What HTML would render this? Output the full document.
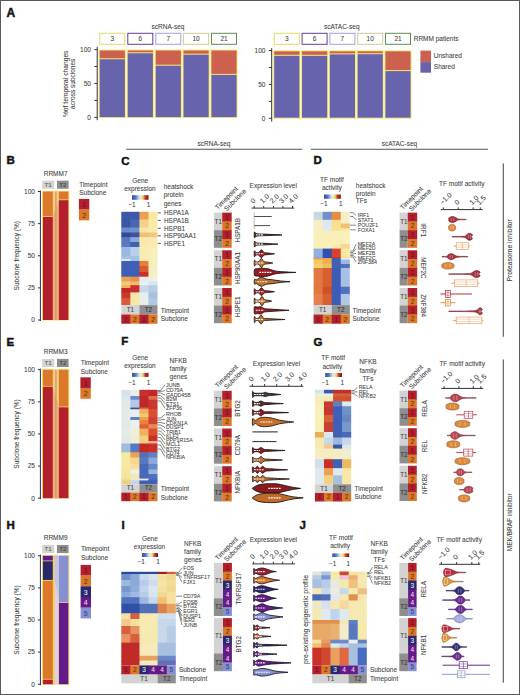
<!DOCTYPE html>
<html><head><meta charset="utf-8"><style>
html,body{margin:0;padding:0;background:#fff;}
svg{display:block;font-family:"Liberation Sans", sans-serif;}
text{stroke-width:0.07px;paint-order:stroke;}
</style></head><body>
<svg width="520" height="695" viewBox="0 0 520 695"><rect x="0.5" y="0.5" width="519" height="694" fill="none" stroke="#5a5a5a" stroke-width="1"/>
<text x="6.6" y="16.8" font-size="12" fill="#111" stroke="#111" font-weight="bold" style="stroke-width:0.45px" >A</text>
<rect x="99.8" y="33.3" width="25" height="11" fill="#fff" stroke="#e2da62" stroke-width="1"/>
<text x="112.3" y="41.4" font-size="6.5" fill="#404040" stroke="#404040" text-anchor="middle" >3</text>
<rect x="127.8" y="33.3" width="25" height="11" fill="#fff" stroke="#6a3c90" stroke-width="1"/>
<text x="140.3" y="41.4" font-size="6.5" fill="#404040" stroke="#404040" text-anchor="middle" >6</text>
<rect x="155.8" y="33.3" width="25" height="11" fill="#fff" stroke="#a09ee0" stroke-width="1"/>
<text x="168.3" y="41.4" font-size="6.5" fill="#404040" stroke="#404040" text-anchor="middle" >7</text>
<rect x="183.6" y="33.3" width="25" height="11" fill="#fff" stroke="#d6c796" stroke-width="1"/>
<text x="196.1" y="41.4" font-size="6.5" fill="#404040" stroke="#404040" text-anchor="middle" >10</text>
<rect x="211.5" y="33.3" width="25" height="11" fill="#fff" stroke="#5c8c52" stroke-width="1"/>
<text x="224" y="41.4" font-size="6.5" fill="#404040" stroke="#404040" text-anchor="middle" >21</text>
<text x="151.5" y="28.8" font-size="6.5" fill="#404040" stroke="#404040" >scRNA-seq</text>
<line x1="97.2" y1="46.8" x2="97.2" y2="120.2" stroke="#333" stroke-width="1" />
<line x1="94.4" y1="49.6" x2="97.2" y2="49.6" stroke="#333" stroke-width="1" />
<text x="90.9" y="51.9" font-size="6.5" fill="#404040" stroke="#404040" text-anchor="end" >100</text>
<line x1="94.4" y1="66.55" x2="97.2" y2="66.55" stroke="#333" stroke-width="1" />
<line x1="94.4" y1="83.5" x2="97.2" y2="83.5" stroke="#333" stroke-width="1" />
<text x="90.9" y="85.8" font-size="6.5" fill="#404040" stroke="#404040" text-anchor="end" >50</text>
<line x1="94.4" y1="100.45" x2="97.2" y2="100.45" stroke="#333" stroke-width="1" />
<line x1="94.4" y1="117.4" x2="97.2" y2="117.4" stroke="#333" stroke-width="1" />
<text x="90.9" y="119.7" font-size="6.5" fill="#404040" stroke="#404040" text-anchor="end" >0</text>
<rect x="98.6" y="49.5" width="27.3" height="68.6" fill="#f7e97a"/>
<rect x="99.7" y="50.5" width="25.2" height="7.8" fill="#cd6150"/>
<rect x="99.7" y="59.3" width="25.2" height="57.8" fill="#6863ad"/>
<rect x="126.6" y="49.5" width="27.3" height="68.6" fill="#f7e97a"/>
<rect x="127.7" y="50.5" width="25.2" height="1.8" fill="#cd6150"/>
<rect x="127.7" y="53.3" width="25.2" height="63.8" fill="#6863ad"/>
<rect x="154.6" y="49.5" width="27.3" height="68.6" fill="#f7e97a"/>
<rect x="155.7" y="50.5" width="25.2" height="14.2" fill="#cd6150"/>
<rect x="155.7" y="65.7" width="25.2" height="51.4" fill="#6863ad"/>
<rect x="182.4" y="49.5" width="27.3" height="68.6" fill="#f7e97a"/>
<rect x="183.5" y="50.5" width="25.2" height="3.2" fill="#cd6150"/>
<rect x="183.5" y="54.7" width="25.2" height="62.4" fill="#6863ad"/>
<rect x="210.3" y="49.5" width="27.3" height="68.6" fill="#f7e97a"/>
<rect x="211.4" y="50.5" width="25.2" height="23.4" fill="#cd6150"/>
<rect x="211.4" y="74.9" width="25.2" height="42.2" fill="#6863ad"/>
<rect x="274.3" y="33.3" width="25" height="11" fill="#fff" stroke="#e2da62" stroke-width="1"/>
<text x="286.8" y="41.4" font-size="6.5" fill="#404040" stroke="#404040" text-anchor="middle" >3</text>
<rect x="302.1" y="33.3" width="25" height="11" fill="#fff" stroke="#6a3c90" stroke-width="1"/>
<text x="314.6" y="41.4" font-size="6.5" fill="#404040" stroke="#404040" text-anchor="middle" >6</text>
<rect x="329.9" y="33.3" width="25" height="11" fill="#fff" stroke="#a09ee0" stroke-width="1"/>
<text x="342.4" y="41.4" font-size="6.5" fill="#404040" stroke="#404040" text-anchor="middle" >7</text>
<rect x="357.7" y="33.3" width="25" height="11" fill="#fff" stroke="#d6c796" stroke-width="1"/>
<text x="370.2" y="41.4" font-size="6.5" fill="#404040" stroke="#404040" text-anchor="middle" >10</text>
<rect x="385.5" y="33.3" width="25" height="11" fill="#fff" stroke="#5c8c52" stroke-width="1"/>
<text x="398" y="41.4" font-size="6.5" fill="#404040" stroke="#404040" text-anchor="middle" >21</text>
<text x="324" y="28.8" font-size="6.5" fill="#404040" stroke="#404040" >scATAC-seq</text>
<line x1="271.7" y1="48.1" x2="271.7" y2="121.6" stroke="#333" stroke-width="1" />
<line x1="268.9" y1="50.5" x2="271.7" y2="50.5" stroke="#333" stroke-width="1" />
<text x="265.4" y="52.8" font-size="6.5" fill="#404040" stroke="#404040" text-anchor="end" >100</text>
<line x1="268.9" y1="67.45" x2="271.7" y2="67.45" stroke="#333" stroke-width="1" />
<line x1="268.9" y1="84.4" x2="271.7" y2="84.4" stroke="#333" stroke-width="1" />
<text x="265.4" y="86.7" font-size="6.5" fill="#404040" stroke="#404040" text-anchor="end" >50</text>
<line x1="268.9" y1="101.35" x2="271.7" y2="101.35" stroke="#333" stroke-width="1" />
<line x1="268.9" y1="118.3" x2="271.7" y2="118.3" stroke="#333" stroke-width="1" />
<text x="265.4" y="120.6" font-size="6.5" fill="#404040" stroke="#404040" text-anchor="end" >0</text>
<rect x="273.1" y="50.3" width="27.3" height="68.4" fill="#f7e97a"/>
<rect x="274.2" y="51.3" width="25.2" height="3.5" fill="#cd6150"/>
<rect x="274.2" y="55.8" width="25.2" height="61.9" fill="#6863ad"/>
<rect x="300.9" y="50.3" width="27.3" height="68.4" fill="#f7e97a"/>
<rect x="302" y="51.3" width="25.2" height="3.5" fill="#cd6150"/>
<rect x="302" y="55.8" width="25.2" height="61.9" fill="#6863ad"/>
<rect x="328.7" y="50.3" width="27.3" height="68.4" fill="#f7e97a"/>
<rect x="329.8" y="51.3" width="25.2" height="2.1" fill="#cd6150"/>
<rect x="329.8" y="54.4" width="25.2" height="63.3" fill="#6863ad"/>
<rect x="356.5" y="50.3" width="27.3" height="68.4" fill="#f7e97a"/>
<rect x="357.6" y="51.3" width="25.2" height="1.9" fill="#cd6150"/>
<rect x="357.6" y="54.2" width="25.2" height="63.5" fill="#6863ad"/>
<rect x="384.3" y="50.3" width="27.3" height="68.4" fill="#f7e97a"/>
<rect x="385.4" y="51.3" width="25.2" height="18.8" fill="#cd6150"/>
<rect x="385.4" y="71.1" width="25.2" height="46.6" fill="#6863ad"/>
<text x="413.7" y="40.8" font-size="6.5" fill="#404040" stroke="#404040" >RRMM patients</text>
<rect x="420.4" y="50.6" width="10.6" height="11.5" fill="#cd6150"/>
<rect x="420.4" y="62.1" width="10.6" height="10.6" fill="#6863ad"/>
<text x="433.8" y="58.3" font-size="6.5" fill="#404040" stroke="#404040" >Unshared</text>
<text x="433.8" y="69.3" font-size="6.5" fill="#404040" stroke="#404040" >Shared</text>
<text x="67.9" y="83.8" font-size="6.7" fill="#404040" stroke="#404040" text-anchor="middle" transform="rotate(-90 67.9 83.8)" >%of temporal changes</text>
<text x="75.3" y="83.8" font-size="6.5" fill="#404040" stroke="#404040" text-anchor="middle" transform="rotate(-90 75.3 83.8)" >across subclones</text>
<text x="214" y="146" font-size="6.5" fill="#404040" stroke="#404040" text-anchor="middle" >scRNA-seq</text>
<line x1="126.2" y1="149.3" x2="302.3" y2="149.3" stroke="#555" stroke-width="1.1" />
<text x="399.4" y="146" font-size="6.5" fill="#404040" stroke="#404040" text-anchor="middle" >scATAC-seq</text>
<line x1="310.8" y1="149.3" x2="488" y2="149.3" stroke="#555" stroke-width="1.1" />
<line x1="503.3" y1="163.5" x2="503.3" y2="336.8" stroke="#555" stroke-width="1.1" />
<line x1="503.3" y1="359.6" x2="503.3" y2="682.7" stroke="#555" stroke-width="1.1" />
<text x="512.3" y="250.3" font-size="6.8" fill="#404040" stroke="#404040" text-anchor="middle" transform="rotate(-90 512.3 250.3)" >Proteasome inhibitor</text>
<text x="512.3" y="522.3" font-size="6.5" fill="#404040" stroke="#404040" text-anchor="middle" transform="rotate(-90 512.3 522.3)" >MEK/BRAF inhibitor</text>
<text x="6.6" y="164.4" font-size="11.5" fill="#111" stroke="#111" font-weight="bold" style="stroke-width:0.45px" >B</text>
<text x="121.2" y="164.8" font-size="11.5" fill="#111" stroke="#111" font-weight="bold" style="stroke-width:0.45px" >C</text>
<text x="313.6" y="164.2" font-size="11.5" fill="#111" stroke="#111" font-weight="bold" style="stroke-width:0.45px" >D</text>
<text x="6.6" y="346" font-size="11.5" fill="#111" stroke="#111" font-weight="bold" style="stroke-width:0.45px" >E</text>
<text x="121.2" y="345.4" font-size="11.5" fill="#111" stroke="#111" font-weight="bold" style="stroke-width:0.45px" >F</text>
<text x="313.6" y="345.6" font-size="11.5" fill="#111" stroke="#111" font-weight="bold" style="stroke-width:0.45px" >G</text>
<text x="6.6" y="528.6" font-size="11.5" fill="#111" stroke="#111" font-weight="bold" style="stroke-width:0.45px" >H</text>
<text x="121.4" y="528.6" font-size="11.5" fill="#111" stroke="#111" font-weight="bold" style="stroke-width:0.45px" >I</text>
<text x="299.4" y="528.7" font-size="11.5" fill="#111" stroke="#111" font-weight="bold" style="stroke-width:0.45px" >J</text>
<text x="43.7" y="175.6" font-size="6.5" fill="#404040" stroke="#404040" >RRMM7</text>
<rect x="42.2" y="180.7" width="12" height="8.1" fill="#d3d3d3"/>
<rect x="57" y="180.7" width="11.6" height="8.1" fill="#8e8e8e"/>
<text x="48.2" y="187.2" font-size="6.2" fill="#555" stroke="#555" text-anchor="middle" >T1</text>
<text x="62.8" y="187.2" font-size="6.2" fill="#444" stroke="#444" text-anchor="middle" >T2</text>
<line x1="40.4" y1="190.5" x2="40.4" y2="321" stroke="#333" stroke-width="1" />
<line x1="37.9" y1="191.5" x2="40.4" y2="191.5" stroke="#333" stroke-width="1" />
<text x="34.9" y="193.8" font-size="6.5" fill="#404040" stroke="#404040" text-anchor="end" >100</text>
<line x1="37.9" y1="223.62" x2="40.4" y2="223.62" stroke="#333" stroke-width="1" />
<text x="34.9" y="225.93" font-size="6.5" fill="#404040" stroke="#404040" text-anchor="end" >75</text>
<line x1="37.9" y1="255.75" x2="40.4" y2="255.75" stroke="#333" stroke-width="1" />
<text x="34.9" y="258.05" font-size="6.5" fill="#404040" stroke="#404040" text-anchor="end" >50</text>
<line x1="37.9" y1="287.88" x2="40.4" y2="287.88" stroke="#333" stroke-width="1" />
<text x="34.9" y="290.18" font-size="6.5" fill="#404040" stroke="#404040" text-anchor="end" >25</text>
<line x1="37.9" y1="320" x2="40.4" y2="320" stroke="#333" stroke-width="1" />
<text x="34.9" y="322.3" font-size="6.5" fill="#404040" stroke="#404040" text-anchor="end" >0</text>
<text x="18.6" y="255.75" font-size="6.5" fill="#404040" stroke="#404040" text-anchor="middle" transform="rotate(-90 18.6 255.75)" >Subclone frequency (%)</text>
<rect x="42" y="190.7" width="27.3" height="129.9" fill="#fbe58a"/>
<polygon points="52.7,191.5 59,191.5 59,199.85 52.7,216.56" fill="#f7c98a"/>
<polygon points="52.7,216.56 59,199.85 59,320 52.7,320" fill="#f2ab7c"/>
<rect x="55.1" y="191.5" width="1.6" height="128.5" fill="#c8986a" opacity="0.75"/>
<rect x="52.8" y="191.1" width="0.8" height="25.46" fill="#f6d450"/>
<rect x="58" y="191.1" width="0.9" height="8.75" fill="#f6d450"/>
<rect x="42.1" y="191.1" width="0.9" height="128.9" fill="#f8e070"/>
<rect x="68.3" y="191.1" width="0.9" height="128.9" fill="#f8e070"/>
<rect x="42.9" y="191.5" width="9.9" height="24.71" fill="#dc782b"/>
<rect x="42.9" y="216.91" width="9.9" height="103.09" fill="#b2202d"/>
<rect x="58.9" y="191.5" width="9.5" height="8" fill="#dc782b"/>
<rect x="58.9" y="200.2" width="9.5" height="119.8" fill="#b2202d"/>
<text x="79.2" y="186.5" font-size="6.5" fill="#404040" stroke="#404040" >Timepoint</text>
<text x="79.2" y="195.4" font-size="6.5" fill="#404040" stroke="#404040" >Subclone</text>
<rect x="78.9" y="198.9" width="10.4" height="10.75" fill="#b2202d"/>
<text x="84.1" y="207.1" font-size="7" fill="#6e1018" stroke="#6e1018" text-anchor="middle" >1</text>
<rect x="78.9" y="209.6" width="10.4" height="10.75" fill="#dc782b"/>
<text x="84.1" y="217.8" font-size="7" fill="#5a3412" stroke="#5a3412" text-anchor="middle" >2</text>
<text x="43.7" y="353.8" font-size="6.5" fill="#404040" stroke="#404040" >RRMM3</text>
<rect x="42.2" y="358.9" width="12" height="8.1" fill="#d3d3d3"/>
<rect x="57" y="358.9" width="11.6" height="8.1" fill="#8e8e8e"/>
<text x="48.2" y="365.4" font-size="6.2" fill="#555" stroke="#555" text-anchor="middle" >T1</text>
<text x="62.8" y="365.4" font-size="6.2" fill="#444" stroke="#444" text-anchor="middle" >T2</text>
<line x1="40.4" y1="368.7" x2="40.4" y2="499.2" stroke="#333" stroke-width="1" />
<line x1="37.9" y1="369.7" x2="40.4" y2="369.7" stroke="#333" stroke-width="1" />
<text x="34.9" y="372" font-size="6.5" fill="#404040" stroke="#404040" text-anchor="end" >100</text>
<line x1="37.9" y1="401.82" x2="40.4" y2="401.82" stroke="#333" stroke-width="1" />
<text x="34.9" y="404.12" font-size="6.5" fill="#404040" stroke="#404040" text-anchor="end" >75</text>
<line x1="37.9" y1="433.95" x2="40.4" y2="433.95" stroke="#333" stroke-width="1" />
<text x="34.9" y="436.25" font-size="6.5" fill="#404040" stroke="#404040" text-anchor="end" >50</text>
<line x1="37.9" y1="466.07" x2="40.4" y2="466.07" stroke="#333" stroke-width="1" />
<text x="34.9" y="468.38" font-size="6.5" fill="#404040" stroke="#404040" text-anchor="end" >25</text>
<line x1="37.9" y1="498.2" x2="40.4" y2="498.2" stroke="#333" stroke-width="1" />
<text x="34.9" y="500.5" font-size="6.5" fill="#404040" stroke="#404040" text-anchor="end" >0</text>
<text x="18.6" y="433.95" font-size="6.5" fill="#404040" stroke="#404040" text-anchor="middle" transform="rotate(-90 18.6 433.95)" >Subclone frequency (%)</text>
<rect x="42" y="368.9" width="27.3" height="129.9" fill="#fbe58a"/>
<polygon points="52.7,369.7 59,369.7 59,406.96 52.7,386.28" fill="#f7c98a"/>
<polygon points="52.7,386.28 59,406.96 59,498.2 52.7,498.2" fill="#f2ab7c"/>
<rect x="55.1" y="369.7" width="1.6" height="128.5" fill="#c8986a" opacity="0.75"/>
<rect x="52.8" y="369.3" width="0.8" height="16.98" fill="#f6d450"/>
<rect x="58" y="369.3" width="0.9" height="37.66" fill="#f6d450"/>
<rect x="42.1" y="369.3" width="0.9" height="128.9" fill="#f8e070"/>
<rect x="68.3" y="369.3" width="0.9" height="128.9" fill="#f8e070"/>
<rect x="42.9" y="369.7" width="9.9" height="16.23" fill="#dc782b"/>
<rect x="42.9" y="386.63" width="9.9" height="111.57" fill="#b2202d"/>
<rect x="58.9" y="369.7" width="9.5" height="36.91" fill="#dc782b"/>
<rect x="58.9" y="407.31" width="9.5" height="90.88" fill="#b2202d"/>
<text x="80.7" y="365" font-size="6.5" fill="#404040" stroke="#404040" >Timepoint</text>
<text x="80.7" y="373.9" font-size="6.5" fill="#404040" stroke="#404040" >Subclone</text>
<rect x="80.4" y="377.3" width="10.4" height="10.75" fill="#b2202d"/>
<text x="85.6" y="385.5" font-size="7" fill="#6e1018" stroke="#6e1018" text-anchor="middle" >1</text>
<rect x="80.4" y="388" width="10.4" height="10.75" fill="#dc782b"/>
<text x="85.6" y="396.2" font-size="7" fill="#5a3412" stroke="#5a3412" text-anchor="middle" >2</text>
<text x="43.7" y="539.85" font-size="6.5" fill="#404040" stroke="#404040" >RRMM9</text>
<rect x="42.2" y="544.95" width="12" height="8.1" fill="#d3d3d3"/>
<rect x="57" y="544.95" width="11.6" height="8.1" fill="#8e8e8e"/>
<text x="48.2" y="551.45" font-size="6.2" fill="#555" stroke="#555" text-anchor="middle" >T1</text>
<text x="62.8" y="551.45" font-size="6.2" fill="#444" stroke="#444" text-anchor="middle" >T2</text>
<line x1="40.4" y1="554.75" x2="40.4" y2="685.25" stroke="#333" stroke-width="1" />
<line x1="37.9" y1="555.75" x2="40.4" y2="555.75" stroke="#333" stroke-width="1" />
<text x="34.9" y="558.05" font-size="6.5" fill="#404040" stroke="#404040" text-anchor="end" >100</text>
<line x1="37.9" y1="587.88" x2="40.4" y2="587.88" stroke="#333" stroke-width="1" />
<text x="34.9" y="590.17" font-size="6.5" fill="#404040" stroke="#404040" text-anchor="end" >75</text>
<line x1="37.9" y1="620" x2="40.4" y2="620" stroke="#333" stroke-width="1" />
<text x="34.9" y="622.3" font-size="6.5" fill="#404040" stroke="#404040" text-anchor="end" >50</text>
<line x1="37.9" y1="652.12" x2="40.4" y2="652.12" stroke="#333" stroke-width="1" />
<text x="34.9" y="654.42" font-size="6.5" fill="#404040" stroke="#404040" text-anchor="end" >25</text>
<line x1="37.9" y1="684.25" x2="40.4" y2="684.25" stroke="#333" stroke-width="1" />
<text x="34.9" y="686.55" font-size="6.5" fill="#404040" stroke="#404040" text-anchor="end" >0</text>
<text x="18.6" y="620" font-size="6.5" fill="#404040" stroke="#404040" text-anchor="middle" transform="rotate(-90 18.6 620)" >Subclone frequency (%)</text>
<rect x="42" y="554.95" width="27.3" height="129.9" fill="#fbe58a"/>
<rect x="52.8" y="555.75" width="6.9" height="128.5" fill="#e2cfdc"/>
<polygon points="54.5,555.75 59.7,555.75 59.7,602.52 54.5,579.75" fill="#c4c4e6"/>
<polygon points="52.8,676.25 56,684.25 52.8,684.25" fill="#f0d0b0"/>
<rect x="52.8" y="555.35" width="1.6" height="128.9" fill="#f6d04a"/>
<rect x="58.8" y="555.35" width="0.9" height="128.9" fill="#eef0a0"/>
<rect x="42.1" y="555.35" width="0.9" height="128.9" fill="#f8e070"/>
<rect x="68.3" y="555.35" width="0.9" height="128.9" fill="#f8e070"/>
<rect x="42.9" y="555.75" width="9.9" height="4.79" fill="#641b86"/>
<rect x="42.9" y="561.24" width="9.9" height="18.7" fill="#2a286c"/>
<rect x="42.9" y="580.64" width="9.9" height="98.25" fill="#dc782b"/>
<rect x="42.9" y="679.59" width="9.9" height="4.66" fill="#b2202d"/>
<rect x="58.9" y="555.75" width="9.5" height="46.42" fill="#8790d0"/>
<rect x="58.9" y="602.87" width="9.5" height="81.38" fill="#641b86"/>
<text x="80.9" y="551.1" font-size="6.5" fill="#404040" stroke="#404040" >Timepoint</text>
<text x="80.9" y="560" font-size="6.5" fill="#404040" stroke="#404040" >Subclone</text>
<rect x="80.6" y="564.9" width="10.4" height="10.75" fill="#b2202d"/>
<text x="85.8" y="573.1" font-size="7" fill="#6e1018" stroke="#6e1018" text-anchor="middle" >1</text>
<rect x="80.6" y="575.6" width="10.4" height="10.75" fill="#dc782b"/>
<text x="85.8" y="583.8" font-size="7" fill="#5a3412" stroke="#5a3412" text-anchor="middle" >2</text>
<rect x="80.6" y="586.3" width="10.4" height="10.75" fill="#2a286c"/>
<text x="85.8" y="594.5" font-size="7" fill="#e8e8f4" stroke="#e8e8f4" text-anchor="middle" >3</text>
<rect x="80.6" y="597" width="10.4" height="10.75" fill="#641b86"/>
<text x="85.8" y="605.2" font-size="7" fill="#f0d8f0" stroke="#f0d8f0" text-anchor="middle" >4</text>
<rect x="80.6" y="607.7" width="10.4" height="10.75" fill="#8790d0"/>
<text x="85.8" y="615.9" font-size="7" fill="#34408a" stroke="#34408a" text-anchor="middle" >5</text>
<text x="132.3" y="182.9" font-size="6.5" fill="#404040" stroke="#404040" >Gene</text>
<text x="124.2" y="190.8" font-size="6.5" fill="#404040" stroke="#404040" >expression</text>
<defs><linearGradient id="cbC" x1="0" x2="1" y1="0" y2="0"><stop offset="0" stop-color="#3a4ea0"/><stop offset="0.22" stop-color="#4f78c4"/><stop offset="0.42" stop-color="#c8dcea"/><stop offset="0.55" stop-color="#f4eec0"/><stop offset="0.68" stop-color="#f2c060"/><stop offset="0.8" stop-color="#c83a24"/><stop offset="1" stop-color="#7a1414"/></linearGradient></defs>
<rect x="132" y="195.2" width="16.5" height="4.6" fill="url(#cbC)"/>
<text x="128.3" y="207" font-size="6.5" fill="#404040" stroke="#404040" >−1</text>
<text x="146.8" y="207" font-size="6.5" fill="#404040" stroke="#404040" >1</text>
<text x="163.7" y="189.3" font-size="6.5" fill="#404040" stroke="#404040" >heatshock</text>
<text x="163.7" y="197.1" font-size="6.5" fill="#404040" stroke="#404040" >protein</text>
<text x="163.7" y="205.5" font-size="6.5" fill="#404040" stroke="#404040" >genes</text>
<rect x="121.3" y="211.8" width="9.65" height="8.3" fill="#3d57a9"/>
<rect x="130.35" y="211.8" width="9.65" height="8.3" fill="#3d57a9"/>
<rect x="139.4" y="211.8" width="9.65" height="8.3" fill="#eea050"/>
<rect x="148.45" y="211.8" width="9.05" height="8.3" fill="#f8eaa5"/>
<rect x="121.3" y="219.5" width="9.65" height="8.6" fill="#3a54a6"/>
<rect x="130.35" y="219.5" width="9.65" height="8.6" fill="#4a66b0"/>
<rect x="139.4" y="219.5" width="9.65" height="8.6" fill="#f5d08a"/>
<rect x="148.45" y="219.5" width="9.05" height="8.6" fill="#f8eaa8"/>
<rect x="121.3" y="227.5" width="9.65" height="5.6" fill="#6a8ccc"/>
<rect x="130.35" y="227.5" width="9.65" height="5.6" fill="#7090cc"/>
<rect x="139.4" y="227.5" width="9.65" height="5.6" fill="#f8e8a8"/>
<rect x="148.45" y="227.5" width="9.05" height="5.6" fill="#f8eaa8"/>
<rect x="121.3" y="232.5" width="9.65" height="5.3" fill="#33489c"/>
<rect x="130.35" y="232.5" width="9.65" height="5.3" fill="#3a50a0"/>
<rect x="139.4" y="232.5" width="9.65" height="5.3" fill="#f0c070"/>
<rect x="148.45" y="232.5" width="9.05" height="5.3" fill="#f0c880"/>
<rect x="121.3" y="237.2" width="9.65" height="5.4" fill="#5878c0"/>
<rect x="130.35" y="237.2" width="9.65" height="5.4" fill="#8aa8d8"/>
<rect x="139.4" y="237.2" width="9.65" height="5.4" fill="#f8eaa8"/>
<rect x="148.45" y="237.2" width="9.05" height="5.4" fill="#f8eab0"/>
<rect x="121.3" y="242" width="9.65" height="5.6" fill="#5878c0"/>
<rect x="130.35" y="242" width="9.65" height="5.6" fill="#4060b0"/>
<rect x="139.4" y="242" width="9.65" height="5.6" fill="#f8eaa8"/>
<rect x="148.45" y="242" width="9.05" height="5.6" fill="#f8eab0"/>
<rect x="121.3" y="247" width="9.65" height="9.6" fill="#9ab8e0"/>
<rect x="130.35" y="247" width="9.65" height="9.6" fill="#b8d0ea"/>
<rect x="139.4" y="247" width="9.65" height="9.6" fill="#f8ecb0"/>
<rect x="148.45" y="247" width="9.05" height="9.6" fill="#f8eeb8"/>
<rect x="121.3" y="256" width="9.65" height="3.6" fill="#a8c0e0"/>
<rect x="130.35" y="256" width="9.65" height="3.6" fill="#a8c0e0"/>
<rect x="139.4" y="256" width="9.65" height="3.6" fill="#f8ecb0"/>
<rect x="148.45" y="256" width="9.05" height="3.6" fill="#f8eeb8"/>
<rect x="121.3" y="259" width="9.65" height="2.6" fill="#dde8f0"/>
<rect x="130.35" y="259" width="9.65" height="2.6" fill="#a8c0e0"/>
<rect x="139.4" y="259" width="9.65" height="2.6" fill="#f8ecb0"/>
<rect x="148.45" y="259" width="9.05" height="2.6" fill="#f8eeb8"/>
<rect x="121.3" y="261" width="9.65" height="5.6" fill="#3d5fb5"/>
<rect x="130.35" y="261" width="9.65" height="5.6" fill="#3d5fb5"/>
<rect x="139.4" y="261" width="9.65" height="5.6" fill="#e8803a"/>
<rect x="148.45" y="261" width="9.05" height="5.6" fill="#f5f0c0"/>
<rect x="121.3" y="266" width="9.65" height="6.6" fill="#3d5fb5"/>
<rect x="130.35" y="266" width="9.65" height="6.6" fill="#3d5fb5"/>
<rect x="139.4" y="266" width="9.65" height="6.6" fill="#d85a30"/>
<rect x="148.45" y="266" width="9.05" height="6.6" fill="#f5f0c0"/>
<rect x="121.3" y="272" width="9.65" height="5.3" fill="#3d5fb5"/>
<rect x="130.35" y="272" width="9.65" height="5.3" fill="#3d5fb5"/>
<rect x="139.4" y="272" width="9.65" height="5.3" fill="#c83028"/>
<rect x="148.45" y="272" width="9.05" height="5.3" fill="#f5f0c0"/>
<rect x="121.3" y="276.7" width="9.65" height="5.3" fill="#f0a050"/>
<rect x="130.35" y="276.7" width="9.65" height="5.3" fill="#e8904a"/>
<rect x="139.4" y="276.7" width="9.65" height="5.3" fill="#e0ecf0"/>
<rect x="148.45" y="276.7" width="9.05" height="5.3" fill="#eef0e0"/>
<rect x="121.3" y="281.4" width="9.65" height="4.4" fill="#f5c878"/>
<rect x="130.35" y="281.4" width="9.65" height="4.4" fill="#f0b870"/>
<rect x="139.4" y="281.4" width="9.65" height="4.4" fill="#e8f0f0"/>
<rect x="148.45" y="281.4" width="9.05" height="4.4" fill="#d8e4ee"/>
<rect x="121.3" y="285.2" width="9.65" height="3.4" fill="#f0b060"/>
<rect x="130.35" y="285.2" width="9.65" height="3.4" fill="#c83030"/>
<rect x="139.4" y="285.2" width="9.65" height="3.4" fill="#c8d8ec"/>
<rect x="148.45" y="285.2" width="9.05" height="3.4" fill="#b8cce6"/>
<rect x="121.3" y="288" width="9.65" height="5" fill="#c02828"/>
<rect x="130.35" y="288" width="9.65" height="5" fill="#c83030"/>
<rect x="139.4" y="288" width="9.65" height="5" fill="#c8d8ec"/>
<rect x="148.45" y="288" width="9.05" height="5" fill="#b8cce6"/>
<rect x="121.3" y="292.4" width="9.65" height="6.5" fill="#c83a30"/>
<rect x="130.35" y="292.4" width="9.65" height="6.5" fill="#f8e8a8"/>
<rect x="139.4" y="292.4" width="9.65" height="6.5" fill="#e8eef0"/>
<rect x="148.45" y="292.4" width="9.05" height="6.5" fill="#a8c0e0"/>
<rect x="121.3" y="298.3" width="9.65" height="6.8" fill="#d85a38"/>
<rect x="130.35" y="298.3" width="9.65" height="6.8" fill="#f8e8a8"/>
<rect x="139.4" y="298.3" width="9.65" height="6.8" fill="#e8eef0"/>
<rect x="148.45" y="298.3" width="9.05" height="6.8" fill="#b0c8e4"/>
<rect x="121.3" y="305.1" width="18.1" height="9.4" fill="#d3d3d3"/>
<rect x="139.4" y="305.1" width="18.1" height="9.4" fill="#8e8e8e"/>
<text x="130.35" y="312.3" font-size="6.3" fill="#444" stroke="#444" text-anchor="middle" >T1</text>
<text x="148.45" y="312.3" font-size="6.3" fill="#333" stroke="#333" text-anchor="middle" >T2</text>
<rect x="121.3" y="314.5" width="9.55" height="9.25" fill="#b2202d"/>
<text x="125.83" y="321.55" font-size="6.5" fill="#6e1018" stroke="#6e1018" text-anchor="middle" >1</text>
<rect x="130.35" y="314.5" width="9.55" height="9.25" fill="#dc782b"/>
<text x="134.88" y="321.55" font-size="6.5" fill="#5a3412" stroke="#5a3412" text-anchor="middle" >2</text>
<rect x="139.4" y="314.5" width="9.55" height="9.25" fill="#b2202d"/>
<text x="143.93" y="321.55" font-size="6.5" fill="#6e1018" stroke="#6e1018" text-anchor="middle" >1</text>
<rect x="148.45" y="314.5" width="9.05" height="9.25" fill="#dc782b"/>
<text x="152.97" y="321.55" font-size="6.5" fill="#5a3412" stroke="#5a3412" text-anchor="middle" >2</text>
<text x="160.75" y="312.8" font-size="6.5" fill="#404040" stroke="#404040" >Timepoint</text>
<text x="160.75" y="321.4" font-size="6.5" fill="#404040" stroke="#404040" >Subclone</text>
<line x1="157.9" y1="212.9" x2="160.8" y2="212.9" stroke="#333" stroke-width="0.8" />
<text x="164" y="215.2" font-size="6.4" fill="#404040" stroke="#404040" >HSPA1A</text>
<line x1="157.9" y1="220.4" x2="160.8" y2="220.4" stroke="#333" stroke-width="0.8" />
<text x="164" y="222.7" font-size="6.4" fill="#404040" stroke="#404040" >HSPA1B</text>
<line x1="157.9" y1="228.3" x2="160.8" y2="228.3" stroke="#333" stroke-width="0.8" />
<text x="164" y="230.6" font-size="6.4" fill="#404040" stroke="#404040" >HSPB1</text>
<line x1="157.9" y1="235.8" x2="160.8" y2="235.8" stroke="#333" stroke-width="0.8" />
<text x="164" y="238.1" font-size="6.4" fill="#404040" stroke="#404040" >HSP90AA1</text>
<line x1="157.9" y1="243.4" x2="160.8" y2="243.4" stroke="#333" stroke-width="0.8" />
<text x="164" y="245.7" font-size="6.4" fill="#404040" stroke="#404040" >HSPE1</text>
<text x="320" y="182.1" font-size="6.5" fill="#404040" stroke="#404040" >TF motif</text>
<text x="322" y="190.2" font-size="6.5" fill="#404040" stroke="#404040" >activity</text>
<defs><linearGradient id="cbD" x1="0" x2="1" y1="0" y2="0"><stop offset="0" stop-color="#3a4ea0"/><stop offset="0.22" stop-color="#4f78c4"/><stop offset="0.42" stop-color="#c8dcea"/><stop offset="0.55" stop-color="#f4eec0"/><stop offset="0.68" stop-color="#f2c060"/><stop offset="0.8" stop-color="#c83a24"/><stop offset="1" stop-color="#7a1414"/></linearGradient></defs>
<rect x="324" y="194.5" width="16.8" height="4.3" fill="url(#cbD)"/>
<text x="320.2" y="206.3" font-size="6.5" fill="#404040" stroke="#404040" >−1</text>
<text x="339" y="206.3" font-size="6.5" fill="#404040" stroke="#404040" >1</text>
<text x="355.8" y="188.1" font-size="6.5" fill="#404040" stroke="#404040" >heatshock</text>
<text x="355.8" y="195.8" font-size="6.5" fill="#404040" stroke="#404040" >protein</text>
<text x="355.8" y="202.9" font-size="6.5" fill="#404040" stroke="#404040" >TFs</text>
<rect x="313.6" y="211.8" width="9.65" height="8.6" fill="#c8d8e0"/>
<rect x="322.65" y="211.8" width="9.65" height="8.6" fill="#7090c8"/>
<rect x="331.7" y="211.8" width="9.65" height="8.6" fill="#e88a40"/>
<rect x="340.75" y="211.8" width="9.05" height="8.6" fill="#f5f0c8"/>
<rect x="313.6" y="219.8" width="9.65" height="4.4" fill="#f5eec0"/>
<rect x="322.65" y="219.8" width="9.65" height="4.4" fill="#dde8f0"/>
<rect x="331.7" y="219.8" width="9.65" height="4.4" fill="#f8e090"/>
<rect x="340.75" y="219.8" width="9.05" height="4.4" fill="#f5f0c8"/>
<rect x="313.6" y="223.6" width="9.65" height="5.3" fill="#f5eec0"/>
<rect x="322.65" y="223.6" width="9.65" height="5.3" fill="#dde8f0"/>
<rect x="331.7" y="223.6" width="9.65" height="5.3" fill="#f8e090"/>
<rect x="340.75" y="223.6" width="9.05" height="5.3" fill="#f0c070"/>
<rect x="313.6" y="228.3" width="9.65" height="3.1" fill="#f5eec0"/>
<rect x="322.65" y="228.3" width="9.65" height="3.1" fill="#e0e8f0"/>
<rect x="331.7" y="228.3" width="9.65" height="3.1" fill="#f8e090"/>
<rect x="340.75" y="228.3" width="9.05" height="3.1" fill="#f5e8b0"/>
<rect x="313.6" y="230.8" width="9.65" height="13.8" fill="#f8f0b8"/>
<rect x="322.65" y="230.8" width="9.65" height="13.8" fill="#f8f0b8"/>
<rect x="331.7" y="230.8" width="9.65" height="13.8" fill="#f8f0b8"/>
<rect x="340.75" y="230.8" width="9.05" height="13.8" fill="#f8f0b8"/>
<rect x="313.6" y="244" width="9.65" height="5.2" fill="#f8f0b8"/>
<rect x="322.65" y="244" width="9.65" height="5.2" fill="#f8f0b8"/>
<rect x="331.7" y="244" width="9.65" height="5.2" fill="#f8eab0"/>
<rect x="340.75" y="244" width="9.05" height="5.2" fill="#f5d890"/>
<rect x="313.6" y="248.6" width="9.65" height="9" fill="#90b0e0"/>
<rect x="322.65" y="248.6" width="9.65" height="9" fill="#3050b0"/>
<rect x="331.7" y="248.6" width="9.65" height="9" fill="#d84030"/>
<rect x="340.75" y="248.6" width="9.05" height="9" fill="#f8e8a0"/>
<rect x="313.6" y="257" width="9.65" height="1.6" fill="#80a8e0"/>
<rect x="322.65" y="257" width="9.65" height="1.6" fill="#3050b0"/>
<rect x="331.7" y="257" width="9.65" height="1.6" fill="#d03020"/>
<rect x="340.75" y="257" width="9.05" height="1.6" fill="#f8e090"/>
<rect x="313.6" y="258" width="9.65" height="2.2" fill="#f0a050"/>
<rect x="322.65" y="258" width="9.65" height="2.2" fill="#f0a050"/>
<rect x="331.7" y="258" width="9.65" height="2.2" fill="#4060b0"/>
<rect x="340.75" y="258" width="9.05" height="2.2" fill="#e8eef0"/>
<rect x="313.6" y="259.6" width="9.65" height="5" fill="#f5c860"/>
<rect x="322.65" y="259.6" width="9.65" height="5" fill="#f0b050"/>
<rect x="331.7" y="259.6" width="9.65" height="5" fill="#4060b0"/>
<rect x="340.75" y="259.6" width="9.05" height="5" fill="#a0b8e0"/>
<rect x="313.6" y="264" width="9.65" height="4.6" fill="#f5d070"/>
<rect x="322.65" y="264" width="9.65" height="4.6" fill="#f0c060"/>
<rect x="331.7" y="264" width="9.65" height="4.6" fill="#4060b0"/>
<rect x="340.75" y="264" width="9.05" height="4.6" fill="#5070c0"/>
<rect x="313.6" y="268" width="9.65" height="19.3" fill="#e07840"/>
<rect x="322.65" y="268" width="9.65" height="19.3" fill="#d86030"/>
<rect x="331.7" y="268" width="9.65" height="19.3" fill="#3d5cb8"/>
<rect x="340.75" y="268" width="9.05" height="19.3" fill="#a8c0e4"/>
<rect x="313.6" y="286.7" width="9.65" height="7.9" fill="#e07840"/>
<rect x="322.65" y="286.7" width="9.65" height="7.9" fill="#d05028"/>
<rect x="331.7" y="286.7" width="9.65" height="7.9" fill="#3d5cb8"/>
<rect x="340.75" y="286.7" width="9.05" height="7.9" fill="#5070c0"/>
<rect x="313.6" y="294" width="9.65" height="11.1" fill="#e38050"/>
<rect x="322.65" y="294" width="9.65" height="11.1" fill="#d86030"/>
<rect x="331.7" y="294" width="9.65" height="11.1" fill="#3d5cb8"/>
<rect x="340.75" y="294" width="9.05" height="11.1" fill="#b0c8e4"/>
<rect x="313.6" y="305.1" width="18.1" height="9.4" fill="#d3d3d3"/>
<rect x="331.7" y="305.1" width="18.1" height="9.4" fill="#8e8e8e"/>
<text x="322.65" y="312.3" font-size="6.3" fill="#444" stroke="#444" text-anchor="middle" >T1</text>
<text x="340.75" y="312.3" font-size="6.3" fill="#333" stroke="#333" text-anchor="middle" >T2</text>
<rect x="313.6" y="314.5" width="9.55" height="9.25" fill="#b2202d"/>
<text x="318.12" y="321.55" font-size="6.5" fill="#6e1018" stroke="#6e1018" text-anchor="middle" >1</text>
<rect x="322.65" y="314.5" width="9.55" height="9.25" fill="#dc782b"/>
<text x="327.18" y="321.55" font-size="6.5" fill="#5a3412" stroke="#5a3412" text-anchor="middle" >2</text>
<rect x="331.7" y="314.5" width="9.55" height="9.25" fill="#b2202d"/>
<text x="336.23" y="321.55" font-size="6.5" fill="#6e1018" stroke="#6e1018" text-anchor="middle" >1</text>
<rect x="340.75" y="314.5" width="9.05" height="9.25" fill="#dc782b"/>
<text x="345.27" y="321.55" font-size="6.5" fill="#5a3412" stroke="#5a3412" text-anchor="middle" >2</text>
<text x="352.5" y="312.8" font-size="6.5" fill="#404040" stroke="#404040" >Timepoint</text>
<text x="352.5" y="321.4" font-size="6.5" fill="#404040" stroke="#404040" >Subclone</text>
<line x1="350.2" y1="212.6" x2="353" y2="212.6" stroke="#333" stroke-width="0.6" />
<line x1="353" y1="212.6" x2="356" y2="215.4" stroke="#333" stroke-width="0.6" />
<text x="357.7" y="217.2" font-size="5.3" fill="#404040" stroke="#404040" >IRF1</text>
<line x1="350.2" y1="216.5" x2="353" y2="216.5" stroke="#333" stroke-width="0.6" />
<line x1="353" y1="216.5" x2="356" y2="219.8" stroke="#333" stroke-width="0.6" />
<text x="357.7" y="221.6" font-size="5.3" fill="#404040" stroke="#404040" >STAT1</text>
<line x1="350.2" y1="225.2" x2="353" y2="225.2" stroke="#333" stroke-width="0.6" />
<line x1="353" y1="225.2" x2="356" y2="225.2" stroke="#333" stroke-width="0.6" />
<text x="357.7" y="227" font-size="5.3" fill="#404040" stroke="#404040" >POU2F1</text>
<line x1="350.2" y1="229.8" x2="353" y2="229.8" stroke="#333" stroke-width="0.6" />
<line x1="353" y1="229.8" x2="356" y2="229.8" stroke="#333" stroke-width="0.6" />
<text x="357.7" y="231.6" font-size="5.3" fill="#404040" stroke="#404040" >FOXA1</text>
<line x1="350.2" y1="251" x2="353" y2="251" stroke="#333" stroke-width="0.6" />
<line x1="353" y1="251" x2="356" y2="244.2" stroke="#333" stroke-width="0.6" />
<text x="357.7" y="246" font-size="5.3" fill="#404040" stroke="#404040" >MEF2A</text>
<line x1="350.2" y1="252.5" x2="353" y2="252.5" stroke="#333" stroke-width="0.6" />
<line x1="353" y1="252.5" x2="356" y2="248.6" stroke="#333" stroke-width="0.6" />
<text x="357.7" y="250.4" font-size="5.3" fill="#404040" stroke="#404040" >MEF2D</text>
<line x1="350.2" y1="254" x2="353" y2="254" stroke="#333" stroke-width="0.6" />
<line x1="353" y1="254" x2="356" y2="253.2" stroke="#333" stroke-width="0.6" />
<text x="357.7" y="255" font-size="5.3" fill="#404040" stroke="#404040" >MEF2B</text>
<line x1="350.2" y1="255.5" x2="353" y2="255.5" stroke="#333" stroke-width="0.6" />
<line x1="353" y1="255.5" x2="356" y2="257.8" stroke="#333" stroke-width="0.6" />
<text x="357.7" y="259.6" font-size="5.3" fill="#404040" stroke="#404040" >MEF2C</text>
<line x1="350.2" y1="257" x2="353" y2="257" stroke="#333" stroke-width="0.6" />
<line x1="353" y1="257" x2="356" y2="262.1" stroke="#333" stroke-width="0.6" />
<text x="357.7" y="263.9" font-size="5.3" fill="#404040" stroke="#404040" >ZNF384</text>
<text x="132.3" y="360.1" font-size="6.5" fill="#404040" stroke="#404040" >Gene</text>
<text x="124.2" y="368.2" font-size="6.5" fill="#404040" stroke="#404040" >expression</text>
<defs><linearGradient id="cbF" x1="0" x2="1" y1="0" y2="0"><stop offset="0" stop-color="#3a4ea0"/><stop offset="0.22" stop-color="#4f78c4"/><stop offset="0.42" stop-color="#c8dcea"/><stop offset="0.55" stop-color="#f4eec0"/><stop offset="0.68" stop-color="#f2c060"/><stop offset="0.8" stop-color="#c83a24"/><stop offset="1" stop-color="#7a1414"/></linearGradient></defs>
<rect x="132" y="372.9" width="16.5" height="4" fill="url(#cbF)"/>
<text x="128.3" y="384.5" font-size="6.5" fill="#404040" stroke="#404040" >−1</text>
<text x="146.8" y="384.5" font-size="6.5" fill="#404040" stroke="#404040" >1</text>
<text x="169.6" y="363.4" font-size="6.5" fill="#404040" stroke="#404040" >NFKB</text>
<text x="169.6" y="371.3" font-size="6.5" fill="#404040" stroke="#404040" >family</text>
<text x="169.6" y="379.1" font-size="6.5" fill="#404040" stroke="#404040" >genes</text>
<rect x="121.3" y="389.8" width="9.65" height="6.8" fill="#d8e2ea"/>
<rect x="130.35" y="389.8" width="9.65" height="6.8" fill="#e8eee8"/>
<rect x="139.4" y="389.8" width="9.65" height="6.8" fill="#c83030"/>
<rect x="148.45" y="389.8" width="9.05" height="6.8" fill="#c02828"/>
<rect x="121.3" y="396" width="9.65" height="4.3" fill="#dde6ea"/>
<rect x="130.35" y="396" width="9.65" height="4.3" fill="#6a8ccc"/>
<rect x="139.4" y="396" width="9.65" height="4.3" fill="#c02828"/>
<rect x="148.45" y="396" width="9.05" height="4.3" fill="#e07050"/>
<rect x="121.3" y="399.7" width="9.65" height="8.5" fill="#e0e8ea"/>
<rect x="130.35" y="399.7" width="9.65" height="8.5" fill="#b0c8ea"/>
<rect x="139.4" y="399.7" width="9.65" height="8.5" fill="#c02828"/>
<rect x="148.45" y="399.7" width="9.05" height="8.5" fill="#c83830"/>
<rect x="121.3" y="407.6" width="9.65" height="2.3" fill="#e0e8ea"/>
<rect x="130.35" y="407.6" width="9.65" height="2.3" fill="#3a5088"/>
<rect x="139.4" y="407.6" width="9.65" height="2.3" fill="#e07040"/>
<rect x="148.45" y="407.6" width="9.05" height="2.3" fill="#c83830"/>
<rect x="121.3" y="409.3" width="9.65" height="5" fill="#e4eaea"/>
<rect x="130.35" y="409.3" width="9.65" height="5" fill="#e8eef0"/>
<rect x="139.4" y="409.3" width="9.65" height="5" fill="#f0b060"/>
<rect x="148.45" y="409.3" width="9.05" height="5" fill="#d85030"/>
<rect x="121.3" y="413.7" width="9.65" height="3.9" fill="#e4eaea"/>
<rect x="130.35" y="413.7" width="9.65" height="3.9" fill="#e8eef0"/>
<rect x="139.4" y="413.7" width="9.65" height="3.9" fill="#f5c870"/>
<rect x="148.45" y="413.7" width="9.05" height="3.9" fill="#d85030"/>
<rect x="121.3" y="417" width="9.65" height="3.6" fill="#e4eaea"/>
<rect x="130.35" y="417" width="9.65" height="3.6" fill="#6080c8"/>
<rect x="139.4" y="417" width="9.65" height="3.6" fill="#f0a050"/>
<rect x="148.45" y="417" width="9.05" height="3.6" fill="#d04030"/>
<rect x="121.3" y="420" width="9.65" height="4.8" fill="#e2eae6"/>
<rect x="130.35" y="420" width="9.65" height="4.8" fill="#e8f0f0"/>
<rect x="139.4" y="420" width="9.65" height="4.8" fill="#e88040"/>
<rect x="148.45" y="420" width="9.05" height="4.8" fill="#d04030"/>
<rect x="121.3" y="424.2" width="9.65" height="5" fill="#e2eae6"/>
<rect x="130.35" y="424.2" width="9.65" height="5" fill="#e8f0f0"/>
<rect x="139.4" y="424.2" width="9.65" height="5" fill="#e06038"/>
<rect x="148.45" y="424.2" width="9.05" height="5" fill="#e88850"/>
<rect x="121.3" y="428.6" width="9.65" height="7.6" fill="#e4ece4"/>
<rect x="130.35" y="428.6" width="9.65" height="7.6" fill="#eef0dc"/>
<rect x="139.4" y="428.6" width="9.65" height="7.6" fill="#f0b060"/>
<rect x="148.45" y="428.6" width="9.05" height="7.6" fill="#d85030"/>
<rect x="121.3" y="435.6" width="9.65" height="6" fill="#e0e8e8"/>
<rect x="130.35" y="435.6" width="9.65" height="6" fill="#f0eed0"/>
<rect x="139.4" y="435.6" width="9.65" height="6" fill="#f5d080"/>
<rect x="148.45" y="435.6" width="9.05" height="6" fill="#c83028"/>
<rect x="121.3" y="441" width="9.65" height="3.1" fill="#e0e8e8"/>
<rect x="130.35" y="441" width="9.65" height="3.1" fill="#eef0dc"/>
<rect x="139.4" y="441" width="9.65" height="3.1" fill="#f5d080"/>
<rect x="148.45" y="441" width="9.05" height="3.1" fill="#f5b090"/>
<rect x="121.3" y="443.5" width="9.65" height="9.4" fill="#a0bce0"/>
<rect x="130.35" y="443.5" width="9.65" height="9.4" fill="#5878c0"/>
<rect x="139.4" y="443.5" width="9.65" height="9.4" fill="#c82820"/>
<rect x="148.45" y="443.5" width="9.05" height="9.4" fill="#c83028"/>
<rect x="121.3" y="452.3" width="9.65" height="5.8" fill="#f5e8a0"/>
<rect x="130.35" y="452.3" width="9.65" height="5.8" fill="#eca050"/>
<rect x="139.4" y="452.3" width="9.65" height="5.8" fill="#5070b8"/>
<rect x="148.45" y="452.3" width="9.05" height="5.8" fill="#6080c0"/>
<rect x="121.3" y="457.5" width="9.65" height="7.1" fill="#f5e8a0"/>
<rect x="130.35" y="457.5" width="9.65" height="7.1" fill="#f5d890"/>
<rect x="139.4" y="457.5" width="9.65" height="7.1" fill="#5878c0"/>
<rect x="148.45" y="457.5" width="9.05" height="7.1" fill="#8aa8d8"/>
<rect x="121.3" y="464" width="9.65" height="6.1" fill="#f5e8a0"/>
<rect x="130.35" y="464" width="9.65" height="6.1" fill="#f5e0a0"/>
<rect x="139.4" y="464" width="9.65" height="6.1" fill="#4868b8"/>
<rect x="148.45" y="464" width="9.05" height="6.1" fill="#6888c8"/>
<rect x="121.3" y="469.5" width="9.65" height="5.1" fill="#f5e49c"/>
<rect x="130.35" y="469.5" width="9.65" height="5.1" fill="#eef0e0"/>
<rect x="139.4" y="469.5" width="9.65" height="5.1" fill="#4868b8"/>
<rect x="148.45" y="469.5" width="9.05" height="5.1" fill="#98b4dc"/>
<rect x="121.3" y="474" width="9.65" height="5.2" fill="#f5e49c"/>
<rect x="130.35" y="474" width="9.65" height="5.2" fill="#f0e8c0"/>
<rect x="139.4" y="474" width="9.65" height="5.2" fill="#4a68b8"/>
<rect x="148.45" y="474" width="9.05" height="5.2" fill="#5070c0"/>
<rect x="121.3" y="478.6" width="9.65" height="2.4" fill="#f2dc90"/>
<rect x="130.35" y="478.6" width="9.65" height="2.4" fill="#f0e8c0"/>
<rect x="139.4" y="478.6" width="9.65" height="2.4" fill="#e8eef4"/>
<rect x="148.45" y="478.6" width="9.05" height="2.4" fill="#4a68b8"/>
<rect x="121.3" y="480.4" width="9.65" height="3.85" fill="#f0d080"/>
<rect x="130.35" y="480.4" width="9.65" height="3.85" fill="#c0d4ec"/>
<rect x="139.4" y="480.4" width="9.65" height="3.85" fill="#4060b0"/>
<rect x="148.45" y="480.4" width="9.05" height="3.85" fill="#4060b0"/>
<rect x="121.3" y="484.25" width="18.1" height="8.35" fill="#d3d3d3"/>
<rect x="139.4" y="484.25" width="18.1" height="8.35" fill="#8e8e8e"/>
<text x="130.35" y="490.4" font-size="6.3" fill="#444" stroke="#444" text-anchor="middle" >T1</text>
<text x="148.45" y="490.4" font-size="6.3" fill="#333" stroke="#333" text-anchor="middle" >T2</text>
<rect x="121.3" y="492.6" width="9.55" height="8.6" fill="#b2202d"/>
<text x="125.83" y="499" font-size="6.5" fill="#6e1018" stroke="#6e1018" text-anchor="middle" >1</text>
<rect x="130.35" y="492.6" width="9.55" height="8.6" fill="#dc782b"/>
<text x="134.88" y="499" font-size="6.5" fill="#5a3412" stroke="#5a3412" text-anchor="middle" >2</text>
<rect x="139.4" y="492.6" width="9.55" height="8.6" fill="#b2202d"/>
<text x="143.93" y="499" font-size="6.5" fill="#6e1018" stroke="#6e1018" text-anchor="middle" >1</text>
<rect x="148.45" y="492.6" width="9.05" height="8.6" fill="#dc782b"/>
<text x="152.97" y="499" font-size="6.5" fill="#5a3412" stroke="#5a3412" text-anchor="middle" >2</text>
<text x="160.75" y="490.6" font-size="6.5" fill="#404040" stroke="#404040" >Timepoint</text>
<text x="160.75" y="499.6" font-size="6.5" fill="#404040" stroke="#404040" >Subclone</text>
<line x1="157.8" y1="390.5" x2="160.5" y2="390.5" stroke="#333" stroke-width="0.6" />
<line x1="160.5" y1="390.5" x2="165" y2="384.8" stroke="#333" stroke-width="0.6" />
<text x="166" y="386.6" font-size="5.3" fill="#404040" stroke="#404040" >JUNB</text>
<line x1="157.8" y1="391.5" x2="160.5" y2="391.5" stroke="#333" stroke-width="0.6" />
<line x1="160.5" y1="391.5" x2="165" y2="390.6" stroke="#333" stroke-width="0.6" />
<text x="166" y="392.4" font-size="5.3" fill="#404040" stroke="#404040" >CD79A</text>
<line x1="157.8" y1="393" x2="160.5" y2="393" stroke="#333" stroke-width="0.6" />
<line x1="160.5" y1="393" x2="165" y2="395" stroke="#333" stroke-width="0.6" />
<text x="166" y="396.8" font-size="5.3" fill="#404040" stroke="#404040" >GADD45B</text>
<line x1="157.8" y1="395.5" x2="160.5" y2="395.5" stroke="#333" stroke-width="0.6" />
<line x1="160.5" y1="395.5" x2="165" y2="399.6" stroke="#333" stroke-width="0.6" />
<text x="166" y="401.4" font-size="5.3" fill="#404040" stroke="#404040" >B2M</text>
<line x1="157.8" y1="398" x2="160.5" y2="398" stroke="#333" stroke-width="0.6" />
<line x1="160.5" y1="398" x2="165" y2="403.7" stroke="#333" stroke-width="0.6" />
<text x="166" y="405.5" font-size="5.3" fill="#404040" stroke="#404040" >ETS1</text>
<line x1="157.8" y1="401" x2="160.5" y2="401" stroke="#333" stroke-width="0.6" />
<line x1="160.5" y1="401" x2="165" y2="408.3" stroke="#333" stroke-width="0.6" />
<text x="166" y="410.1" font-size="5.3" fill="#404040" stroke="#404040" >ZFP36</text>
<line x1="157.8" y1="418" x2="160.5" y2="418" stroke="#333" stroke-width="0.6" />
<line x1="160.5" y1="418" x2="165" y2="414.4" stroke="#333" stroke-width="0.6" />
<text x="166" y="416.2" font-size="5.3" fill="#404040" stroke="#404040" >RHOB</text>
<line x1="157.8" y1="420" x2="160.5" y2="420" stroke="#333" stroke-width="0.6" />
<line x1="160.5" y1="420" x2="165" y2="419.2" stroke="#333" stroke-width="0.6" />
<text x="166" y="421" font-size="5.3" fill="#404040" stroke="#404040" >JUN</text>
<line x1="157.8" y1="422.5" x2="160.5" y2="422.5" stroke="#333" stroke-width="0.6" />
<line x1="160.5" y1="422.5" x2="165" y2="423.6" stroke="#333" stroke-width="0.6" />
<text x="166" y="425.4" font-size="5.3" fill="#404040" stroke="#404040" >CDKN1A</text>
<line x1="157.8" y1="425" x2="160.5" y2="425" stroke="#333" stroke-width="0.6" />
<line x1="160.5" y1="425" x2="165" y2="427.5" stroke="#333" stroke-width="0.6" />
<text x="166" y="429.3" font-size="5.3" fill="#404040" stroke="#404040" >DUSP1</text>
<line x1="157.8" y1="428" x2="160.5" y2="428" stroke="#333" stroke-width="0.6" />
<line x1="160.5" y1="428" x2="165" y2="431.9" stroke="#333" stroke-width="0.6" />
<text x="166" y="433.7" font-size="5.3" fill="#404040" stroke="#404040" >TRIB1</text>
<line x1="157.8" y1="431" x2="160.5" y2="431" stroke="#333" stroke-width="0.6" />
<line x1="160.5" y1="431" x2="165" y2="436" stroke="#333" stroke-width="0.6" />
<text x="166" y="437.8" font-size="5.3" fill="#404040" stroke="#404040" >KLF2</text>
<line x1="157.8" y1="434" x2="160.5" y2="434" stroke="#333" stroke-width="0.6" />
<line x1="160.5" y1="434" x2="165" y2="440" stroke="#333" stroke-width="0.6" />
<text x="166" y="441.8" font-size="5.3" fill="#404040" stroke="#404040" >PPP1R15A</text>
<line x1="157.8" y1="437.5" x2="160.5" y2="437.5" stroke="#333" stroke-width="0.6" />
<line x1="160.5" y1="437.5" x2="165" y2="444" stroke="#333" stroke-width="0.6" />
<text x="166" y="445.8" font-size="5.3" fill="#404040" stroke="#404040" >MCL1</text>
<line x1="157.8" y1="441" x2="160.5" y2="441" stroke="#333" stroke-width="0.6" />
<line x1="160.5" y1="441" x2="165" y2="448.7" stroke="#333" stroke-width="0.6" />
<text x="166" y="450.5" font-size="5.3" fill="#404040" stroke="#404040" >BTG2</text>
<line x1="157.8" y1="445" x2="160.5" y2="445" stroke="#333" stroke-width="0.6" />
<line x1="160.5" y1="445" x2="165" y2="452.7" stroke="#333" stroke-width="0.6" />
<text x="166" y="454.5" font-size="5.3" fill="#404040" stroke="#404040" >CD74</text>
<line x1="157.8" y1="449" x2="160.5" y2="449" stroke="#333" stroke-width="0.6" />
<line x1="160.5" y1="449" x2="165" y2="456.7" stroke="#333" stroke-width="0.6" />
<text x="166" y="458.5" font-size="5.3" fill="#404040" stroke="#404040" >NFKBIA</text>
<text x="321.2" y="359.8" font-size="6.5" fill="#404040" stroke="#404040" >TF motif</text>
<text x="322.5" y="368.5" font-size="6.5" fill="#404040" stroke="#404040" >activity</text>
<defs><linearGradient id="cbG" x1="0" x2="1" y1="0" y2="0"><stop offset="0" stop-color="#3a4ea0"/><stop offset="0.22" stop-color="#4f78c4"/><stop offset="0.42" stop-color="#c8dcea"/><stop offset="0.55" stop-color="#f4eec0"/><stop offset="0.68" stop-color="#f2c060"/><stop offset="0.8" stop-color="#c83a24"/><stop offset="1" stop-color="#7a1414"/></linearGradient></defs>
<rect x="325.2" y="373" width="16.8" height="4" fill="url(#cbG)"/>
<text x="321.5" y="385" font-size="6.5" fill="#404040" stroke="#404040" >−1</text>
<text x="340.5" y="385" font-size="6.5" fill="#404040" stroke="#404040" >1</text>
<text x="368" y="363.8" font-size="6.5" fill="#404040" stroke="#404040" text-anchor="middle" >NFKB</text>
<text x="368" y="372.6" font-size="6.5" fill="#404040" stroke="#404040" text-anchor="middle" >family</text>
<text x="368" y="380.7" font-size="6.5" fill="#404040" stroke="#404040" text-anchor="middle" >TFs</text>
<rect x="314.9" y="389.8" width="9.68" height="4.2" fill="#d8e4e8"/>
<rect x="323.97" y="389.8" width="9.68" height="4.2" fill="#3858a8"/>
<rect x="333.05" y="389.8" width="9.68" height="4.2" fill="#c03028"/>
<rect x="342.12" y="389.8" width="9.07" height="4.2" fill="#c03028"/>
<rect x="314.9" y="393.4" width="9.68" height="3.7" fill="#e8f0e0"/>
<rect x="323.97" y="393.4" width="9.68" height="3.7" fill="#e8eef0"/>
<rect x="333.05" y="393.4" width="9.68" height="3.7" fill="#d86040"/>
<rect x="342.12" y="393.4" width="9.07" height="3.7" fill="#d86040"/>
<rect x="314.9" y="396.5" width="9.68" height="5.5" fill="#f5ecb8"/>
<rect x="323.97" y="396.5" width="9.68" height="5.5" fill="#f5e8b0"/>
<rect x="333.05" y="396.5" width="9.68" height="5.5" fill="#d05030"/>
<rect x="342.12" y="396.5" width="9.07" height="5.5" fill="#d05030"/>
<rect x="314.9" y="401.4" width="9.68" height="5.4" fill="#f8eeb0"/>
<rect x="323.97" y="401.4" width="9.68" height="5.4" fill="#c83830"/>
<rect x="333.05" y="401.4" width="9.68" height="5.4" fill="#6080c0"/>
<rect x="342.12" y="401.4" width="9.07" height="5.4" fill="#e0e8f0"/>
<rect x="314.9" y="406.2" width="9.68" height="9.4" fill="#f8eeb8"/>
<rect x="323.97" y="406.2" width="9.68" height="9.4" fill="#c83830"/>
<rect x="333.05" y="406.2" width="9.68" height="9.4" fill="#4060b8"/>
<rect x="342.12" y="406.2" width="9.07" height="9.4" fill="#7090c8"/>
<rect x="314.9" y="415" width="9.68" height="7.6" fill="#f8eeb8"/>
<rect x="323.97" y="415" width="9.68" height="7.6" fill="#d86038"/>
<rect x="333.05" y="415" width="9.68" height="7.6" fill="#4060b8"/>
<rect x="342.12" y="415" width="9.07" height="7.6" fill="#6888c4"/>
<rect x="314.9" y="422" width="9.68" height="10.6" fill="#f8eeb8"/>
<rect x="323.97" y="422" width="9.68" height="10.6" fill="#c84030"/>
<rect x="333.05" y="422" width="9.68" height="10.6" fill="#4060b8"/>
<rect x="342.12" y="422" width="9.07" height="10.6" fill="#7898cc"/>
<rect x="314.9" y="432" width="9.68" height="6.1" fill="#e8b050"/>
<rect x="323.97" y="432" width="9.68" height="6.1" fill="#dde8ee"/>
<rect x="333.05" y="432" width="9.68" height="6.1" fill="#4060b0"/>
<rect x="342.12" y="432" width="9.07" height="6.1" fill="#4868b8"/>
<rect x="314.9" y="437.5" width="9.68" height="7.7" fill="#f5e8b0"/>
<rect x="323.97" y="437.5" width="9.68" height="7.7" fill="#c8d8e8"/>
<rect x="333.05" y="437.5" width="9.68" height="7.7" fill="#a0b8dc"/>
<rect x="342.12" y="437.5" width="9.07" height="7.7" fill="#c8d8e8"/>
<rect x="314.9" y="444.6" width="9.68" height="4.6" fill="#f5e8b0"/>
<rect x="323.97" y="444.6" width="9.68" height="4.6" fill="#f0c890"/>
<rect x="333.05" y="444.6" width="9.68" height="4.6" fill="#3858a8"/>
<rect x="342.12" y="444.6" width="9.07" height="4.6" fill="#dde6ee"/>
<rect x="314.9" y="448.6" width="9.68" height="11.2" fill="#f5ecc0"/>
<rect x="323.97" y="448.6" width="9.68" height="11.2" fill="#f5ecc0"/>
<rect x="333.05" y="448.6" width="9.68" height="11.2" fill="#f5ecc0"/>
<rect x="342.12" y="448.6" width="9.07" height="11.2" fill="#f0eed0"/>
<rect x="314.9" y="459.2" width="9.68" height="9.6" fill="#d0e0ec"/>
<rect x="323.97" y="459.2" width="9.68" height="9.6" fill="#c83028"/>
<rect x="333.05" y="459.2" width="9.68" height="9.6" fill="#4060b8"/>
<rect x="342.12" y="459.2" width="9.07" height="9.6" fill="#f0b860"/>
<rect x="314.9" y="468.2" width="9.68" height="7.7" fill="#e0e8ee"/>
<rect x="323.97" y="468.2" width="9.68" height="7.7" fill="#f0a050"/>
<rect x="333.05" y="468.2" width="9.68" height="7.7" fill="#e0e8f0"/>
<rect x="342.12" y="468.2" width="9.07" height="7.7" fill="#f8e8a8"/>
<rect x="314.9" y="475.3" width="9.68" height="9" fill="#e0e8ee"/>
<rect x="323.97" y="475.3" width="9.68" height="9" fill="#f5d080"/>
<rect x="333.05" y="475.3" width="9.68" height="9" fill="#a8c0e0"/>
<rect x="342.12" y="475.3" width="9.07" height="9" fill="#f8e8a8"/>
<rect x="314.9" y="484.3" width="18.15" height="8.6" fill="#d3d3d3"/>
<rect x="333.05" y="484.3" width="18.15" height="8.6" fill="#8e8e8e"/>
<text x="323.97" y="490.7" font-size="6.3" fill="#444" stroke="#444" text-anchor="middle" >T1</text>
<text x="342.12" y="490.7" font-size="6.3" fill="#333" stroke="#333" text-anchor="middle" >T2</text>
<rect x="314.9" y="492.9" width="9.57" height="8.6" fill="#b2202d"/>
<text x="319.44" y="499.3" font-size="6.5" fill="#6e1018" stroke="#6e1018" text-anchor="middle" >1</text>
<rect x="323.97" y="492.9" width="9.57" height="8.6" fill="#dc782b"/>
<text x="328.51" y="499.3" font-size="6.5" fill="#5a3412" stroke="#5a3412" text-anchor="middle" >2</text>
<rect x="333.05" y="492.9" width="9.58" height="8.6" fill="#b2202d"/>
<text x="337.59" y="499.3" font-size="6.5" fill="#6e1018" stroke="#6e1018" text-anchor="middle" >1</text>
<rect x="342.12" y="492.9" width="9.07" height="8.6" fill="#dc782b"/>
<text x="346.66" y="499.3" font-size="6.5" fill="#5a3412" stroke="#5a3412" text-anchor="middle" >2</text>
<text x="354.5" y="490.6" font-size="6.5" fill="#404040" stroke="#404040" >Timepoint</text>
<text x="354.5" y="499.3" font-size="6.5" fill="#404040" stroke="#404040" >Subclone</text>
<line x1="351.5" y1="390.5" x2="354" y2="390.5" stroke="#333" stroke-width="0.6" />
<line x1="354" y1="390.5" x2="357.5" y2="387.1" stroke="#333" stroke-width="0.6" />
<text x="358.8" y="388.9" font-size="5.3" fill="#404040" stroke="#404040" >RELA</text>
<line x1="351.5" y1="392" x2="354" y2="392" stroke="#333" stroke-width="0.6" />
<line x1="354" y1="392" x2="357.5" y2="391.8" stroke="#333" stroke-width="0.6" />
<text x="358.8" y="393.6" font-size="5.3" fill="#404040" stroke="#404040" >REL</text>
<line x1="351.5" y1="393.5" x2="354" y2="393.5" stroke="#333" stroke-width="0.6" />
<line x1="354" y1="393.5" x2="357.5" y2="396.5" stroke="#333" stroke-width="0.6" />
<text x="358.8" y="398.3" font-size="5.3" fill="#404040" stroke="#404040" >NFKB2</text>
<text x="141.9" y="540.5" font-size="6.5" fill="#404040" stroke="#404040" >Gene</text>
<text x="133.8" y="548.5" font-size="6.5" fill="#404040" stroke="#404040" >expression</text>
<defs><linearGradient id="cbI" x1="0" x2="1" y1="0" y2="0"><stop offset="0" stop-color="#3a4ea0"/><stop offset="0.22" stop-color="#4f78c4"/><stop offset="0.42" stop-color="#c8dcea"/><stop offset="0.55" stop-color="#f4eec0"/><stop offset="0.68" stop-color="#f2c060"/><stop offset="0.8" stop-color="#c83a24"/><stop offset="1" stop-color="#7a1414"/></linearGradient></defs>
<rect x="141.9" y="553" width="16.1" height="4" fill="url(#cbI)"/>
<text x="137.5" y="564" font-size="6.5" fill="#404040" stroke="#404040" >−1</text>
<text x="156.3" y="564" font-size="6.5" fill="#404040" stroke="#404040" >1</text>
<text x="184.1" y="545.5" font-size="6.5" fill="#404040" stroke="#404040" >NFKB</text>
<text x="184.1" y="553.6" font-size="6.5" fill="#404040" stroke="#404040" >family</text>
<text x="184.1" y="561.8" font-size="6.5" fill="#404040" stroke="#404040" >genes</text>
<rect x="121.3" y="571.8" width="9.68" height="2.8" fill="#2c4a9a"/>
<rect x="130.38" y="571.8" width="9.68" height="2.8" fill="#2c4a9a"/>
<rect x="139.47" y="571.8" width="9.68" height="2.8" fill="#2c4a9a"/>
<rect x="148.55" y="571.8" width="9.68" height="2.8" fill="#2c4a9a"/>
<rect x="157.63" y="571.8" width="9.68" height="2.8" fill="#a02020"/>
<rect x="166.72" y="571.8" width="9.08" height="2.8" fill="#d06040"/>
<rect x="121.3" y="574" width="9.68" height="6.6" fill="#7090c8"/>
<rect x="130.38" y="574" width="9.68" height="6.6" fill="#8aa8d8"/>
<rect x="139.47" y="574" width="9.68" height="6.6" fill="#c8d8ec"/>
<rect x="148.55" y="574" width="9.68" height="6.6" fill="#d8e4f0"/>
<rect x="157.63" y="574" width="9.68" height="6.6" fill="#f5e0a0"/>
<rect x="166.72" y="574" width="9.08" height="6.6" fill="#f0d890"/>
<rect x="121.3" y="580" width="9.68" height="6.6" fill="#a0b8e0"/>
<rect x="130.38" y="580" width="9.68" height="6.6" fill="#8aa8d8"/>
<rect x="139.47" y="580" width="9.68" height="6.6" fill="#b8cce8"/>
<rect x="148.55" y="580" width="9.68" height="6.6" fill="#d0dcec"/>
<rect x="157.63" y="580" width="9.68" height="6.6" fill="#f5e4a8"/>
<rect x="166.72" y="580" width="9.08" height="6.6" fill="#f2dc98"/>
<rect x="121.3" y="586" width="9.68" height="6.6" fill="#7898cc"/>
<rect x="130.38" y="586" width="9.68" height="6.6" fill="#90acd8"/>
<rect x="139.47" y="586" width="9.68" height="6.6" fill="#c0d4ec"/>
<rect x="148.55" y="586" width="9.68" height="6.6" fill="#dce6f0"/>
<rect x="157.63" y="586" width="9.68" height="6.6" fill="#f5e0a0"/>
<rect x="166.72" y="586" width="9.08" height="6.6" fill="#f0d890"/>
<rect x="121.3" y="592" width="9.68" height="5.8" fill="#8aa8d8"/>
<rect x="130.38" y="592" width="9.68" height="5.8" fill="#a0b8e0"/>
<rect x="139.47" y="592" width="9.68" height="5.8" fill="#b8cce8"/>
<rect x="148.55" y="592" width="9.68" height="5.8" fill="#d8e4f0"/>
<rect x="157.63" y="592" width="9.68" height="5.8" fill="#f0d890"/>
<rect x="166.72" y="592" width="9.08" height="5.8" fill="#f5e0a0"/>
<rect x="121.3" y="597.2" width="9.68" height="7.2" fill="#5070c0"/>
<rect x="130.38" y="597.2" width="9.68" height="7.2" fill="#5070c0"/>
<rect x="139.47" y="597.2" width="9.68" height="7.2" fill="#a0b8e0"/>
<rect x="148.55" y="597.2" width="9.68" height="7.2" fill="#c8d8ec"/>
<rect x="157.63" y="597.2" width="9.68" height="7.2" fill="#f0c070"/>
<rect x="166.72" y="597.2" width="9.08" height="7.2" fill="#f5e0a0"/>
<rect x="121.3" y="603.8" width="9.68" height="10.1" fill="#3050a8"/>
<rect x="130.38" y="603.8" width="9.68" height="10.1" fill="#3050a8"/>
<rect x="139.47" y="603.8" width="9.68" height="10.1" fill="#5070b8"/>
<rect x="148.55" y="603.8" width="9.68" height="10.1" fill="#5070b8"/>
<rect x="157.63" y="603.8" width="9.68" height="10.1" fill="#e08048"/>
<rect x="166.72" y="603.8" width="9.08" height="10.1" fill="#e8a060"/>
<rect x="121.3" y="613.3" width="9.68" height="6.3" fill="#f5e0a0"/>
<rect x="130.38" y="613.3" width="9.68" height="6.3" fill="#d86040"/>
<rect x="139.47" y="613.3" width="9.68" height="6.3" fill="#f8eab0"/>
<rect x="148.55" y="613.3" width="9.68" height="6.3" fill="#f8eab0"/>
<rect x="157.63" y="613.3" width="9.68" height="6.3" fill="#d0e0ec"/>
<rect x="166.72" y="613.3" width="9.08" height="6.3" fill="#d0e0ec"/>
<rect x="121.3" y="619" width="9.68" height="7.6" fill="#f0c890"/>
<rect x="130.38" y="619" width="9.68" height="7.6" fill="#f5e0a0"/>
<rect x="139.47" y="619" width="9.68" height="7.6" fill="#f8eab0"/>
<rect x="148.55" y="619" width="9.68" height="7.6" fill="#f8eab0"/>
<rect x="157.63" y="619" width="9.68" height="7.6" fill="#c8d8ec"/>
<rect x="166.72" y="619" width="9.08" height="7.6" fill="#c8d8ec"/>
<rect x="121.3" y="626" width="9.68" height="8.6" fill="#d86040"/>
<rect x="130.38" y="626" width="9.68" height="8.6" fill="#e89060"/>
<rect x="139.47" y="626" width="9.68" height="8.6" fill="#f5eab0"/>
<rect x="148.55" y="626" width="9.68" height="8.6" fill="#f5eab0"/>
<rect x="157.63" y="626" width="9.68" height="8.6" fill="#c8d8ea"/>
<rect x="166.72" y="626" width="9.08" height="8.6" fill="#b8cce6"/>
<rect x="121.3" y="634" width="9.68" height="9.3" fill="#e89060"/>
<rect x="130.38" y="634" width="9.68" height="9.3" fill="#d86040"/>
<rect x="139.47" y="634" width="9.68" height="9.3" fill="#f5eab0"/>
<rect x="148.55" y="634" width="9.68" height="9.3" fill="#f5eab0"/>
<rect x="157.63" y="634" width="9.68" height="9.3" fill="#c8d8ea"/>
<rect x="166.72" y="634" width="9.08" height="9.3" fill="#b8cce6"/>
<rect x="121.3" y="642.7" width="9.68" height="13.7" fill="#c02a28"/>
<rect x="130.38" y="642.7" width="9.68" height="13.7" fill="#c02a28"/>
<rect x="139.47" y="642.7" width="9.68" height="13.7" fill="#f5eab8"/>
<rect x="148.55" y="642.7" width="9.68" height="13.7" fill="#f5eab8"/>
<rect x="157.63" y="642.7" width="9.68" height="13.7" fill="#a8c0e0"/>
<rect x="166.72" y="642.7" width="9.08" height="13.7" fill="#a8c0e0"/>
<rect x="121.3" y="655.8" width="9.68" height="5.3" fill="#c02a28"/>
<rect x="130.38" y="655.8" width="9.68" height="5.3" fill="#c02a28"/>
<rect x="139.47" y="655.8" width="9.68" height="5.3" fill="#e8a060"/>
<rect x="148.55" y="655.8" width="9.68" height="5.3" fill="#e8a060"/>
<rect x="157.63" y="655.8" width="9.68" height="5.3" fill="#6a88c8"/>
<rect x="166.72" y="655.8" width="9.08" height="5.3" fill="#6a88c8"/>
<rect x="121.3" y="660.5" width="9.68" height="4.8" fill="#c02a28"/>
<rect x="130.38" y="660.5" width="9.68" height="4.8" fill="#c02a28"/>
<rect x="139.47" y="660.5" width="9.68" height="4.8" fill="#f5eab8"/>
<rect x="148.55" y="660.5" width="9.68" height="4.8" fill="#f5eab8"/>
<rect x="157.63" y="660.5" width="9.68" height="4.8" fill="#6070b8"/>
<rect x="166.72" y="660.5" width="9.08" height="4.8" fill="#6070b8"/>
<rect x="121.3" y="665.4" width="9.58" height="9.3" fill="#b2202d"/>
<text x="125.84" y="672.2" font-size="6.5" fill="#6e1018" stroke="#6e1018" text-anchor="middle" >1</text>
<rect x="130.38" y="665.4" width="9.58" height="9.3" fill="#dc782b"/>
<text x="134.92" y="672.2" font-size="6.5" fill="#5a3412" stroke="#5a3412" text-anchor="middle" >2</text>
<rect x="139.47" y="665.4" width="9.58" height="9.3" fill="#2a286c"/>
<text x="144.01" y="672.2" font-size="6.5" fill="#e8e8f4" stroke="#e8e8f4" text-anchor="middle" >3</text>
<rect x="148.55" y="665.4" width="9.58" height="9.3" fill="#641b86"/>
<text x="153.09" y="672.2" font-size="6.5" fill="#f0d8f0" stroke="#f0d8f0" text-anchor="middle" >4</text>
<rect x="157.63" y="665.4" width="9.58" height="9.3" fill="#641b86"/>
<text x="162.17" y="672.2" font-size="6.5" fill="#f0d8f0" stroke="#f0d8f0" text-anchor="middle" >4</text>
<rect x="166.72" y="665.4" width="9.08" height="9.3" fill="#8790d0"/>
<text x="171.26" y="672.2" font-size="6.5" fill="#34408a" stroke="#34408a" text-anchor="middle" >5</text>
<rect x="121.3" y="674.4" width="36.33" height="8.9" fill="#d3d3d3"/>
<rect x="157.63" y="674.4" width="18.17" height="8.9" fill="#8e8e8e"/>
<text x="143.97" y="681.1" font-size="6.3" fill="#444" stroke="#444" text-anchor="middle" >T1</text>
<text x="166.72" y="681.1" font-size="6.3" fill="#333" stroke="#333" text-anchor="middle" >T2</text>
<text x="178.9" y="672.1" font-size="6.5" fill="#404040" stroke="#404040" >Subclone</text>
<text x="178.9" y="680.7" font-size="6.5" fill="#404040" stroke="#404040" >Timepoint</text>
<line x1="176.2" y1="572.5" x2="178.5" y2="572.5" stroke="#333" stroke-width="0.6" />
<line x1="178.5" y1="572.5" x2="182" y2="568.1" stroke="#333" stroke-width="0.6" />
<text x="183.2" y="569.9" font-size="5.3" fill="#404040" stroke="#404040" >FOS</text>
<line x1="176.2" y1="573.5" x2="178.5" y2="573.5" stroke="#333" stroke-width="0.6" />
<line x1="178.5" y1="573.5" x2="182" y2="572.7" stroke="#333" stroke-width="0.6" />
<text x="183.2" y="574.5" font-size="5.3" fill="#404040" stroke="#404040" >JUN</text>
<line x1="176.2" y1="574.5" x2="178.5" y2="574.5" stroke="#333" stroke-width="0.6" />
<line x1="178.5" y1="574.5" x2="182" y2="577.5" stroke="#333" stroke-width="0.6" />
<text x="183.2" y="579.3" font-size="5.3" fill="#404040" stroke="#404040" >TNFRSF17</text>
<line x1="176.2" y1="575.5" x2="178.5" y2="575.5" stroke="#333" stroke-width="0.6" />
<line x1="178.5" y1="575.5" x2="182" y2="582.1" stroke="#333" stroke-width="0.6" />
<text x="183.2" y="583.9" font-size="5.3" fill="#404040" stroke="#404040" >FJX1</text>
<line x1="176.2" y1="596.2" x2="178.5" y2="596.2" stroke="#333" stroke-width="0.6" />
<line x1="178.5" y1="596.2" x2="182" y2="596.2" stroke="#333" stroke-width="0.6" />
<text x="183.2" y="598" font-size="5.3" fill="#404040" stroke="#404040" >CD79A</text>
<line x1="176.2" y1="604" x2="178.5" y2="604" stroke="#333" stroke-width="0.6" />
<line x1="178.5" y1="604" x2="182" y2="601.9" stroke="#333" stroke-width="0.6" />
<text x="183.2" y="603.7" font-size="5.3" fill="#404040" stroke="#404040" >FOSB</text>
<line x1="176.2" y1="605.5" x2="178.5" y2="605.5" stroke="#333" stroke-width="0.6" />
<line x1="178.5" y1="605.5" x2="182" y2="606.3" stroke="#333" stroke-width="0.6" />
<text x="183.2" y="608.1" font-size="5.3" fill="#404040" stroke="#404040" >BTG2</text>
<line x1="176.2" y1="607" x2="178.5" y2="607" stroke="#333" stroke-width="0.6" />
<line x1="178.5" y1="607" x2="182" y2="611.3" stroke="#333" stroke-width="0.6" />
<text x="183.2" y="613.1" font-size="5.3" fill="#404040" stroke="#404040" >EGR1</text>
<line x1="176.2" y1="608.5" x2="178.5" y2="608.5" stroke="#333" stroke-width="0.6" />
<line x1="178.5" y1="608.5" x2="182" y2="616" stroke="#333" stroke-width="0.6" />
<text x="183.2" y="617.8" font-size="5.3" fill="#404040" stroke="#404040" >DUSP1</text>
<line x1="176.2" y1="610" x2="178.5" y2="610" stroke="#333" stroke-width="0.6" />
<line x1="178.5" y1="610" x2="182" y2="620.6" stroke="#333" stroke-width="0.6" />
<text x="183.2" y="622.4" font-size="5.3" fill="#404040" stroke="#404040" >IER2</text>
<line x1="176.2" y1="611.5" x2="178.5" y2="611.5" stroke="#333" stroke-width="0.6" />
<line x1="178.5" y1="611.5" x2="182" y2="625" stroke="#333" stroke-width="0.6" />
<text x="183.2" y="626.8" font-size="5.3" fill="#404040" stroke="#404040" >JUNB</text>
<text x="329.1" y="539.9" font-size="6.5" fill="#404040" stroke="#404040" >TF motif</text>
<text x="330.2" y="548.3" font-size="6.5" fill="#404040" stroke="#404040" >activity</text>
<defs><linearGradient id="cbJ" x1="0" x2="1" y1="0" y2="0"><stop offset="0" stop-color="#3a4ea0"/><stop offset="0.22" stop-color="#4f78c4"/><stop offset="0.42" stop-color="#c8dcea"/><stop offset="0.55" stop-color="#f4eec0"/><stop offset="0.68" stop-color="#f2c060"/><stop offset="0.8" stop-color="#c83a24"/><stop offset="1" stop-color="#7a1414"/></linearGradient></defs>
<rect x="332.3" y="553.4" width="16.9" height="3.6" fill="url(#cbJ)"/>
<text x="329" y="566.3" font-size="6.5" fill="#404040" stroke="#404040" >−1</text>
<text x="346.6" y="566.3" font-size="6.5" fill="#404040" stroke="#404040" >1</text>
<text x="379.2" y="545.5" font-size="6.5" fill="#404040" stroke="#404040" text-anchor="middle" >NFKB</text>
<text x="379.2" y="554.3" font-size="6.5" fill="#404040" stroke="#404040" text-anchor="middle" >family</text>
<text x="379.2" y="562.3" font-size="6.5" fill="#404040" stroke="#404040" text-anchor="middle" >TFs</text>
<rect x="312.3" y="571.5" width="9.68" height="4.3" fill="#e0e4e4"/>
<rect x="321.38" y="571.5" width="9.68" height="4.3" fill="#b0c4e4"/>
<rect x="330.47" y="571.5" width="9.68" height="4.3" fill="#f5e8a8"/>
<rect x="339.55" y="571.5" width="9.68" height="4.3" fill="#d04828"/>
<rect x="348.63" y="571.5" width="9.68" height="4.3" fill="#f5e4a0"/>
<rect x="357.72" y="571.5" width="9.08" height="4.3" fill="#f5e8b0"/>
<rect x="312.3" y="575.2" width="9.68" height="4.9" fill="#b8cce6"/>
<rect x="321.38" y="575.2" width="9.68" height="4.9" fill="#7898d0"/>
<rect x="330.47" y="575.2" width="9.68" height="4.9" fill="#f5e8b0"/>
<rect x="339.55" y="575.2" width="9.68" height="4.9" fill="#e8c8d8"/>
<rect x="348.63" y="575.2" width="9.68" height="4.9" fill="#eab070"/>
<rect x="357.72" y="575.2" width="9.08" height="4.9" fill="#f5e8b0"/>
<rect x="312.3" y="579.5" width="9.68" height="9.3" fill="#a8bfe0"/>
<rect x="321.38" y="579.5" width="9.68" height="9.3" fill="#b8cce8"/>
<rect x="330.47" y="579.5" width="9.68" height="9.3" fill="#e8eae0"/>
<rect x="339.55" y="579.5" width="9.68" height="9.3" fill="#f5e8b0"/>
<rect x="348.63" y="579.5" width="9.68" height="9.3" fill="#f0c080"/>
<rect x="357.72" y="579.5" width="9.08" height="9.3" fill="#f5e8b0"/>
<rect x="312.3" y="588.2" width="9.68" height="6.7" fill="#f5e8b0"/>
<rect x="321.38" y="588.2" width="9.68" height="6.7" fill="#c8d8ec"/>
<rect x="330.47" y="588.2" width="9.68" height="6.7" fill="#ecece0"/>
<rect x="339.55" y="588.2" width="9.68" height="6.7" fill="#c8d8ec"/>
<rect x="348.63" y="588.2" width="9.68" height="6.7" fill="#f5e8b0"/>
<rect x="357.72" y="588.2" width="9.08" height="6.7" fill="#eec080"/>
<rect x="312.3" y="594.3" width="9.68" height="6.8" fill="#4868b8"/>
<rect x="321.38" y="594.3" width="9.68" height="6.8" fill="#5070b8"/>
<rect x="330.47" y="594.3" width="9.68" height="6.8" fill="#e0e8f0"/>
<rect x="339.55" y="594.3" width="9.68" height="6.8" fill="#f5e8b0"/>
<rect x="348.63" y="594.3" width="9.68" height="6.8" fill="#e09050"/>
<rect x="357.72" y="594.3" width="9.08" height="6.8" fill="#f5e8b0"/>
<rect x="312.3" y="600.5" width="9.68" height="9.1" fill="#f0e8c0"/>
<rect x="321.38" y="600.5" width="9.68" height="9.1" fill="#d8e0ec"/>
<rect x="330.47" y="600.5" width="9.68" height="9.1" fill="#f5e8b0"/>
<rect x="339.55" y="600.5" width="9.68" height="9.1" fill="#f5d8a0"/>
<rect x="348.63" y="600.5" width="9.68" height="9.1" fill="#f5e8b0"/>
<rect x="357.72" y="600.5" width="9.08" height="9.1" fill="#f5e8b0"/>
<rect x="312.3" y="609" width="9.68" height="11.6" fill="#f5e8b0"/>
<rect x="321.38" y="609" width="9.68" height="11.6" fill="#e0e8f0"/>
<rect x="330.47" y="609" width="9.68" height="11.6" fill="#c0d4ec"/>
<rect x="339.55" y="609" width="9.68" height="11.6" fill="#e0e8f0"/>
<rect x="348.63" y="609" width="9.68" height="11.6" fill="#f5e8b0"/>
<rect x="357.72" y="609" width="9.08" height="11.6" fill="#f5e8b0"/>
<rect x="312.3" y="620" width="9.68" height="4.3" fill="#e09050"/>
<rect x="321.38" y="620" width="9.68" height="4.3" fill="#e09050"/>
<rect x="330.47" y="620" width="9.68" height="4.3" fill="#e09050"/>
<rect x="339.55" y="620" width="9.68" height="4.3" fill="#f5e8b0"/>
<rect x="348.63" y="620" width="9.68" height="4.3" fill="#6080c0"/>
<rect x="357.72" y="620" width="9.08" height="4.3" fill="#f5e8b0"/>
<rect x="312.3" y="623.7" width="9.68" height="16.6" fill="#e8a868"/>
<rect x="321.38" y="623.7" width="9.68" height="16.6" fill="#e8a868"/>
<rect x="330.47" y="623.7" width="9.68" height="16.6" fill="#eab070"/>
<rect x="339.55" y="623.7" width="9.68" height="16.6" fill="#f0eccc"/>
<rect x="348.63" y="623.7" width="9.68" height="16.6" fill="#5878c0"/>
<rect x="357.72" y="623.7" width="9.08" height="16.6" fill="#f5eaa8"/>
<rect x="312.3" y="639.7" width="9.68" height="4.3" fill="#f5e0a0"/>
<rect x="321.38" y="639.7" width="9.68" height="4.3" fill="#e89860"/>
<rect x="330.47" y="639.7" width="9.68" height="4.3" fill="#6a8ac8"/>
<rect x="339.55" y="639.7" width="9.68" height="4.3" fill="#6a8ac8"/>
<rect x="348.63" y="639.7" width="9.68" height="4.3" fill="#e8eef0"/>
<rect x="357.72" y="639.7" width="9.08" height="4.3" fill="#6080c0"/>
<rect x="312.3" y="643.4" width="9.68" height="4.9" fill="#f0c070"/>
<rect x="321.38" y="643.4" width="9.68" height="4.9" fill="#e08850"/>
<rect x="330.47" y="643.4" width="9.68" height="4.9" fill="#dde8f0"/>
<rect x="339.55" y="643.4" width="9.68" height="4.9" fill="#c0d4ec"/>
<rect x="348.63" y="643.4" width="9.68" height="4.9" fill="#a8c0e0"/>
<rect x="357.72" y="643.4" width="9.08" height="4.9" fill="#a8c0e0"/>
<rect x="312.3" y="647.7" width="9.68" height="17.8" fill="#c83028"/>
<rect x="321.38" y="647.7" width="9.68" height="17.8" fill="#d04830"/>
<rect x="330.47" y="647.7" width="9.68" height="17.8" fill="#e8a060"/>
<rect x="339.55" y="647.7" width="9.68" height="17.8" fill="#e06840"/>
<rect x="348.63" y="647.7" width="9.68" height="17.8" fill="#a8c0e0"/>
<rect x="357.72" y="647.7" width="9.08" height="17.8" fill="#4a6ac0"/>
<rect x="312.3" y="665.5" width="9.58" height="9.1" fill="#b2202d"/>
<text x="316.84" y="672.1" font-size="6.5" fill="#6e1018" stroke="#6e1018" text-anchor="middle" >1</text>
<rect x="321.38" y="665.5" width="9.58" height="9.1" fill="#dc782b"/>
<text x="325.93" y="672.1" font-size="6.5" fill="#5a3412" stroke="#5a3412" text-anchor="middle" >2</text>
<rect x="330.47" y="665.5" width="9.58" height="9.1" fill="#2a286c"/>
<text x="335.01" y="672.1" font-size="6.5" fill="#e8e8f4" stroke="#e8e8f4" text-anchor="middle" >3</text>
<rect x="339.55" y="665.5" width="9.58" height="9.1" fill="#641b86"/>
<text x="344.09" y="672.1" font-size="6.5" fill="#f0d8f0" stroke="#f0d8f0" text-anchor="middle" >4</text>
<rect x="348.63" y="665.5" width="9.58" height="9.1" fill="#641b86"/>
<text x="353.18" y="672.1" font-size="6.5" fill="#f0d8f0" stroke="#f0d8f0" text-anchor="middle" >4</text>
<rect x="357.72" y="665.5" width="9.08" height="9.1" fill="#8790d0"/>
<text x="362.26" y="672.1" font-size="6.5" fill="#34408a" stroke="#34408a" text-anchor="middle" >5</text>
<rect x="312.3" y="674.3" width="36.33" height="9" fill="#d3d3d3"/>
<rect x="348.63" y="674.3" width="18.17" height="9" fill="#8e8e8e"/>
<text x="330.47" y="681.1" font-size="6.3" fill="#444" stroke="#444" text-anchor="middle" >T1</text>
<text x="357.72" y="681.1" font-size="6.3" fill="#333" stroke="#333" text-anchor="middle" >T2</text>
<text x="369.9" y="672.1" font-size="6.5" fill="#404040" stroke="#404040" >Subclone</text>
<text x="369.9" y="680.7" font-size="6.5" fill="#404040" stroke="#404040" >Timepoint</text>
<line x1="367.2" y1="572.5" x2="369.5" y2="572.5" stroke="#333" stroke-width="0.6" />
<line x1="369.5" y1="572.5" x2="372.5" y2="567.1" stroke="#333" stroke-width="0.6" />
<text x="373.9" y="568.9" font-size="5.3" fill="#404040" stroke="#404040" >RELA</text>
<line x1="367.2" y1="573.5" x2="369.5" y2="573.5" stroke="#333" stroke-width="0.6" />
<line x1="369.5" y1="573.5" x2="372.5" y2="572.6" stroke="#333" stroke-width="0.6" />
<text x="373.9" y="574.4" font-size="5.3" fill="#404040" stroke="#404040" >REL</text>
<line x1="367.2" y1="575" x2="369.5" y2="575" stroke="#333" stroke-width="0.6" />
<line x1="369.5" y1="575" x2="372.5" y2="578" stroke="#333" stroke-width="0.6" />
<text x="373.9" y="579.8" font-size="5.3" fill="#404040" stroke="#404040" >NFKB1</text>
<line x1="367.2" y1="576.5" x2="369.5" y2="576.5" stroke="#333" stroke-width="0.6" />
<line x1="369.5" y1="576.5" x2="372.5" y2="583.4" stroke="#333" stroke-width="0.6" />
<text x="373.9" y="585.2" font-size="5.3" fill="#404040" stroke="#404040" >NFKB2</text>
<text x="308.3" y="619.5" font-size="6.85" fill="#404040" stroke="#404040" text-anchor="middle" transform="rotate(-90 308.3 619.5)" >pre-existing epigenetic profile</text>
<rect x="213.9" y="212.6" width="8.3" height="17.9" fill="#d3d3d3"/>
<rect x="213.9" y="230.2" width="8.3" height="17.6" fill="#8e8e8e"/>
<rect x="222.2" y="212.6" width="9.5" height="9.3" fill="#b2202d"/>
<rect x="222.2" y="221.4" width="9.5" height="9.3" fill="#dc782b"/>
<rect x="222.2" y="230.2" width="9.5" height="9.3" fill="#b2202d"/>
<rect x="222.2" y="239" width="9.5" height="8.8" fill="#dc782b"/>
<text x="226.95" y="219.6" font-size="6.5" fill="#6e1018" stroke="#6e1018" text-anchor="middle" >1</text>
<text x="226.95" y="228.4" font-size="6.5" fill="#5a3412" stroke="#5a3412" text-anchor="middle" >2</text>
<text x="226.95" y="237.2" font-size="6.5" fill="#6e1018" stroke="#6e1018" text-anchor="middle" >1</text>
<text x="226.95" y="246" font-size="6.5" fill="#5a3412" stroke="#5a3412" text-anchor="middle" >2</text>
<text x="218.25" y="223.7" font-size="6.3" fill="#444" stroke="#444" text-anchor="middle" >T1</text>
<text x="218.25" y="241.3" font-size="6.3" fill="#333" stroke="#333" text-anchor="middle" >T2</text>
<rect x="213.9" y="250.3" width="8.3" height="17.9" fill="#d3d3d3"/>
<rect x="213.9" y="267.9" width="8.3" height="17.6" fill="#8e8e8e"/>
<rect x="222.2" y="250.3" width="9.5" height="9.3" fill="#b2202d"/>
<rect x="222.2" y="259.1" width="9.5" height="9.3" fill="#dc782b"/>
<rect x="222.2" y="267.9" width="9.5" height="9.3" fill="#b2202d"/>
<rect x="222.2" y="276.7" width="9.5" height="8.8" fill="#dc782b"/>
<text x="226.95" y="257.3" font-size="6.5" fill="#6e1018" stroke="#6e1018" text-anchor="middle" >1</text>
<text x="226.95" y="266.1" font-size="6.5" fill="#5a3412" stroke="#5a3412" text-anchor="middle" >2</text>
<text x="226.95" y="274.9" font-size="6.5" fill="#6e1018" stroke="#6e1018" text-anchor="middle" >1</text>
<text x="226.95" y="283.7" font-size="6.5" fill="#5a3412" stroke="#5a3412" text-anchor="middle" >2</text>
<text x="218.25" y="261.4" font-size="6.3" fill="#444" stroke="#444" text-anchor="middle" >T1</text>
<text x="218.25" y="279" font-size="6.3" fill="#333" stroke="#333" text-anchor="middle" >T2</text>
<rect x="213.9" y="288" width="8.3" height="17.9" fill="#d3d3d3"/>
<rect x="213.9" y="305.6" width="8.3" height="17.6" fill="#8e8e8e"/>
<rect x="222.2" y="288" width="9.5" height="9.3" fill="#b2202d"/>
<rect x="222.2" y="296.8" width="9.5" height="9.3" fill="#dc782b"/>
<rect x="222.2" y="305.6" width="9.5" height="9.3" fill="#b2202d"/>
<rect x="222.2" y="314.4" width="9.5" height="8.8" fill="#dc782b"/>
<text x="226.95" y="295" font-size="6.5" fill="#6e1018" stroke="#6e1018" text-anchor="middle" >1</text>
<text x="226.95" y="303.8" font-size="6.5" fill="#5a3412" stroke="#5a3412" text-anchor="middle" >2</text>
<text x="226.95" y="312.6" font-size="6.5" fill="#6e1018" stroke="#6e1018" text-anchor="middle" >1</text>
<text x="226.95" y="321.4" font-size="6.5" fill="#5a3412" stroke="#5a3412" text-anchor="middle" >2</text>
<text x="218.25" y="299.1" font-size="6.3" fill="#444" stroke="#444" text-anchor="middle" >T1</text>
<text x="218.25" y="316.7" font-size="6.3" fill="#333" stroke="#333" text-anchor="middle" >T2</text>
<rect x="399.6" y="212.6" width="8.1" height="17.9" fill="#d3d3d3"/>
<rect x="399.6" y="230.2" width="8.1" height="17.6" fill="#8e8e8e"/>
<rect x="407.7" y="212.6" width="9.5" height="9.3" fill="#b2202d"/>
<rect x="407.7" y="221.4" width="9.5" height="9.3" fill="#dc782b"/>
<rect x="407.7" y="230.2" width="9.5" height="9.3" fill="#b2202d"/>
<rect x="407.7" y="239" width="9.5" height="8.8" fill="#dc782b"/>
<text x="412.45" y="219.6" font-size="6.5" fill="#6e1018" stroke="#6e1018" text-anchor="middle" >1</text>
<text x="412.45" y="228.4" font-size="6.5" fill="#5a3412" stroke="#5a3412" text-anchor="middle" >2</text>
<text x="412.45" y="237.2" font-size="6.5" fill="#6e1018" stroke="#6e1018" text-anchor="middle" >1</text>
<text x="412.45" y="246" font-size="6.5" fill="#5a3412" stroke="#5a3412" text-anchor="middle" >2</text>
<text x="403.85" y="223.7" font-size="6.3" fill="#444" stroke="#444" text-anchor="middle" >T1</text>
<text x="403.85" y="241.3" font-size="6.3" fill="#333" stroke="#333" text-anchor="middle" >T2</text>
<rect x="399.6" y="250.3" width="8.1" height="17.9" fill="#d3d3d3"/>
<rect x="399.6" y="267.9" width="8.1" height="17.6" fill="#8e8e8e"/>
<rect x="407.7" y="250.3" width="9.5" height="9.3" fill="#b2202d"/>
<rect x="407.7" y="259.1" width="9.5" height="9.3" fill="#dc782b"/>
<rect x="407.7" y="267.9" width="9.5" height="9.3" fill="#b2202d"/>
<rect x="407.7" y="276.7" width="9.5" height="8.8" fill="#dc782b"/>
<text x="412.45" y="257.3" font-size="6.5" fill="#6e1018" stroke="#6e1018" text-anchor="middle" >1</text>
<text x="412.45" y="266.1" font-size="6.5" fill="#5a3412" stroke="#5a3412" text-anchor="middle" >2</text>
<text x="412.45" y="274.9" font-size="6.5" fill="#6e1018" stroke="#6e1018" text-anchor="middle" >1</text>
<text x="412.45" y="283.7" font-size="6.5" fill="#5a3412" stroke="#5a3412" text-anchor="middle" >2</text>
<text x="403.85" y="261.4" font-size="6.3" fill="#444" stroke="#444" text-anchor="middle" >T1</text>
<text x="403.85" y="279" font-size="6.3" fill="#333" stroke="#333" text-anchor="middle" >T2</text>
<rect x="399.6" y="288" width="8.1" height="17.9" fill="#d3d3d3"/>
<rect x="399.6" y="305.6" width="8.1" height="17.6" fill="#8e8e8e"/>
<rect x="407.7" y="288" width="9.5" height="9.3" fill="#b2202d"/>
<rect x="407.7" y="296.8" width="9.5" height="9.3" fill="#dc782b"/>
<rect x="407.7" y="305.6" width="9.5" height="9.3" fill="#b2202d"/>
<rect x="407.7" y="314.4" width="9.5" height="8.8" fill="#dc782b"/>
<text x="412.45" y="295" font-size="6.5" fill="#6e1018" stroke="#6e1018" text-anchor="middle" >1</text>
<text x="412.45" y="303.8" font-size="6.5" fill="#5a3412" stroke="#5a3412" text-anchor="middle" >2</text>
<text x="412.45" y="312.6" font-size="6.5" fill="#6e1018" stroke="#6e1018" text-anchor="middle" >1</text>
<text x="412.45" y="321.4" font-size="6.5" fill="#5a3412" stroke="#5a3412" text-anchor="middle" >2</text>
<text x="403.85" y="299.1" font-size="6.3" fill="#444" stroke="#444" text-anchor="middle" >T1</text>
<text x="403.85" y="316.7" font-size="6.3" fill="#333" stroke="#333" text-anchor="middle" >T2</text>
<rect x="213.9" y="390.8" width="8.3" height="17.9" fill="#d3d3d3"/>
<rect x="213.9" y="408.4" width="8.3" height="17.6" fill="#8e8e8e"/>
<rect x="222.2" y="390.8" width="9.5" height="9.3" fill="#b2202d"/>
<rect x="222.2" y="399.6" width="9.5" height="9.3" fill="#dc782b"/>
<rect x="222.2" y="408.4" width="9.5" height="9.3" fill="#b2202d"/>
<rect x="222.2" y="417.2" width="9.5" height="8.8" fill="#dc782b"/>
<text x="226.95" y="397.8" font-size="6.5" fill="#6e1018" stroke="#6e1018" text-anchor="middle" >1</text>
<text x="226.95" y="406.6" font-size="6.5" fill="#5a3412" stroke="#5a3412" text-anchor="middle" >2</text>
<text x="226.95" y="415.4" font-size="6.5" fill="#6e1018" stroke="#6e1018" text-anchor="middle" >1</text>
<text x="226.95" y="424.2" font-size="6.5" fill="#5a3412" stroke="#5a3412" text-anchor="middle" >2</text>
<text x="218.25" y="401.9" font-size="6.3" fill="#444" stroke="#444" text-anchor="middle" >T1</text>
<text x="218.25" y="419.5" font-size="6.3" fill="#333" stroke="#333" text-anchor="middle" >T2</text>
<rect x="213.9" y="428.5" width="8.3" height="17.9" fill="#d3d3d3"/>
<rect x="213.9" y="446.1" width="8.3" height="17.6" fill="#8e8e8e"/>
<rect x="222.2" y="428.5" width="9.5" height="9.3" fill="#b2202d"/>
<rect x="222.2" y="437.3" width="9.5" height="9.3" fill="#dc782b"/>
<rect x="222.2" y="446.1" width="9.5" height="9.3" fill="#b2202d"/>
<rect x="222.2" y="454.9" width="9.5" height="8.8" fill="#dc782b"/>
<text x="226.95" y="435.5" font-size="6.5" fill="#6e1018" stroke="#6e1018" text-anchor="middle" >1</text>
<text x="226.95" y="444.3" font-size="6.5" fill="#5a3412" stroke="#5a3412" text-anchor="middle" >2</text>
<text x="226.95" y="453.1" font-size="6.5" fill="#6e1018" stroke="#6e1018" text-anchor="middle" >1</text>
<text x="226.95" y="461.9" font-size="6.5" fill="#5a3412" stroke="#5a3412" text-anchor="middle" >2</text>
<text x="218.25" y="439.6" font-size="6.3" fill="#444" stroke="#444" text-anchor="middle" >T1</text>
<text x="218.25" y="457.2" font-size="6.3" fill="#333" stroke="#333" text-anchor="middle" >T2</text>
<rect x="213.9" y="466.2" width="8.3" height="17.9" fill="#d3d3d3"/>
<rect x="213.9" y="483.8" width="8.3" height="17.6" fill="#8e8e8e"/>
<rect x="222.2" y="466.2" width="9.5" height="9.3" fill="#b2202d"/>
<rect x="222.2" y="475" width="9.5" height="9.3" fill="#dc782b"/>
<rect x="222.2" y="483.8" width="9.5" height="9.3" fill="#b2202d"/>
<rect x="222.2" y="492.6" width="9.5" height="8.8" fill="#dc782b"/>
<text x="226.95" y="473.2" font-size="6.5" fill="#6e1018" stroke="#6e1018" text-anchor="middle" >1</text>
<text x="226.95" y="482" font-size="6.5" fill="#5a3412" stroke="#5a3412" text-anchor="middle" >2</text>
<text x="226.95" y="490.8" font-size="6.5" fill="#6e1018" stroke="#6e1018" text-anchor="middle" >1</text>
<text x="226.95" y="499.6" font-size="6.5" fill="#5a3412" stroke="#5a3412" text-anchor="middle" >2</text>
<text x="218.25" y="477.3" font-size="6.3" fill="#444" stroke="#444" text-anchor="middle" >T1</text>
<text x="218.25" y="494.9" font-size="6.3" fill="#333" stroke="#333" text-anchor="middle" >T2</text>
<rect x="399.5" y="390.6" width="8.5" height="17.9" fill="#d3d3d3"/>
<rect x="399.5" y="408.2" width="8.5" height="17.6" fill="#8e8e8e"/>
<rect x="408" y="390.6" width="8.8" height="9.3" fill="#b2202d"/>
<rect x="408" y="399.4" width="8.8" height="9.3" fill="#dc782b"/>
<rect x="408" y="408.2" width="8.8" height="9.3" fill="#b2202d"/>
<rect x="408" y="417" width="8.8" height="8.8" fill="#dc782b"/>
<text x="412.4" y="397.6" font-size="6.5" fill="#6e1018" stroke="#6e1018" text-anchor="middle" >1</text>
<text x="412.4" y="406.4" font-size="6.5" fill="#5a3412" stroke="#5a3412" text-anchor="middle" >2</text>
<text x="412.4" y="415.2" font-size="6.5" fill="#6e1018" stroke="#6e1018" text-anchor="middle" >1</text>
<text x="412.4" y="424" font-size="6.5" fill="#5a3412" stroke="#5a3412" text-anchor="middle" >2</text>
<text x="403.95" y="401.7" font-size="6.3" fill="#444" stroke="#444" text-anchor="middle" >T1</text>
<text x="403.95" y="419.3" font-size="6.3" fill="#333" stroke="#333" text-anchor="middle" >T2</text>
<rect x="399.5" y="428.2" width="8.5" height="17.9" fill="#d3d3d3"/>
<rect x="399.5" y="445.8" width="8.5" height="17.6" fill="#8e8e8e"/>
<rect x="408" y="428.2" width="8.8" height="9.3" fill="#b2202d"/>
<rect x="408" y="437" width="8.8" height="9.3" fill="#dc782b"/>
<rect x="408" y="445.8" width="8.8" height="9.3" fill="#b2202d"/>
<rect x="408" y="454.6" width="8.8" height="8.8" fill="#dc782b"/>
<text x="412.4" y="435.2" font-size="6.5" fill="#6e1018" stroke="#6e1018" text-anchor="middle" >1</text>
<text x="412.4" y="444" font-size="6.5" fill="#5a3412" stroke="#5a3412" text-anchor="middle" >2</text>
<text x="412.4" y="452.8" font-size="6.5" fill="#6e1018" stroke="#6e1018" text-anchor="middle" >1</text>
<text x="412.4" y="461.6" font-size="6.5" fill="#5a3412" stroke="#5a3412" text-anchor="middle" >2</text>
<text x="403.95" y="439.3" font-size="6.3" fill="#444" stroke="#444" text-anchor="middle" >T1</text>
<text x="403.95" y="456.9" font-size="6.3" fill="#333" stroke="#333" text-anchor="middle" >T2</text>
<rect x="399.5" y="465.8" width="8.5" height="17.9" fill="#d3d3d3"/>
<rect x="399.5" y="483.4" width="8.5" height="17.6" fill="#8e8e8e"/>
<rect x="408" y="465.8" width="8.8" height="9.3" fill="#b2202d"/>
<rect x="408" y="474.6" width="8.8" height="9.3" fill="#dc782b"/>
<rect x="408" y="483.4" width="8.8" height="9.3" fill="#b2202d"/>
<rect x="408" y="492.2" width="8.8" height="8.8" fill="#dc782b"/>
<text x="412.4" y="472.8" font-size="6.5" fill="#6e1018" stroke="#6e1018" text-anchor="middle" >1</text>
<text x="412.4" y="481.6" font-size="6.5" fill="#5a3412" stroke="#5a3412" text-anchor="middle" >2</text>
<text x="412.4" y="490.4" font-size="6.5" fill="#6e1018" stroke="#6e1018" text-anchor="middle" >1</text>
<text x="412.4" y="499.2" font-size="6.5" fill="#5a3412" stroke="#5a3412" text-anchor="middle" >2</text>
<text x="403.95" y="476.9" font-size="6.3" fill="#444" stroke="#444" text-anchor="middle" >T1</text>
<text x="403.95" y="494.5" font-size="6.3" fill="#333" stroke="#333" text-anchor="middle" >T2</text>
<rect x="213.9" y="562.9" width="9.1" height="35.7" fill="#d3d3d3"/>
<rect x="213.9" y="598.3" width="9.1" height="17.7" fill="#8e8e8e"/>
<rect x="223" y="562.9" width="8.9" height="9.35" fill="#b2202d"/>
<rect x="223" y="571.75" width="8.9" height="9.35" fill="#dc782b"/>
<rect x="223" y="580.6" width="8.9" height="9.35" fill="#2a286c"/>
<rect x="223" y="589.45" width="8.9" height="9.35" fill="#641b86"/>
<rect x="223" y="598.3" width="8.9" height="9.35" fill="#641b86"/>
<rect x="223" y="607.15" width="8.9" height="8.85" fill="#8790d0"/>
<text x="227.45" y="569.95" font-size="6.5" fill="#6e1018" stroke="#6e1018" text-anchor="middle" >1</text>
<text x="227.45" y="578.8" font-size="6.5" fill="#5a3412" stroke="#5a3412" text-anchor="middle" >2</text>
<text x="227.45" y="587.65" font-size="6.5" fill="#e8e8f4" stroke="#e8e8f4" text-anchor="middle" >3</text>
<text x="227.45" y="596.5" font-size="6.5" fill="#f0d8f0" stroke="#f0d8f0" text-anchor="middle" >4</text>
<text x="227.45" y="605.35" font-size="6.5" fill="#f0d8f0" stroke="#f0d8f0" text-anchor="middle" >4</text>
<text x="227.45" y="614.2" font-size="6.5" fill="#34408a" stroke="#34408a" text-anchor="middle" >5</text>
<text x="218.65" y="582.9" font-size="6.3" fill="#444" stroke="#444" text-anchor="middle" >T1</text>
<text x="218.65" y="609.45" font-size="6.3" fill="#333" stroke="#333" text-anchor="middle" >T2</text>
<rect x="213.9" y="618.1" width="9.1" height="35.7" fill="#d3d3d3"/>
<rect x="213.9" y="653.5" width="9.1" height="17.7" fill="#8e8e8e"/>
<rect x="223" y="618.1" width="8.9" height="9.35" fill="#b2202d"/>
<rect x="223" y="626.95" width="8.9" height="9.35" fill="#dc782b"/>
<rect x="223" y="635.8" width="8.9" height="9.35" fill="#2a286c"/>
<rect x="223" y="644.65" width="8.9" height="9.35" fill="#641b86"/>
<rect x="223" y="653.5" width="8.9" height="9.35" fill="#641b86"/>
<rect x="223" y="662.35" width="8.9" height="8.85" fill="#8790d0"/>
<text x="227.45" y="625.15" font-size="6.5" fill="#6e1018" stroke="#6e1018" text-anchor="middle" >1</text>
<text x="227.45" y="634" font-size="6.5" fill="#5a3412" stroke="#5a3412" text-anchor="middle" >2</text>
<text x="227.45" y="642.85" font-size="6.5" fill="#e8e8f4" stroke="#e8e8f4" text-anchor="middle" >3</text>
<text x="227.45" y="651.7" font-size="6.5" fill="#f0d8f0" stroke="#f0d8f0" text-anchor="middle" >4</text>
<text x="227.45" y="660.55" font-size="6.5" fill="#f0d8f0" stroke="#f0d8f0" text-anchor="middle" >4</text>
<text x="227.45" y="669.4" font-size="6.5" fill="#34408a" stroke="#34408a" text-anchor="middle" >5</text>
<text x="218.65" y="638.1" font-size="6.3" fill="#444" stroke="#444" text-anchor="middle" >T1</text>
<text x="218.65" y="664.65" font-size="6.3" fill="#333" stroke="#333" text-anchor="middle" >T2</text>
<rect x="399.3" y="562.9" width="8.8" height="35.7" fill="#d3d3d3"/>
<rect x="399.3" y="598.3" width="8.8" height="17.7" fill="#8e8e8e"/>
<rect x="408.1" y="562.9" width="8.5" height="9.35" fill="#b2202d"/>
<rect x="408.1" y="571.75" width="8.5" height="9.35" fill="#dc782b"/>
<rect x="408.1" y="580.6" width="8.5" height="9.35" fill="#2a286c"/>
<rect x="408.1" y="589.45" width="8.5" height="9.35" fill="#641b86"/>
<rect x="408.1" y="598.3" width="8.5" height="9.35" fill="#641b86"/>
<rect x="408.1" y="607.15" width="8.5" height="8.85" fill="#8790d0"/>
<text x="412.35" y="569.95" font-size="6.5" fill="#6e1018" stroke="#6e1018" text-anchor="middle" >1</text>
<text x="412.35" y="578.8" font-size="6.5" fill="#5a3412" stroke="#5a3412" text-anchor="middle" >2</text>
<text x="412.35" y="587.65" font-size="6.5" fill="#e8e8f4" stroke="#e8e8f4" text-anchor="middle" >3</text>
<text x="412.35" y="596.5" font-size="6.5" fill="#f0d8f0" stroke="#f0d8f0" text-anchor="middle" >4</text>
<text x="412.35" y="605.35" font-size="6.5" fill="#f0d8f0" stroke="#f0d8f0" text-anchor="middle" >4</text>
<text x="412.35" y="614.2" font-size="6.5" fill="#34408a" stroke="#34408a" text-anchor="middle" >5</text>
<text x="403.9" y="582.9" font-size="6.3" fill="#444" stroke="#444" text-anchor="middle" >T1</text>
<text x="403.9" y="609.45" font-size="6.3" fill="#333" stroke="#333" text-anchor="middle" >T2</text>
<rect x="399.3" y="618.1" width="8.8" height="35.7" fill="#d3d3d3"/>
<rect x="399.3" y="653.5" width="8.8" height="17.7" fill="#8e8e8e"/>
<rect x="408.1" y="618.1" width="8.5" height="9.35" fill="#b2202d"/>
<rect x="408.1" y="626.95" width="8.5" height="9.35" fill="#dc782b"/>
<rect x="408.1" y="635.8" width="8.5" height="9.35" fill="#2a286c"/>
<rect x="408.1" y="644.65" width="8.5" height="9.35" fill="#641b86"/>
<rect x="408.1" y="653.5" width="8.5" height="9.35" fill="#641b86"/>
<rect x="408.1" y="662.35" width="8.5" height="8.85" fill="#8790d0"/>
<text x="412.35" y="625.15" font-size="6.5" fill="#6e1018" stroke="#6e1018" text-anchor="middle" >1</text>
<text x="412.35" y="634" font-size="6.5" fill="#5a3412" stroke="#5a3412" text-anchor="middle" >2</text>
<text x="412.35" y="642.85" font-size="6.5" fill="#e8e8f4" stroke="#e8e8f4" text-anchor="middle" >3</text>
<text x="412.35" y="651.7" font-size="6.5" fill="#f0d8f0" stroke="#f0d8f0" text-anchor="middle" >4</text>
<text x="412.35" y="660.55" font-size="6.5" fill="#f0d8f0" stroke="#f0d8f0" text-anchor="middle" >4</text>
<text x="412.35" y="669.4" font-size="6.5" fill="#34408a" stroke="#34408a" text-anchor="middle" >5</text>
<text x="403.9" y="638.1" font-size="6.3" fill="#444" stroke="#444" text-anchor="middle" >T1</text>
<text x="403.9" y="664.65" font-size="6.3" fill="#333" stroke="#333" text-anchor="middle" >T2</text>
<text x="217.8" y="209.9" font-size="6.7" fill="#404040" stroke="#404040" transform="rotate(-45 217.8 209.9)" >Timepoint</text>
<text x="226.8" y="211.4" font-size="6.7" fill="#404040" stroke="#404040" transform="rotate(-45 226.8 211.4)" >Subclone</text>
<text x="402.8" y="209.9" font-size="6.7" fill="#404040" stroke="#404040" transform="rotate(-45 402.8 209.9)" >Timepoint</text>
<text x="411.8" y="211.4" font-size="6.7" fill="#404040" stroke="#404040" transform="rotate(-45 411.8 211.4)" >Subclone</text>
<text x="217.8" y="388.1" font-size="6.7" fill="#404040" stroke="#404040" transform="rotate(-45 217.8 388.1)" >Timepoint</text>
<text x="226.8" y="389.6" font-size="6.7" fill="#404040" stroke="#404040" transform="rotate(-45 226.8 389.6)" >Subclone</text>
<text x="402.8" y="388.1" font-size="6.7" fill="#404040" stroke="#404040" transform="rotate(-45 402.8 388.1)" >Timepoint</text>
<text x="411.8" y="389.6" font-size="6.7" fill="#404040" stroke="#404040" transform="rotate(-45 411.8 389.6)" >Subclone</text>
<text x="217.8" y="560.4" font-size="6.7" fill="#404040" stroke="#404040" transform="rotate(-45 217.8 560.4)" >Timepoint</text>
<text x="226.8" y="561.9" font-size="6.7" fill="#404040" stroke="#404040" transform="rotate(-45 226.8 561.9)" >Subclone</text>
<text x="402.8" y="560.4" font-size="6.7" fill="#404040" stroke="#404040" transform="rotate(-45 402.8 560.4)" >Timepoint</text>
<text x="411.8" y="561.9" font-size="6.7" fill="#404040" stroke="#404040" transform="rotate(-45 411.8 561.9)" >Subclone</text>
<text x="239.8" y="230.2" font-size="6.3" fill="#404040" stroke="#404040" text-anchor="middle" transform="rotate(-90 239.8 230.2)" >HSPA1B</text>
<text x="239.8" y="268" font-size="6.3" fill="#404040" stroke="#404040" text-anchor="middle" transform="rotate(-90 239.8 268)" >HSP90AA1</text>
<text x="239.8" y="306.8" font-size="6.3" fill="#404040" stroke="#404040" text-anchor="middle" transform="rotate(-90 239.8 306.8)" >HSPE1</text>
<text x="239.8" y="408.4" font-size="6.3" fill="#404040" stroke="#404040" text-anchor="middle" transform="rotate(-90 239.8 408.4)" >BTG2</text>
<text x="239.8" y="445.2" font-size="6.3" fill="#404040" stroke="#404040" text-anchor="middle" transform="rotate(-90 239.8 445.2)" >CD79A</text>
<text x="239.8" y="482.2" font-size="6.3" fill="#404040" stroke="#404040" text-anchor="middle" transform="rotate(-90 239.8 482.2)" >NFKBIA</text>
<text x="241" y="588.6" font-size="6.3" fill="#404040" stroke="#404040" text-anchor="middle" transform="rotate(-90 241 588.6)" >TNFRSF17</text>
<text x="241" y="644.3" font-size="6.3" fill="#404040" stroke="#404040" text-anchor="middle" transform="rotate(-90 241 644.3)" >BTG2</text>
<text x="420.6" y="230.2" font-size="6.3" fill="#404040" stroke="#404040" text-anchor="middle" transform="rotate(90 420.6 230.2)" >IRF1</text>
<text x="420.6" y="268" font-size="6.3" fill="#404040" stroke="#404040" text-anchor="middle" transform="rotate(90 420.6 268)" >MEF2C</text>
<text x="420.6" y="305.6" font-size="6.3" fill="#404040" stroke="#404040" text-anchor="middle" transform="rotate(90 420.6 305.6)" >ZNF384</text>
<text x="427.5" y="408.4" font-size="6.3" fill="#404040" stroke="#404040" text-anchor="middle" transform="rotate(-90 427.5 408.4)" >RELA</text>
<text x="427.5" y="446.2" font-size="6.3" fill="#404040" stroke="#404040" text-anchor="middle" transform="rotate(-90 427.5 446.2)" >REL</text>
<text x="427.5" y="483.8" font-size="6.3" fill="#404040" stroke="#404040" text-anchor="middle" transform="rotate(-90 427.5 483.8)" >NFKB2</text>
<text x="425.8" y="589.2" font-size="6.3" fill="#404040" stroke="#404040" text-anchor="middle" transform="rotate(-90 425.8 589.2)" >RELA</text>
<text x="425.8" y="644.9" font-size="6.3" fill="#404040" stroke="#404040" text-anchor="middle" transform="rotate(-90 425.8 644.9)" >NFKB1</text>
<line x1="251.5" y1="208.1" x2="294.2" y2="208.1" stroke="#333" stroke-width="1" />
<line x1="254.2" y1="205.9" x2="254.2" y2="208.1" stroke="#333" stroke-width="1" />
<text x="253.3" y="203.7" font-size="7" fill="#404040" stroke="#404040" transform="rotate(-45 253.3 203.7)" >0</text>
<line x1="263.7" y1="205.9" x2="263.7" y2="208.1" stroke="#333" stroke-width="1" />
<text x="262.8" y="203.7" font-size="7" fill="#404040" stroke="#404040" transform="rotate(-45 262.8 203.7)" >1.0</text>
<line x1="273.5" y1="205.9" x2="273.5" y2="208.1" stroke="#333" stroke-width="1" />
<text x="272.6" y="203.7" font-size="7" fill="#404040" stroke="#404040" transform="rotate(-45 272.6 203.7)" >2.0</text>
<line x1="282.9" y1="205.9" x2="282.9" y2="208.1" stroke="#333" stroke-width="1" />
<text x="282" y="203.7" font-size="7" fill="#404040" stroke="#404040" transform="rotate(-45 282 203.7)" >3.0</text>
<line x1="292.5" y1="205.9" x2="292.5" y2="208.1" stroke="#333" stroke-width="1" />
<text x="291.6" y="203.7" font-size="7" fill="#404040" stroke="#404040" transform="rotate(-45 291.6 203.7)" >4.0</text>
<text x="249.6" y="187.9" font-size="6.5" fill="#404040" stroke="#404040" >Expression level</text>
<line x1="440.9" y1="209.6" x2="482.7" y2="209.6" stroke="#333" stroke-width="1" />
<line x1="443.3" y1="207.4" x2="443.3" y2="209.6" stroke="#333" stroke-width="1" />
<text x="442.4" y="205.2" font-size="7" fill="#404040" stroke="#404040" transform="rotate(-45 442.4 205.2)" >−1.0</text>
<line x1="458.2" y1="207.4" x2="458.2" y2="209.6" stroke="#333" stroke-width="1" />
<text x="457.3" y="205.2" font-size="7" fill="#404040" stroke="#404040" transform="rotate(-45 457.3 205.2)" >0</text>
<line x1="473.1" y1="207.4" x2="473.1" y2="209.6" stroke="#333" stroke-width="1" />
<text x="472.2" y="205.2" font-size="7" fill="#404040" stroke="#404040" transform="rotate(-45 472.2 205.2)" >1.0</text>
<line x1="480.3" y1="207.4" x2="480.3" y2="209.6" stroke="#333" stroke-width="1" />
<text x="479.4" y="205.2" font-size="7" fill="#404040" stroke="#404040" transform="rotate(-45 479.4 205.2)" >1.5</text>
<text x="439" y="186.3" font-size="6.5" fill="#404040" stroke="#404040" >TF motif activity</text>
<line x1="249.4" y1="386.3" x2="303.3" y2="386.3" stroke="#333" stroke-width="1" />
<line x1="252.4" y1="384.1" x2="252.4" y2="386.3" stroke="#333" stroke-width="1" />
<text x="251.5" y="381.9" font-size="7" fill="#404040" stroke="#404040" transform="rotate(-45 251.5 381.9)" >0</text>
<line x1="264.6" y1="384.1" x2="264.6" y2="386.3" stroke="#333" stroke-width="1" />
<text x="263.7" y="381.9" font-size="7" fill="#404040" stroke="#404040" transform="rotate(-45 263.7 381.9)" >1.0</text>
<line x1="276.7" y1="384.1" x2="276.7" y2="386.3" stroke="#333" stroke-width="1" />
<text x="275.8" y="381.9" font-size="7" fill="#404040" stroke="#404040" transform="rotate(-45 275.8 381.9)" >2.0</text>
<line x1="288.9" y1="384.1" x2="288.9" y2="386.3" stroke="#333" stroke-width="1" />
<text x="288" y="381.9" font-size="7" fill="#404040" stroke="#404040" transform="rotate(-45 288 381.9)" >3.0</text>
<line x1="301.6" y1="384.1" x2="301.6" y2="386.3" stroke="#333" stroke-width="1" />
<text x="300.7" y="381.9" font-size="7" fill="#404040" stroke="#404040" transform="rotate(-45 300.7 381.9)" >4.0</text>
<text x="252.8" y="366.4" font-size="6.5" fill="#404040" stroke="#404040" >Expression level</text>
<line x1="441.4" y1="388.4" x2="483.2" y2="388.4" stroke="#333" stroke-width="1" />
<line x1="444.1" y1="386.2" x2="444.1" y2="388.4" stroke="#333" stroke-width="1" />
<text x="443.2" y="384" font-size="7" fill="#404040" stroke="#404040" transform="rotate(-45 443.2 384)" >−1.0</text>
<line x1="458.9" y1="386.2" x2="458.9" y2="388.4" stroke="#333" stroke-width="1" />
<text x="458" y="384" font-size="7" fill="#404040" stroke="#404040" transform="rotate(-45 458 384)" >0</text>
<line x1="473.3" y1="386.2" x2="473.3" y2="388.4" stroke="#333" stroke-width="1" />
<text x="472.4" y="384" font-size="7" fill="#404040" stroke="#404040" transform="rotate(-45 472.4 384)" >1.0</text>
<line x1="480.9" y1="386.2" x2="480.9" y2="388.4" stroke="#333" stroke-width="1" />
<text x="480" y="384" font-size="7" fill="#404040" stroke="#404040" transform="rotate(-45 480 384)" >1.5</text>
<text x="439.4" y="366" font-size="6.5" fill="#404040" stroke="#404040" >TF motif activity</text>
<line x1="252.3" y1="563.9" x2="295" y2="563.9" stroke="#333" stroke-width="1" />
<line x1="253.6" y1="561.7" x2="253.6" y2="563.9" stroke="#333" stroke-width="1" />
<text x="252.7" y="559.5" font-size="7" fill="#404040" stroke="#404040" transform="rotate(-45 252.7 559.5)" >0</text>
<line x1="263.3" y1="561.7" x2="263.3" y2="563.9" stroke="#333" stroke-width="1" />
<text x="262.4" y="559.5" font-size="7" fill="#404040" stroke="#404040" transform="rotate(-45 262.4 559.5)" >1.0</text>
<line x1="273.4" y1="561.7" x2="273.4" y2="563.9" stroke="#333" stroke-width="1" />
<text x="272.5" y="559.5" font-size="7" fill="#404040" stroke="#404040" transform="rotate(-45 272.5 559.5)" >2.0</text>
<line x1="282.7" y1="561.7" x2="282.7" y2="563.9" stroke="#333" stroke-width="1" />
<text x="281.8" y="559.5" font-size="7" fill="#404040" stroke="#404040" transform="rotate(-45 281.8 559.5)" >3.0</text>
<line x1="292.5" y1="561.7" x2="292.5" y2="563.9" stroke="#333" stroke-width="1" />
<text x="291.6" y="559.5" font-size="7" fill="#404040" stroke="#404040" transform="rotate(-45 291.6 559.5)" >4.0</text>
<text x="249.7" y="542.4" font-size="6.5" fill="#404040" stroke="#404040" >Expression level</text>
<line x1="439.1" y1="564.3" x2="480.2" y2="564.3" stroke="#333" stroke-width="1" />
<line x1="441.4" y1="562.1" x2="441.4" y2="564.3" stroke="#333" stroke-width="1" />
<text x="440.5" y="559.9" font-size="7" fill="#404040" stroke="#404040" transform="rotate(-45 440.5 559.9)" >−1.0</text>
<line x1="456.6" y1="562.1" x2="456.6" y2="564.3" stroke="#333" stroke-width="1" />
<text x="455.7" y="559.9" font-size="7" fill="#404040" stroke="#404040" transform="rotate(-45 455.7 559.9)" >0</text>
<line x1="471.8" y1="562.1" x2="471.8" y2="564.3" stroke="#333" stroke-width="1" />
<text x="470.9" y="559.9" font-size="7" fill="#404040" stroke="#404040" transform="rotate(-45 470.9 559.9)" >1.0</text>
<line x1="478.8" y1="562.1" x2="478.8" y2="564.3" stroke="#333" stroke-width="1" />
<text x="477.9" y="559.9" font-size="7" fill="#404040" stroke="#404040" transform="rotate(-45 477.9 559.9)" >1.5</text>
<text x="436.4" y="542.4" font-size="6.5" fill="#404040" stroke="#404040" >TF motif activity</text>
<line x1="254.2" y1="212" x2="254.2" y2="229" stroke="#999" stroke-width="0.6" />
<line x1="254.2" y1="216.5" x2="271.7" y2="216.5" stroke="#3a3a3a" stroke-width="0.9" />
<line x1="254.2" y1="225.6" x2="270" y2="225.6" stroke="#3a3a3a" stroke-width="0.9" />
<path d="M254.2,234.7 C254.25,234.23 254.25,232.13 254.5,231.9 C254.75,231.67 255.08,232.97 255.7,233.3 C256.32,233.63 256.45,233.75 258.2,233.9 C259.95,234.05 262.23,234.03 266.2,234.2 C270.17,234.37 279.37,234.78 282,234.9 L282,234.9 C279.37,235.02 270.17,235.43 266.2,235.6 C262.23,235.77 259.95,235.75 258.2,235.9 C256.45,236.05 256.32,236.17 255.7,236.5 C255.08,236.83 254.75,238.13 254.5,237.9 C254.25,237.67 254.25,235.57 254.2,235.1 Z" fill="#4a1418" stroke="#141010" stroke-width="0.85" stroke-linejoin="round"/>
<line x1="255.8" y1="234.9" x2="263.2" y2="234.9" stroke="#fff" stroke-width="1.1" stroke-dasharray="1.8 0.8"/>
<path d="M254.2,243.9 C254.25,243.43 254.25,241.33 254.5,241.1 C254.75,240.87 255.08,242.17 255.7,242.5 C256.32,242.83 256.45,242.95 258.2,243.1 C259.95,243.25 262.9,243.23 266.2,243.4 C269.5,243.57 276.03,243.98 278,244.1 L278,244.1 C276.03,244.22 269.5,244.63 266.2,244.8 C262.9,244.97 259.95,244.95 258.2,245.1 C256.45,245.25 256.32,245.37 255.7,245.7 C255.08,246.03 254.75,247.33 254.5,247.1 C254.25,246.87 254.25,244.77 254.2,244.3 Z" fill="#6a4a24" stroke="#141010" stroke-width="0.85" stroke-linejoin="round"/>
<line x1="255.8" y1="244.1" x2="263.2" y2="244.1" stroke="#fff" stroke-width="1.1" stroke-dasharray="1.8 0.8"/>
<path d="M254.2,253.6 C254.25,253.13 254.2,250.97 254.5,250.8 C254.8,250.63 255.27,252.33 256,252.6 C256.73,252.87 258,252.87 258.9,252.4 C259.8,251.93 260.57,249.8 261.4,249.8 C262.23,249.8 262.9,251.88 263.9,252.4 C264.9,252.92 265.63,252.67 267.4,252.9 C269.17,253.13 273.32,253.65 274.5,253.8 L274.5,253.8 C273.32,253.95 269.17,254.47 267.4,254.7 C265.63,254.93 264.9,254.68 263.9,255.2 C262.9,255.72 262.23,257.8 261.4,257.8 C260.57,257.8 259.8,255.67 258.9,255.2 C258,254.73 256.73,254.73 256,255 C255.27,255.27 254.8,256.97 254.5,256.8 C254.2,256.63 254.25,254.47 254.2,254 Z" fill="#a01c26" stroke="#141010" stroke-width="0.85" stroke-linejoin="round"/>
<line x1="255.8" y1="253.8" x2="263.9" y2="253.8" stroke="#fff" stroke-width="1.1" stroke-dasharray="1.8 0.8"/>
<path d="M254.2,262.8 C254.25,262.33 254.2,260.17 254.5,260 C254.8,259.83 255.27,261.53 256,261.8 C256.73,262.07 258,262.17 258.9,261.6 C259.8,261.03 260.57,258.4 261.4,258.4 C262.23,258.4 262.9,260.98 263.9,261.6 C264.9,262.22 265.92,261.87 267.4,262.1 C268.88,262.33 271.9,262.85 272.8,263 L272.8,263 C271.9,263.15 268.88,263.67 267.4,263.9 C265.92,264.13 264.9,263.78 263.9,264.4 C262.9,265.02 262.23,267.6 261.4,267.6 C260.57,267.6 259.8,264.97 258.9,264.4 C258,263.83 256.73,263.93 256,264.2 C255.27,264.47 254.8,266.17 254.5,266 C254.2,265.83 254.25,263.67 254.2,263.2 Z" fill="#c87a30" stroke="#141010" stroke-width="0.85" stroke-linejoin="round"/>
<line x1="255.8" y1="263" x2="263.9" y2="263" stroke="#fff" stroke-width="1.1" stroke-dasharray="1.8 0.8"/>
<path d="M254.2,272.2 C254.25,271.73 254.17,269.97 254.5,269.4 C254.83,268.83 254.92,269 256.2,268.8 C257.48,268.6 260.2,268.2 262.2,268.2 C264.2,268.2 266.37,268.43 268.2,268.8 C270.03,269.17 271.2,269.93 273.2,270.4 C275.2,270.87 276.42,271.27 280.2,271.6 C283.98,271.93 293.28,272.27 295.9,272.4 L295.9,272.4 C293.28,272.53 283.98,272.87 280.2,273.2 C276.42,273.53 275.2,273.93 273.2,274.4 C271.2,274.87 270.03,275.63 268.2,276 C266.37,276.37 264.2,276.6 262.2,276.6 C260.2,276.6 257.48,276.2 256.2,276 C254.92,275.8 254.83,275.97 254.5,275.4 C254.17,274.83 254.25,273.07 254.2,272.6 Z" fill="#981a22" stroke="#141010" stroke-width="0.85" stroke-linejoin="round"/>
<line x1="259.2" y1="272.4" x2="272.2" y2="272.4" stroke="#fff" stroke-width="1.1" stroke-dasharray="1.8 0.8"/>
<path d="M254.2,281.5 C254.27,281.12 254.18,279.5 254.6,279.2 C255.02,278.9 255.6,280.05 256.7,279.7 C257.8,279.35 259.62,277.2 261.2,277.1 C262.78,277 264.37,278.67 266.2,279.1 C268.03,279.53 269.87,279.4 272.2,279.7 C274.53,280 277.22,280.57 280.2,280.9 C283.18,281.23 288.45,281.57 290.1,281.7 L290.1,281.7 C288.45,281.83 283.18,282.17 280.2,282.5 C277.22,282.83 274.53,283.4 272.2,283.7 C269.87,284 268.03,283.87 266.2,284.3 C264.37,284.73 262.78,286.4 261.2,286.3 C259.62,286.2 257.8,284.05 256.7,283.7 C255.6,283.35 255.02,284.5 254.6,284.2 C254.18,283.9 254.27,282.28 254.2,281.9 Z" fill="#c07030" stroke="#141010" stroke-width="0.85" stroke-linejoin="round"/>
<line x1="257.2" y1="281.7" x2="267.2" y2="281.7" stroke="#fff" stroke-width="1.1" stroke-dasharray="1.8 0.8"/>
<path d="M254.2,291.5 C254.25,291.03 254.2,288.87 254.5,288.7 C254.8,288.53 255.25,290.23 256,290.5 C256.75,290.77 258.08,290.77 259,290.3 C259.92,289.83 260.67,287.7 261.5,287.7 C262.33,287.7 263,289.78 264,290.3 C265,290.82 265.75,290.57 267.5,290.8 C269.25,291.03 273.33,291.55 274.5,291.7 L274.5,291.7 C273.33,291.85 269.25,292.37 267.5,292.6 C265.75,292.83 265,292.58 264,293.1 C263,293.62 262.33,295.7 261.5,295.7 C260.67,295.7 259.92,293.57 259,293.1 C258.08,292.63 256.75,292.63 256,292.9 C255.25,293.17 254.8,294.87 254.5,294.7 C254.2,294.53 254.25,292.37 254.2,291.9 Z" fill="#a01c26" stroke="#141010" stroke-width="0.85" stroke-linejoin="round"/>
<line x1="255.8" y1="291.7" x2="264" y2="291.7" stroke="#fff" stroke-width="1.1" stroke-dasharray="1.8 0.8"/>
<path d="M254.2,300.9 C254.25,300.43 254.2,298.27 254.5,298.1 C254.8,297.93 255.17,299.63 256,299.9 C256.83,300.17 258.5,300.27 259.5,299.7 C260.5,299.13 261.17,296.5 262,296.5 C262.83,296.5 263.5,299.08 264.5,299.7 C265.5,300.32 266.8,299.97 268,300.2 C269.2,300.43 271.08,300.95 271.7,301.1 L271.7,301.1 C271.08,301.25 269.2,301.77 268,302 C266.8,302.23 265.5,301.88 264.5,302.5 C263.5,303.12 262.83,305.7 262,305.7 C261.17,305.7 260.5,303.07 259.5,302.5 C258.5,301.93 256.83,302.03 256,302.3 C255.17,302.57 254.8,304.27 254.5,304.1 C254.2,303.93 254.25,301.77 254.2,301.3 Z" fill="#c87a30" stroke="#141010" stroke-width="0.85" stroke-linejoin="round"/>
<line x1="255.8" y1="301.1" x2="264.5" y2="301.1" stroke="#fff" stroke-width="1.1" stroke-dasharray="1.8 0.8"/>
<path d="M254.2,310.1 C254.25,309.55 254,307.32 254.5,306.8 C255,306.28 256.08,307 257.2,307 C258.32,307 260.03,306.55 261.2,306.8 C262.37,307.05 262.7,308.12 264.2,308.5 C265.7,308.88 266.07,308.8 270.2,309.1 C274.33,309.4 285.87,310.1 289,310.3 L289,310.3 C285.87,310.5 274.33,311.2 270.2,311.5 C266.07,311.8 265.7,311.72 264.2,312.1 C262.7,312.48 262.37,313.55 261.2,313.8 C260.03,314.05 258.32,313.6 257.2,313.6 C256.08,313.6 255,314.32 254.5,313.8 C254,313.28 254.25,311.05 254.2,310.5 Z" fill="#981a22" stroke="#141010" stroke-width="0.85" stroke-linejoin="round"/>
<line x1="255.8" y1="310.3" x2="264.2" y2="310.3" stroke="#fff" stroke-width="1.1" stroke-dasharray="1.8 0.8"/>
<path d="M254.2,319.3 C254.25,318.83 254.2,316.67 254.5,316.5 C254.8,316.33 255.33,318.03 256,318.3 C256.67,318.57 257.67,318.67 258.5,318.1 C259.33,317.53 260.17,314.9 261,314.9 C261.83,314.9 262.5,317.48 263.5,318.1 C264.5,318.72 263.43,318.37 267,318.6 C270.57,318.83 281.92,319.35 284.9,319.5 L284.9,319.5 C281.92,319.65 270.57,320.17 267,320.4 C263.43,320.63 264.5,320.28 263.5,320.9 C262.5,321.52 261.83,324.1 261,324.1 C260.17,324.1 259.33,321.47 258.5,320.9 C257.67,320.33 256.67,320.43 256,320.7 C255.33,320.97 254.8,322.67 254.5,322.5 C254.2,322.33 254.25,320.17 254.2,319.7 Z" fill="#c07030" stroke="#141010" stroke-width="0.85" stroke-linejoin="round"/>
<line x1="255.8" y1="319.5" x2="263.5" y2="319.5" stroke="#fff" stroke-width="1.1" stroke-dasharray="1.8 0.8"/>
<line x1="252.4" y1="390" x2="252.4" y2="395" stroke="#999" stroke-width="0.6" />
<path d="M252.4,394.3 C252.47,393.83 252.47,391.7 252.8,391.5 C253.13,391.3 252.83,392.82 254.4,393.1 C255.97,393.38 260.4,393.33 262.2,393.2 C264,393.07 264.2,392.28 265.2,392.3 C266.2,392.32 266.87,393.07 268.2,393.3 C269.53,393.53 271.1,393.5 273.2,393.7 C275.3,393.9 279.53,394.37 280.8,394.5 L280.8,394.5 C279.53,394.63 275.3,395.1 273.2,395.3 C271.1,395.5 269.53,395.47 268.2,395.7 C266.87,395.93 266.2,396.68 265.2,396.7 C264.2,396.72 264,395.93 262.2,395.8 C260.4,395.67 255.97,395.62 254.4,395.9 C252.83,396.18 253.13,397.7 252.8,397.5 C252.47,397.3 252.47,395.17 252.4,394.7 Z" fill="#4a3a3a" stroke="#141010" stroke-width="0.85" stroke-linejoin="round"/>
<line x1="254" y1="394.5" x2="264.2" y2="394.5" stroke="#fff" stroke-width="1.1" stroke-dasharray="1.8 0.8"/>
<path d="M252.4,403.4 C252.47,402.93 252.47,400.8 252.8,400.6 C253.13,400.4 253.53,401.92 254.4,402.2 C255.27,402.48 256.9,402.5 258,402.3 C259.1,402.1 260,400.98 261,401 C262,401.02 262.67,402.1 264,402.4 C265.33,402.7 265.78,402.6 269,402.8 C272.22,403 280.92,403.47 283.3,403.6 L283.3,403.6 C280.92,403.73 272.22,404.2 269,404.4 C265.78,404.6 265.33,404.5 264,404.8 C262.67,405.1 262,406.18 261,406.2 C260,406.22 259.1,405.1 258,404.9 C256.9,404.7 255.27,404.72 254.4,405 C253.53,405.28 253.13,406.8 252.8,406.6 C252.47,406.4 252.47,404.27 252.4,403.8 Z" fill="#5a2a2a" stroke="#141010" stroke-width="0.85" stroke-linejoin="round"/>
<line x1="254" y1="403.6" x2="260" y2="403.6" stroke="#fff" stroke-width="1.1" stroke-dasharray="1.8 0.8"/>
<path d="M252.4,412.4 C252.47,411.93 252.47,409.8 252.8,409.6 C253.13,409.4 253.53,410.92 254.4,411.2 C255.27,411.48 256.9,411.63 258,411.3 C259.1,410.97 260,409.18 261,409.2 C262,409.22 262.67,410.97 264,411.4 C265.33,411.83 264.92,411.6 269,411.8 C273.08,412 285.25,412.47 288.5,412.6 L288.5,412.6 C285.25,412.73 273.08,413.2 269,413.4 C264.92,413.6 265.33,413.37 264,413.8 C262.67,414.23 262,415.98 261,416 C260,416.02 259.1,414.23 258,413.9 C256.9,413.57 255.27,413.72 254.4,414 C253.53,414.28 253.13,415.8 252.8,415.6 C252.47,415.4 252.47,413.27 252.4,412.8 Z" fill="#8a1a22" stroke="#141010" stroke-width="0.85" stroke-linejoin="round"/>
<line x1="254" y1="412.6" x2="260" y2="412.6" stroke="#fff" stroke-width="1.1" stroke-dasharray="1.8 0.8"/>
<path d="M252.4,421.8 C252.47,421.25 252.3,418.72 252.8,418.5 C253.3,418.28 254.3,420.58 255.4,420.5 C256.5,420.42 257.73,418.53 259.4,418 C261.07,417.47 263.23,417.27 265.4,417.3 C267.57,417.33 270.07,417.72 272.4,418.2 C274.73,418.68 277.07,419.7 279.4,420.2 C281.73,420.7 284.02,420.9 286.4,421.2 C288.78,421.5 292.48,421.87 293.7,422 L293.7,422 C292.48,422.13 288.78,422.5 286.4,422.8 C284.02,423.1 281.73,423.3 279.4,423.8 C277.07,424.3 274.73,425.32 272.4,425.8 C270.07,426.28 267.57,426.67 265.4,426.7 C263.23,426.73 261.07,426.53 259.4,426 C257.73,425.47 256.5,423.58 255.4,423.5 C254.3,423.42 253.3,425.72 252.8,425.5 C252.3,425.28 252.47,422.75 252.4,422.2 Z" fill="#c8702a" stroke="#141010" stroke-width="0.85" stroke-linejoin="round"/>
<line x1="260.4" y1="422" x2="272.4" y2="422" stroke="#fff" stroke-width="1.1" stroke-dasharray="1.8 0.8"/>
<line x1="252.4" y1="431.9" x2="277.7" y2="431.9" stroke="#1a1a1a" stroke-width="1.0" />
<line x1="252.4" y1="441.6" x2="276.4" y2="441.6" stroke="#1a1a1a" stroke-width="1.0" />
<line x1="253.4" y1="431.9" x2="277" y2="431.9" stroke="#bbb" stroke-width="0.5" stroke-dasharray="0.8 2.2"/>
<line x1="253.4" y1="441.6" x2="276" y2="441.6" stroke="#bbb" stroke-width="0.5" stroke-dasharray="0.8 2.2"/>
<path d="M252.4,450.3 C252.47,449.83 252.47,447.7 252.8,447.5 C253.13,447.3 253.53,448.82 254.4,449.1 C255.27,449.38 256.9,449.47 258,449.2 C259.1,448.93 260,447.48 261,447.5 C262,447.52 262.67,448.93 264,449.3 C265.33,449.67 265.5,449.5 269,449.7 C272.5,449.9 282.33,450.37 285,450.5 L285,450.5 C282.33,450.63 272.5,451.1 269,451.3 C265.5,451.5 265.33,451.33 264,451.7 C262.67,452.07 262,453.48 261,453.5 C260,453.52 259.1,452.07 258,451.8 C256.9,451.53 255.27,451.62 254.4,451.9 C253.53,452.18 253.13,453.7 252.8,453.5 C252.47,453.3 252.47,451.17 252.4,450.7 Z" fill="#8a1a22" stroke="#141010" stroke-width="0.85" stroke-linejoin="round"/>
<line x1="254" y1="450.5" x2="260" y2="450.5" stroke="#fff" stroke-width="1.1" stroke-dasharray="1.8 0.8"/>
<path d="M252.4,459.8 C252.47,459.33 252.47,457.2 252.8,457 C253.13,456.8 253.53,458.32 254.4,458.6 C255.27,458.88 256.9,459.05 258,458.7 C259.1,458.35 260,456.48 261,456.5 C262,456.52 262.67,458.35 264,458.8 C265.33,459.25 265.92,459 269,459.2 C272.08,459.4 280.25,459.87 282.5,460 L282.5,460 C280.25,460.13 272.08,460.6 269,460.8 C265.92,461 265.33,460.75 264,461.2 C262.67,461.65 262,463.48 261,463.5 C260,463.52 259.1,461.65 258,461.3 C256.9,460.95 255.27,461.12 254.4,461.4 C253.53,461.68 253.13,463.2 252.8,463 C252.47,462.8 252.47,460.67 252.4,460.2 Z" fill="#c07030" stroke="#141010" stroke-width="0.85" stroke-linejoin="round"/>
<line x1="254" y1="460" x2="260" y2="460" stroke="#fff" stroke-width="1.1" stroke-dasharray="1.8 0.8"/>
<path d="M252.4,469.6 C252.47,469.13 252.38,466.97 252.8,466.8 C253.22,466.63 254.13,468.68 254.9,468.6 C255.67,468.52 256.57,466.3 257.4,466.3 C258.23,466.3 259.07,468.6 259.9,468.6 C260.73,468.6 261.48,466.37 262.4,466.3 C263.32,466.23 264.07,467.78 265.4,468.2 C266.73,468.62 266.68,468.53 270.4,468.8 C274.12,469.07 284.82,469.63 287.7,469.8 L287.7,469.8 C284.82,469.97 274.12,470.53 270.4,470.8 C266.68,471.07 266.73,470.98 265.4,471.4 C264.07,471.82 263.32,473.37 262.4,473.3 C261.48,473.23 260.73,471 259.9,471 C259.07,471 258.23,473.3 257.4,473.3 C256.57,473.3 255.67,471.08 254.9,471 C254.13,470.92 253.22,472.97 252.8,472.8 C252.38,472.63 252.47,470.47 252.4,470 Z" fill="#9a1c24" stroke="#141010" stroke-width="0.85" stroke-linejoin="round"/>
<line x1="254" y1="469.8" x2="264.4" y2="469.8" stroke="#fff" stroke-width="1.1" stroke-dasharray="1.8 0.8"/>
<path d="M252.4,478.8 C252.47,478.33 252.38,476.17 252.8,476 C253.22,475.83 254.13,477.88 254.9,477.8 C255.67,477.72 256.57,475.5 257.4,475.5 C258.23,475.5 259.07,477.8 259.9,477.8 C260.73,477.8 261.48,475.57 262.4,475.5 C263.32,475.43 264.07,476.98 265.4,477.4 C266.73,477.82 266.4,477.73 270.4,478 C274.4,478.27 286.23,478.83 289.4,479 L289.4,479 C286.23,479.17 274.4,479.73 270.4,480 C266.4,480.27 266.73,480.18 265.4,480.6 C264.07,481.02 263.32,482.57 262.4,482.5 C261.48,482.43 260.73,480.2 259.9,480.2 C259.07,480.2 258.23,482.5 257.4,482.5 C256.57,482.5 255.67,480.28 254.9,480.2 C254.13,480.12 253.22,482.17 252.8,482 C252.38,481.83 252.47,479.67 252.4,479.2 Z" fill="#c07030" stroke="#141010" stroke-width="0.85" stroke-linejoin="round"/>
<line x1="254" y1="479" x2="264.4" y2="479" stroke="#fff" stroke-width="1.1" stroke-dasharray="1.8 0.8"/>
<path d="M252.4,488.2 C252.57,488.07 252.4,487.95 253.4,487.4 C254.4,486.85 256.23,485.5 258.4,484.9 C260.57,484.3 263.4,483.98 266.4,483.8 C269.4,483.62 273.4,483.53 276.4,483.8 C279.4,484.07 281.73,484.83 284.4,485.4 C287.07,485.97 289.7,486.7 292.4,487.2 C295.1,487.7 299.23,488.2 300.6,488.4 L300.6,488.4 C299.23,488.6 295.1,489.1 292.4,489.6 C289.7,490.1 287.07,490.83 284.4,491.4 C281.73,491.97 279.4,492.73 276.4,493 C273.4,493.27 269.4,493.18 266.4,493 C263.4,492.82 260.57,492.5 258.4,491.9 C256.23,491.3 254.4,489.95 253.4,489.4 C252.4,488.85 252.57,488.73 252.4,488.6 Z" fill="#8a1a1e" stroke="#141010" stroke-width="0.85" stroke-linejoin="round"/>
<line x1="268.4" y1="488.4" x2="281.4" y2="488.4" stroke="#fff" stroke-width="1.1" stroke-dasharray="1.8 0.8"/>
<path d="M252.4,497.7 C252.57,497.57 252.4,497.45 253.4,496.9 C254.4,496.35 256.23,495 258.4,494.4 C260.57,493.8 263.4,493.48 266.4,493.3 C269.4,493.12 273.4,493.03 276.4,493.3 C279.4,493.57 281.73,494.33 284.4,494.9 C287.07,495.47 289.27,496.2 292.4,496.7 C295.53,497.2 301.4,497.7 303.2,497.9 L303.2,497.9 C301.4,498.1 295.53,498.6 292.4,499.1 C289.27,499.6 287.07,500.33 284.4,500.9 C281.73,501.47 279.4,502.23 276.4,502.5 C273.4,502.77 269.4,502.68 266.4,502.5 C263.4,502.32 260.57,502 258.4,501.4 C256.23,500.8 254.4,499.45 253.4,498.9 C252.4,498.35 252.57,498.23 252.4,498.1 Z" fill="#c06a2a" stroke="#141010" stroke-width="0.85" stroke-linejoin="round"/>
<line x1="268.4" y1="497.9" x2="281.4" y2="497.9" stroke="#fff" stroke-width="1.1" stroke-dasharray="1.8 0.8"/>
<path d="M253.6,571.4 C253.65,570.9 253.57,568.63 253.9,568.4 C254.23,568.17 254.82,569.97 255.6,570 C256.38,570.03 257.43,568.93 258.6,568.6 C259.77,568.27 261.1,567.87 262.6,568 C264.1,568.13 266.07,568.92 267.6,569.4 C269.13,569.88 270.31,570.53 271.76,570.9 C273.21,571.27 275.54,571.48 276.3,571.6 L276.3,571.6 C275.54,571.72 273.21,571.93 271.76,572.3 C270.31,572.67 269.13,573.32 267.6,573.8 C266.07,574.28 264.1,575.07 262.6,575.2 C261.1,575.33 259.77,574.93 258.6,574.6 C257.43,574.27 256.38,573.17 255.6,573.2 C254.82,573.23 254.23,575.03 253.9,574.8 C253.57,574.57 253.65,572.3 253.6,571.8 Z" fill="#a01c2a" stroke="#141020" stroke-width="0.85" stroke-linejoin="round"/>
<line x1="255.2" y1="571.6" x2="264.6" y2="571.6" stroke="#fff" stroke-width="1.1" stroke-dasharray="1.8 0.8"/>
<path d="M253.6,580 C253.65,579.5 253.57,577.23 253.9,577 C254.23,576.77 254.82,578.57 255.6,578.6 C256.38,578.63 257.43,577.53 258.6,577.2 C259.77,576.87 261.1,576.47 262.6,576.6 C264.1,576.73 265.65,577.52 267.6,578 C269.55,578.48 272.34,579.13 274.32,579.5 C276.3,579.87 278.64,580.08 279.5,580.2 L279.5,580.2 C278.64,580.32 276.3,580.53 274.32,580.9 C272.34,581.27 269.55,581.92 267.6,582.4 C265.65,582.88 264.1,583.67 262.6,583.8 C261.1,583.93 259.77,583.53 258.6,583.2 C257.43,582.87 256.38,581.77 255.6,581.8 C254.82,581.83 254.23,583.63 253.9,583.4 C253.57,583.17 253.65,580.9 253.6,580.4 Z" fill="#dc782b" stroke="#141020" stroke-width="0.85" stroke-linejoin="round"/>
<line x1="255.2" y1="580.2" x2="264.6" y2="580.2" stroke="#fff" stroke-width="1.1" stroke-dasharray="1.8 0.8"/>
<path d="M253.6,589.1 C253.65,588.6 253.57,586.33 253.9,586.1 C254.23,585.87 254.82,587.67 255.6,587.7 C256.38,587.73 257.43,586.63 258.6,586.3 C259.77,585.97 261.1,585.57 262.6,585.7 C264.1,585.83 265.82,586.62 267.6,587.1 C269.38,587.58 271.51,588.23 273.28,588.6 C275.05,588.97 277.38,589.18 278.2,589.3 L278.2,589.3 C277.38,589.42 275.05,589.63 273.28,590 C271.51,590.37 269.38,591.02 267.6,591.5 C265.82,591.98 264.1,592.77 262.6,592.9 C261.1,593.03 259.77,592.63 258.6,592.3 C257.43,591.97 256.38,590.87 255.6,590.9 C254.82,590.93 254.23,592.73 253.9,592.5 C253.57,592.27 253.65,590 253.6,589.5 Z" fill="#2a286c" stroke="#141020" stroke-width="0.85" stroke-linejoin="round"/>
<line x1="255.2" y1="589.3" x2="264.6" y2="589.3" stroke="#fff" stroke-width="1.1" stroke-dasharray="1.8 0.8"/>
<path d="M253.6,598.1 C253.65,597.6 253.57,595.33 253.9,595.1 C254.23,594.87 254.82,596.67 255.6,596.7 C256.38,596.73 257.43,595.63 258.6,595.3 C259.77,594.97 261.1,594.57 262.6,594.7 C264.1,594.83 266.07,595.62 267.6,596.1 C269.13,596.58 270.31,597.23 271.76,597.6 C273.21,597.97 275.54,598.18 276.3,598.3 L276.3,598.3 C275.54,598.42 273.21,598.63 271.76,599 C270.31,599.37 269.13,600.02 267.6,600.5 C266.07,600.98 264.1,601.77 262.6,601.9 C261.1,602.03 259.77,601.63 258.6,601.3 C257.43,600.97 256.38,599.87 255.6,599.9 C254.82,599.93 254.23,601.73 253.9,601.5 C253.57,601.27 253.65,599 253.6,598.5 Z" fill="#641b86" stroke="#141020" stroke-width="0.85" stroke-linejoin="round"/>
<line x1="255.2" y1="598.3" x2="264.6" y2="598.3" stroke="#fff" stroke-width="1.1" stroke-dasharray="1.8 0.8"/>
<path d="M253.6,607.8 C253.65,607.3 253.57,605.03 253.9,604.8 C254.23,604.57 254.82,606.37 255.6,606.4 C256.38,606.43 257.43,605.43 258.6,605 C259.77,604.57 261.1,603.67 262.6,603.8 C264.1,603.93 265.22,605.22 267.6,605.8 C269.98,606.38 274.36,606.93 276.88,607.3 C279.4,607.67 281.73,607.88 282.7,608 L282.7,608 C281.73,608.12 279.4,608.33 276.88,608.7 C274.36,609.07 269.98,609.62 267.6,610.2 C265.22,610.78 264.1,612.07 262.6,612.2 C261.1,612.33 259.77,611.43 258.6,611 C257.43,610.57 256.38,609.57 255.6,609.6 C254.82,609.63 254.23,611.43 253.9,611.2 C253.57,610.97 253.65,608.7 253.6,608.2 Z" fill="#641b86" stroke="#141020" stroke-width="0.85" stroke-linejoin="round"/>
<line x1="255.2" y1="608" x2="264.6" y2="608" stroke="#fff" stroke-width="1.1" stroke-dasharray="1.8 0.8"/>
<path d="M253.6,616.7 C253.65,616.2 253.57,613.93 253.9,613.7 C254.23,613.47 254.82,615.27 255.6,615.3 C256.38,615.33 257.43,614.33 258.6,613.9 C259.77,613.47 261.1,612.57 262.6,612.7 C264.1,612.83 265.18,614.12 267.6,614.7 C270.02,615.28 274.55,615.83 277.12,616.2 C279.69,616.57 282.02,616.78 283,616.9 L283,616.9 C282.02,617.02 279.69,617.23 277.12,617.6 C274.55,617.97 270.02,618.52 267.6,619.1 C265.18,619.68 264.1,620.97 262.6,621.1 C261.1,621.23 259.77,620.33 258.6,619.9 C257.43,619.47 256.38,618.47 255.6,618.5 C254.82,618.53 254.23,620.33 253.9,620.1 C253.57,619.87 253.65,617.6 253.6,617.1 Z" fill="#8790d0" stroke="#141020" stroke-width="0.85" stroke-linejoin="round"/>
<line x1="255.2" y1="616.9" x2="264.6" y2="616.9" stroke="#fff" stroke-width="1.1" stroke-dasharray="1.8 0.8"/>
<path d="M253.6,627.5 C253.65,627.03 253.65,624.87 253.9,624.7 C254.15,624.53 254.57,626.47 255.1,626.5 C255.63,626.53 256.43,624.87 257.1,624.9 C257.77,624.93 258.32,626.35 259.1,626.7 C259.88,627.05 259.98,626.83 261.8,627 C263.62,627.17 268.63,627.58 270,627.7 L270,627.7 C268.63,627.82 263.62,628.23 261.8,628.4 C259.98,628.57 259.88,628.35 259.1,628.7 C258.32,629.05 257.77,630.47 257.1,630.5 C256.43,630.53 255.63,628.87 255.1,628.9 C254.57,628.93 254.15,630.87 253.9,630.7 C253.65,630.53 253.65,628.37 253.6,627.9 Z" fill="#a01c2a" stroke="#141020" stroke-width="0.85" stroke-linejoin="round"/>
<line x1="255.1" y1="627.7" x2="261.6" y2="627.7" stroke="#fff" stroke-width="1.1" stroke-dasharray="1.8 0.8"/>
<path d="M253.6,636.2 C253.65,635.73 253.65,633.57 253.9,633.4 C254.15,633.23 254.57,635.17 255.1,635.2 C255.63,635.23 256.43,633.57 257.1,633.6 C257.77,633.63 258.23,635.05 259.1,635.4 C259.97,635.75 260.32,635.53 262.3,635.7 C264.28,635.87 269.55,636.28 271,636.4 L271,636.4 C269.55,636.52 264.28,636.93 262.3,637.1 C260.32,637.27 259.97,637.05 259.1,637.4 C258.23,637.75 257.77,639.17 257.1,639.2 C256.43,639.23 255.63,637.57 255.1,637.6 C254.57,637.63 254.15,639.57 253.9,639.4 C253.65,639.23 253.65,637.07 253.6,636.6 Z" fill="#dc782b" stroke="#141020" stroke-width="0.85" stroke-linejoin="round"/>
<line x1="255.1" y1="636.4" x2="261.6" y2="636.4" stroke="#fff" stroke-width="1.1" stroke-dasharray="1.8 0.8"/>
<path d="M253.6,645 C253.65,644.53 253.65,642.37 253.9,642.2 C254.15,642.03 254.57,643.97 255.1,644 C255.63,644.03 256.43,642.37 257.1,642.4 C257.77,642.43 256.9,643.85 259.1,644.2 C261.3,644.55 265.65,644.33 270.3,644.5 C274.95,644.67 284.22,645.08 287,645.2 L287,645.2 C284.22,645.32 274.95,645.73 270.3,645.9 C265.65,646.07 261.3,645.85 259.1,646.2 C256.9,646.55 257.77,647.97 257.1,648 C256.43,648.03 255.63,646.37 255.1,646.4 C254.57,646.43 254.15,648.37 253.9,648.2 C253.65,648.03 253.65,645.87 253.6,645.4 Z" fill="#2a286c" stroke="#141020" stroke-width="0.85" stroke-linejoin="round"/>
<line x1="255.1" y1="645.2" x2="261.6" y2="645.2" stroke="#fff" stroke-width="1.1" stroke-dasharray="1.8 0.8"/>
<path d="M253.6,653.9 C253.65,653.43 253.65,651.27 253.9,651.1 C254.15,650.93 254.57,652.87 255.1,652.9 C255.63,652.93 256.43,651.27 257.1,651.3 C257.77,651.33 257.73,652.75 259.1,653.1 C260.47,653.45 262.32,653.23 265.3,653.4 C268.28,653.57 275.05,653.98 277,654.1 L277,654.1 C275.05,654.22 268.28,654.63 265.3,654.8 C262.32,654.97 260.47,654.75 259.1,655.1 C257.73,655.45 257.77,656.87 257.1,656.9 C256.43,656.93 255.63,655.27 255.1,655.3 C254.57,655.33 254.15,657.27 253.9,657.1 C253.65,656.93 253.65,654.77 253.6,654.3 Z" fill="#641b86" stroke="#141020" stroke-width="0.85" stroke-linejoin="round"/>
<line x1="255.1" y1="654.1" x2="261.6" y2="654.1" stroke="#fff" stroke-width="1.1" stroke-dasharray="1.8 0.8"/>
<path d="M253.6,662.7 C253.65,662.23 253.65,660.08 253.9,659.9 C254.15,659.72 254.32,661.63 255.1,661.6 C255.88,661.57 257.18,659.85 258.6,659.7 C260.02,659.55 261.43,660.37 263.6,660.7 C265.77,661.03 267.03,661.33 271.6,661.7 C276.17,662.07 287.77,662.7 291,662.9 L291,662.9 C287.77,663.1 276.17,663.73 271.6,664.1 C267.03,664.47 265.77,664.77 263.6,665.1 C261.43,665.43 260.02,666.25 258.6,666.1 C257.18,665.95 255.88,664.23 255.1,664.2 C254.32,664.17 254.15,666.08 253.9,665.9 C253.65,665.72 253.65,663.57 253.6,663.1 Z" fill="#641b86" stroke="#141020" stroke-width="0.85" stroke-linejoin="round"/>
<line x1="255.1" y1="662.9" x2="265.6" y2="662.9" stroke="#fff" stroke-width="1.1" stroke-dasharray="1.8 0.8"/>
<path d="M253.6,672.1 C253.65,671.63 253.57,669.67 253.9,669.3 C254.23,668.93 254.32,670.03 255.6,669.9 C256.88,669.77 259.43,668.6 261.6,668.5 C263.77,668.4 266.27,668.87 268.6,669.3 C270.93,669.73 272.37,670.6 275.6,671.1 C278.83,671.6 285.93,672.1 288,672.3 L288,672.3 C285.93,672.5 278.83,673 275.6,673.5 C272.37,674 270.93,674.87 268.6,675.3 C266.27,675.73 263.77,676.2 261.6,676.1 C259.43,676 256.88,674.83 255.6,674.7 C254.32,674.57 254.23,675.67 253.9,675.3 C253.57,674.93 253.65,672.97 253.6,672.5 Z" fill="#8790d0" stroke="#141020" stroke-width="0.85" stroke-linejoin="round"/>
<line x1="255.6" y1="672.3" x2="269.6" y2="672.3" stroke="#fff" stroke-width="1.1" stroke-dasharray="1.8 0.8"/>
<path d="M448.8,219.25 C448.8,219.21 448.8,219.23 448.8,219 C448.8,218.77 448.43,218.24 448.8,217.85 C449.17,217.46 450.4,216.88 451.02,216.65 C451.64,216.43 452.01,216.5 452.5,216.5 C452.99,216.5 453.36,216.43 453.98,216.65 C454.6,216.88 455.42,217.46 456.2,217.85 C456.98,218.24 457.02,218.77 458.68,219 C460.33,219.23 464.86,219.21 466.1,219.25 L466.1,219.75 C464.86,219.79 460.33,219.77 458.68,220 C457.02,220.23 456.98,220.76 456.2,221.15 C455.42,221.54 454.6,222.12 453.98,222.35 C453.36,222.57 452.99,222.5 452.5,222.5 C452.01,222.5 451.64,222.57 451.02,222.35 C450.4,222.12 449.17,221.54 448.8,221.15 C448.43,220.76 448.8,220.23 448.8,220 C448.8,219.77 448.8,219.79 448.8,219.75 Z" fill="#a8303e" stroke="#6d1f28" stroke-width="0.55" stroke-linejoin="round"/>
<line x1="451.2" y1="217.85" x2="451.2" y2="221.15" stroke="#fff" stroke-width="0.35" />
<line x1="453.8" y1="217.85" x2="453.8" y2="221.15" stroke="#fff" stroke-width="0.35" />
<path d="M448.3,227.45 C448.37,227.41 448.62,227.46 448.7,227.2 C448.78,226.94 448.45,226.32 448.8,225.88 C449.15,225.45 450.23,224.81 450.78,224.56 C451.33,224.32 451.66,224.4 452.1,224.4 C452.54,224.4 452.87,224.32 453.42,224.56 C453.97,224.81 455.05,225.45 455.4,225.88 C455.75,226.32 455.44,226.94 455.52,227.2 C455.61,227.46 455.84,227.41 455.9,227.45 L455.9,227.95 C455.84,227.99 455.61,227.94 455.52,228.2 C455.44,228.46 455.75,229.08 455.4,229.51 C455.05,229.95 453.97,230.59 453.42,230.83 C452.87,231.08 452.54,231 452.1,231 C451.66,231 451.33,231.08 450.78,230.83 C450.23,230.59 449.15,229.95 448.8,229.51 C448.45,229.08 448.78,228.46 448.7,228.2 C448.62,227.94 448.37,227.99 448.3,227.95 Z" fill="#de8a3c" stroke="#905927" stroke-width="0.55" stroke-linejoin="round"/>
<line x1="450.95" y1="225.88" x2="450.95" y2="229.51" stroke="#fff" stroke-width="0.35" />
<line x1="453.25" y1="225.88" x2="453.25" y2="229.51" stroke="#fff" stroke-width="0.35" />
<path d="M452,236.55 C453.93,236.51 461.18,236.58 463.6,236.3 C466.02,236.02 465.72,235.35 466.5,234.88 C467.28,234.4 467.8,233.74 468.3,233.48 C468.8,233.21 469.1,233.3 469.5,233.3 C469.9,233.3 470.2,233.21 470.7,233.48 C471.2,233.74 472.35,234.4 472.5,234.88 C472.65,235.35 472.21,236.02 471.62,236.3 C471.04,236.58 469.44,236.51 469,236.55 L469,237.05 C469.44,237.09 471.04,237.02 471.62,237.3 C472.21,237.58 472.65,238.25 472.5,238.73 C472.35,239.2 471.2,239.86 470.7,240.12 C470.2,240.39 469.9,240.3 469.5,240.3 C469.1,240.3 468.8,240.39 468.3,240.12 C467.8,239.86 467.28,239.2 466.5,238.73 C465.72,238.25 466.02,237.58 463.6,237.3 C461.18,237.02 453.93,237.09 452,237.05 Z" fill="#a8303e" stroke="#6d1f28" stroke-width="0.55" stroke-linejoin="round"/>
<line x1="468.45" y1="234.88" x2="468.45" y2="238.73" stroke="#fff" stroke-width="0.35" />
<line x1="470.55" y1="234.88" x2="470.55" y2="238.73" stroke="#fff" stroke-width="0.35" />
<line x1="453.7" y1="246" x2="470.3" y2="246" stroke="#e8a066" stroke-width="1.0" />
<rect x="456.2" y="242.7" width="12.4" height="6.6" fill="#fff" stroke="#e8a066" stroke-width="0.7"/>
<line x1="462.4" y1="242.7" x2="462.4" y2="249.3" stroke="#e8a066" stroke-width="0.6" />
<line x1="456.2" y1="244.84" x2="468.6" y2="244.84" stroke="#e8a066" stroke-width="0.4" />
<line x1="456.2" y1="247.16" x2="468.6" y2="247.16" stroke="#e8a066" stroke-width="0.4" />
<path d="M442.1,256.45 C442.87,256.41 445.77,256.43 446.74,256.2 C447.71,255.97 447.37,255.44 447.9,255.05 C448.43,254.66 449.35,254.07 449.91,253.85 C450.47,253.62 450.8,253.7 451.25,253.7 C451.7,253.7 452.03,253.62 452.59,253.85 C453.15,254.07 453.72,254.66 454.6,255.05 C455.49,255.44 455.7,255.97 457.9,256.2 C460.1,256.43 466.15,256.41 467.8,256.45 L467.8,256.95 C466.15,256.99 460.1,256.97 457.9,257.2 C455.7,257.43 455.49,257.96 454.6,258.35 C453.72,258.74 453.15,259.32 452.59,259.55 C452.03,259.78 451.7,259.7 451.25,259.7 C450.8,259.7 450.47,259.78 449.91,259.55 C449.35,259.32 448.43,258.74 447.9,258.35 C447.37,257.96 447.71,257.43 446.74,257.2 C445.77,256.97 442.87,256.99 442.1,256.95 Z" fill="#a8303e" stroke="#6d1f28" stroke-width="0.55" stroke-linejoin="round"/>
<line x1="450.08" y1="255.05" x2="450.08" y2="258.35" stroke="#fff" stroke-width="0.35" />
<line x1="452.42" y1="255.05" x2="452.42" y2="258.35" stroke="#fff" stroke-width="0.35" />
<path d="M441.6,265.55 C441.67,265.51 441.92,265.56 442,265.3 C442.08,265.04 441.5,264.42 442.1,263.99 C442.7,263.55 444.61,262.91 445.58,262.67 C446.55,262.42 447.13,262.5 447.9,262.5 C448.67,262.5 449.25,262.42 450.22,262.67 C451.19,262.91 453.1,263.55 453.7,263.99 C454.3,264.42 453.74,265.04 453.82,265.3 C453.91,265.56 454.14,265.51 454.2,265.55 L454.2,266.05 C454.14,266.09 453.91,266.04 453.82,266.3 C453.74,266.56 454.3,267.18 453.7,267.62 C453.1,268.05 451.19,268.69 450.22,268.94 C449.25,269.18 448.67,269.1 447.9,269.1 C447.13,269.1 446.55,269.18 445.58,268.94 C444.61,268.69 442.7,268.05 442.1,267.62 C441.5,267.18 442.08,266.56 442,266.3 C441.92,266.04 441.67,266.09 441.6,266.05 Z" fill="#de8a3c" stroke="#905927" stroke-width="0.55" stroke-linejoin="round"/>
<line x1="445.87" y1="263.99" x2="445.87" y2="267.62" stroke="#fff" stroke-width="0.35" />
<line x1="449.93" y1="263.99" x2="449.93" y2="267.62" stroke="#fff" stroke-width="0.35" />
<path d="M448.8,273.85 C452,273.81 464,273.88 468,273.6 C472,273.32 471.63,272.65 472.8,272.18 C473.97,271.7 474.4,271.04 475.02,270.78 C475.64,270.51 476.01,270.6 476.5,270.6 C476.99,270.6 477.36,270.51 477.98,270.78 C478.6,271.04 480.05,271.7 480.2,272.18 C480.35,272.65 479.77,273.32 478.9,273.6 C478.03,273.88 475.65,273.81 475,273.85 L475,274.35 C475.65,274.39 478.03,274.32 478.9,274.6 C479.77,274.88 480.35,275.55 480.2,276.03 C480.05,276.5 478.6,277.16 477.98,277.43 C477.36,277.69 476.99,277.6 476.5,277.6 C476.01,277.6 475.64,277.69 475.02,277.43 C474.4,277.16 473.97,276.5 472.8,276.03 C471.63,275.55 472,274.88 468,274.6 C464,274.32 452,274.39 448.8,274.35 Z" fill="#a8303e" stroke="#6d1f28" stroke-width="0.55" stroke-linejoin="round"/>
<line x1="475.2" y1="272.18" x2="475.2" y2="276.03" stroke="#fff" stroke-width="0.35" />
<line x1="477.8" y1="272.18" x2="477.8" y2="276.03" stroke="#fff" stroke-width="0.35" />
<line x1="451.2" y1="283.2" x2="479.4" y2="283.2" stroke="#e8a066" stroke-width="1.0" />
<rect x="454.6" y="279.9" width="23.1" height="6.6" fill="#fff" stroke="#e8a066" stroke-width="0.7"/>
<line x1="466.15" y1="279.9" x2="466.15" y2="286.5" stroke="#e8a066" stroke-width="0.6" />
<line x1="454.6" y1="282.05" x2="477.7" y2="282.05" stroke="#e8a066" stroke-width="0.4" />
<line x1="454.6" y1="284.35" x2="477.7" y2="284.35" stroke="#e8a066" stroke-width="0.4" />
<line x1="440.5" y1="294" x2="471.9" y2="294" stroke="#a8303e" stroke-width="1.0" />
<rect x="445.5" y="290.5" width="4.9" height="7" fill="#fff" stroke="#a8303e" stroke-width="0.7"/>
<line x1="447.95" y1="290.5" x2="447.95" y2="297.5" stroke="#a8303e" stroke-width="0.6" />
<line x1="445.5" y1="292.77" x2="450.4" y2="292.77" stroke="#a8303e" stroke-width="0.4" />
<line x1="445.5" y1="295.23" x2="450.4" y2="295.23" stroke="#a8303e" stroke-width="0.4" />
<line x1="440.5" y1="302.7" x2="455.4" y2="302.7" stroke="#de8a3c" stroke-width="1.0" />
<rect x="445.5" y="299.4" width="4.9" height="6.6" fill="#fff" stroke="#de8a3c" stroke-width="0.7"/>
<line x1="447.95" y1="299.4" x2="447.95" y2="306" stroke="#de8a3c" stroke-width="0.6" />
<line x1="445.5" y1="301.55" x2="450.4" y2="301.55" stroke="#de8a3c" stroke-width="0.4" />
<line x1="445.5" y1="303.85" x2="450.4" y2="303.85" stroke="#de8a3c" stroke-width="0.4" />
<path d="M448.8,311.05 C452.65,311.01 467.1,311.08 471.92,310.8 C476.74,310.52 476.5,309.85 477.7,309.38 C478.9,308.9 478.72,308.24 479.11,307.98 C479.5,307.71 479.74,307.8 480.05,307.8 C480.36,307.8 480.6,307.71 480.99,307.98 C481.38,308.24 482.36,308.9 482.4,309.38 C482.44,309.85 482.02,310.52 481.25,310.8 C480.48,311.08 478.38,311.01 477.8,311.05 L477.8,311.55 C478.38,311.59 480.48,311.52 481.25,311.8 C482.02,312.08 482.44,312.75 482.4,313.23 C482.36,313.7 481.38,314.36 480.99,314.62 C480.6,314.89 480.36,314.8 480.05,314.8 C479.74,314.8 479.5,314.89 479.11,314.62 C478.72,314.36 478.9,313.7 477.7,313.23 C476.5,312.75 476.74,312.08 471.92,311.8 C467.1,311.52 452.65,311.59 448.8,311.55 Z" fill="#a8303e" stroke="#6d1f28" stroke-width="0.55" stroke-linejoin="round"/>
<line x1="479.23" y1="309.38" x2="479.23" y2="313.23" stroke="#fff" stroke-width="0.35" />
<line x1="480.87" y1="309.38" x2="480.87" y2="313.23" stroke="#fff" stroke-width="0.35" />
<line x1="452.9" y1="320.4" x2="483.5" y2="320.4" stroke="#e8a066" stroke-width="1.0" />
<rect x="456.2" y="317.1" width="25.7" height="6.6" fill="#fff" stroke="#e8a066" stroke-width="0.7"/>
<line x1="469.05" y1="317.1" x2="469.05" y2="323.7" stroke="#e8a066" stroke-width="0.6" />
<line x1="456.2" y1="319.25" x2="481.9" y2="319.25" stroke="#e8a066" stroke-width="0.4" />
<line x1="456.2" y1="321.55" x2="481.9" y2="321.55" stroke="#e8a066" stroke-width="0.4" />
<path d="M445.5,397.65 C446.26,397.61 449.11,397.71 450.06,397.4 C451.01,397.09 450.59,396.33 451.2,395.81 C451.81,395.29 453,394.57 453.69,394.29 C454.38,394 454.8,394.1 455.35,394.1 C455.9,394.1 456.32,394 457.01,394.29 C457.7,394.57 458.39,395.29 459.5,395.81 C460.61,396.33 460.88,397.09 463.65,397.4 C466.42,397.71 474.03,397.61 476.1,397.65 L476.1,398.15 C474.03,398.19 466.42,398.09 463.65,398.4 C460.88,398.71 460.61,399.47 459.5,399.99 C458.39,400.51 457.7,401.22 457.01,401.51 C456.32,401.8 455.9,401.7 455.35,401.7 C454.8,401.7 454.38,401.8 453.69,401.51 C453,401.22 451.81,400.51 451.2,399.99 C450.59,399.47 451.01,398.71 450.06,398.4 C449.11,398.09 446.26,398.19 445.5,398.15 Z" fill="#b84450" stroke="#772c34" stroke-width="0.55" stroke-linejoin="round"/>
<line x1="453.9" y1="395.81" x2="453.9" y2="399.99" stroke="#fff" stroke-width="0.35" />
<line x1="456.8" y1="395.81" x2="456.8" y2="399.99" stroke="#fff" stroke-width="0.35" />
<path d="M445.8,406.35 C445.87,406.31 446.12,406.38 446.2,406.1 C446.28,405.82 445.66,405.15 446.3,404.68 C446.94,404.2 448.99,403.54 450.02,403.28 C451.05,403.01 451.67,403.1 452.5,403.1 C453.33,403.1 453.95,403.01 454.98,403.28 C456.01,403.54 458.06,404.2 458.7,404.68 C459.34,405.15 458.74,405.82 458.82,406.1 C458.91,406.38 459.14,406.31 459.2,406.35 L459.2,406.85 C459.14,406.89 458.91,406.82 458.82,407.1 C458.74,407.38 459.34,408.05 458.7,408.53 C458.06,409 456.01,409.66 454.98,409.93 C453.95,410.19 453.33,410.1 452.5,410.1 C451.67,410.1 451.05,410.19 450.02,409.93 C448.99,409.66 446.94,409 446.3,408.53 C445.66,408.05 446.28,407.38 446.2,407.1 C446.12,406.82 445.87,406.89 445.8,406.85 Z" fill="#de8a3c" stroke="#905927" stroke-width="0.55" stroke-linejoin="round"/>
<line x1="450.33" y1="404.68" x2="450.33" y2="408.53" stroke="#fff" stroke-width="0.35" />
<line x1="454.67" y1="404.68" x2="454.67" y2="408.53" stroke="#fff" stroke-width="0.35" />
<line x1="456.2" y1="414.8" x2="476.9" y2="414.8" stroke="#b84450" stroke-width="1.0" />
<rect x="464.2" y="411.3" width="8.6" height="7" fill="#fff" stroke="#b84450" stroke-width="0.7"/>
<line x1="468.5" y1="411.3" x2="468.5" y2="418.3" stroke="#b84450" stroke-width="0.6" />
<line x1="464.2" y1="413.57" x2="472.8" y2="413.57" stroke="#b84450" stroke-width="0.4" />
<line x1="464.2" y1="416.03" x2="472.8" y2="416.03" stroke="#b84450" stroke-width="0.4" />
<path d="M454.9,423.65 C454.97,423.61 455.22,423.68 455.3,423.4 C455.38,423.12 454.68,422.45 455.4,421.97 C456.12,421.5 458.45,420.84 459.63,420.57 C460.81,420.31 461.51,420.4 462.45,420.4 C463.39,420.4 464.09,420.31 465.27,420.57 C466.44,420.84 468.77,421.5 469.5,421.97 C470.23,422.45 469.54,423.12 469.62,423.4 C469.71,423.68 469.94,423.61 470,423.65 L470,424.15 C469.94,424.19 469.71,424.12 469.62,424.4 C469.54,424.68 470.23,425.35 469.5,425.82 C468.77,426.3 466.44,426.96 465.27,427.22 C464.09,427.49 463.39,427.4 462.45,427.4 C461.51,427.4 460.81,427.49 459.63,427.22 C458.45,426.96 456.12,426.3 455.4,425.82 C454.68,425.35 455.38,424.68 455.3,424.4 C455.22,424.12 454.97,424.19 454.9,424.15 Z" fill="#de8a3c" stroke="#905927" stroke-width="0.55" stroke-linejoin="round"/>
<line x1="459.98" y1="421.97" x2="459.98" y2="425.82" stroke="#fff" stroke-width="0.35" />
<line x1="464.92" y1="421.97" x2="464.92" y2="425.82" stroke="#fff" stroke-width="0.35" />
<path d="M447.1,435.25 C447.65,435.21 449.7,435.31 450.38,435 C451.06,434.69 450.69,433.93 451.2,433.41 C451.71,432.89 452.82,432.18 453.45,431.89 C454.07,431.6 454.45,431.7 454.95,431.7 C455.45,431.7 455.82,431.6 456.45,431.89 C457.07,432.18 457.63,432.89 458.7,433.41 C459.77,433.93 460.08,434.69 462.85,435 C465.62,435.31 473.23,435.21 475.3,435.25 L475.3,435.75 C473.23,435.79 465.62,435.69 462.85,436 C460.08,436.31 459.77,437.07 458.7,437.59 C457.63,438.11 457.07,438.82 456.45,439.11 C455.82,439.4 455.45,439.3 454.95,439.3 C454.45,439.3 454.07,439.4 453.45,439.11 C452.82,438.82 451.71,438.11 451.2,437.59 C450.69,437.07 451.06,436.31 450.38,436 C449.7,435.69 447.65,435.79 447.1,435.75 Z" fill="#b84450" stroke="#772c34" stroke-width="0.55" stroke-linejoin="round"/>
<line x1="453.64" y1="433.41" x2="453.64" y2="437.59" stroke="#fff" stroke-width="0.35" />
<line x1="456.26" y1="433.41" x2="456.26" y2="437.59" stroke="#fff" stroke-width="0.35" />
<path d="M446.6,444.05 C446.67,444.01 446.92,444.08 447,443.8 C447.08,443.52 446.46,442.85 447.1,442.38 C447.74,441.9 449.79,441.24 450.82,440.98 C451.85,440.71 452.47,440.8 453.3,440.8 C454.13,440.8 454.75,440.71 455.78,440.98 C456.81,441.24 458.86,441.9 459.5,442.38 C460.14,442.85 459.54,443.52 459.62,443.8 C459.71,444.08 459.94,444.01 460,444.05 L460,444.55 C459.94,444.59 459.71,444.52 459.62,444.8 C459.54,445.08 460.14,445.75 459.5,446.23 C458.86,446.7 456.81,447.36 455.78,447.62 C454.75,447.89 454.13,447.8 453.3,447.8 C452.47,447.8 451.85,447.89 450.82,447.62 C449.79,447.36 447.74,446.7 447.1,446.23 C446.46,445.75 447.08,445.08 447,444.8 C446.92,444.52 446.67,444.59 446.6,444.55 Z" fill="#de8a3c" stroke="#905927" stroke-width="0.55" stroke-linejoin="round"/>
<line x1="451.13" y1="442.38" x2="451.13" y2="446.23" stroke="#fff" stroke-width="0.35" />
<line x1="455.47" y1="442.38" x2="455.47" y2="446.23" stroke="#fff" stroke-width="0.35" />
<line x1="456.2" y1="452.6" x2="476.1" y2="452.6" stroke="#b84450" stroke-width="1.0" />
<rect x="463.7" y="449.1" width="9.1" height="7" fill="#fff" stroke="#b84450" stroke-width="0.7"/>
<line x1="468.25" y1="449.1" x2="468.25" y2="456.1" stroke="#b84450" stroke-width="0.6" />
<line x1="463.7" y1="451.38" x2="472.8" y2="451.38" stroke="#b84450" stroke-width="0.4" />
<line x1="463.7" y1="453.83" x2="472.8" y2="453.83" stroke="#b84450" stroke-width="0.4" />
<path d="M454.9,460.95 C454.97,460.91 455.22,460.98 455.3,460.7 C455.38,460.42 454.68,459.75 455.4,459.27 C456.12,458.8 458.45,458.14 459.63,457.88 C460.81,457.61 461.51,457.7 462.45,457.7 C463.39,457.7 464.09,457.61 465.27,457.88 C466.44,458.14 468.77,458.8 469.5,459.27 C470.23,459.75 469.54,460.42 469.62,460.7 C469.71,460.98 469.94,460.91 470,460.95 L470,461.45 C469.94,461.49 469.71,461.42 469.62,461.7 C469.54,461.98 470.23,462.65 469.5,463.12 C468.77,463.6 466.44,464.26 465.27,464.52 C464.09,464.79 463.39,464.7 462.45,464.7 C461.51,464.7 460.81,464.79 459.63,464.52 C458.45,464.26 456.12,463.6 455.4,463.12 C454.68,462.65 455.38,461.98 455.3,461.7 C455.22,461.42 454.97,461.49 454.9,461.45 Z" fill="#de8a3c" stroke="#905927" stroke-width="0.55" stroke-linejoin="round"/>
<line x1="459.98" y1="459.27" x2="459.98" y2="463.12" stroke="#fff" stroke-width="0.35" />
<line x1="464.92" y1="459.27" x2="464.92" y2="463.12" stroke="#fff" stroke-width="0.35" />
<path d="M453.7,472.05 C454.14,472.01 455.79,472.08 456.34,471.8 C456.89,471.52 456.56,470.85 457,470.38 C457.44,469.9 458.45,469.24 459.01,468.98 C459.57,468.71 459.9,468.8 460.35,468.8 C460.8,468.8 461.13,468.71 461.69,468.98 C462.25,469.24 463.02,469.9 463.7,470.38 C464.38,470.85 464.38,471.52 465.75,471.8 C467.12,472.08 470.88,472.01 471.9,472.05 L471.9,472.55 C470.88,472.59 467.12,472.52 465.75,472.8 C464.38,473.08 464.38,473.75 463.7,474.23 C463.02,474.7 462.25,475.36 461.69,475.62 C461.13,475.89 460.8,475.8 460.35,475.8 C459.9,475.8 459.57,475.89 459.01,475.62 C458.45,475.36 457.44,474.7 457,474.23 C456.56,473.75 456.89,473.08 456.34,472.8 C455.79,472.52 454.14,472.59 453.7,472.55 Z" fill="#b84450" stroke="#772c34" stroke-width="0.55" stroke-linejoin="round"/>
<line x1="459.18" y1="470.38" x2="459.18" y2="474.23" stroke="#fff" stroke-width="0.35" />
<line x1="461.52" y1="470.38" x2="461.52" y2="474.23" stroke="#fff" stroke-width="0.35" />
<path d="M454.1,480.85 C454.17,480.81 454.42,480.88 454.5,480.6 C454.58,480.32 454.13,479.65 454.6,479.18 C455.07,478.7 456.57,478.04 457.33,477.78 C458.09,477.51 458.54,477.6 459.15,477.6 C459.76,477.6 460.21,477.51 460.97,477.78 C461.73,478.04 463.22,478.7 463.7,479.18 C464.18,479.65 463.74,480.32 463.82,480.6 C463.91,480.88 464.14,480.81 464.2,480.85 L464.2,481.35 C464.14,481.39 463.91,481.32 463.82,481.6 C463.74,481.88 464.18,482.55 463.7,483.03 C463.22,483.5 461.73,484.16 460.97,484.43 C460.21,484.69 459.76,484.6 459.15,484.6 C458.54,484.6 458.09,484.69 457.33,484.43 C456.57,484.16 455.07,483.5 454.6,483.03 C454.13,482.55 454.58,481.88 454.5,481.6 C454.42,481.32 454.17,481.39 454.1,481.35 Z" fill="#de8a3c" stroke="#905927" stroke-width="0.55" stroke-linejoin="round"/>
<line x1="457.56" y1="479.18" x2="457.56" y2="483.03" stroke="#fff" stroke-width="0.35" />
<line x1="460.74" y1="479.18" x2="460.74" y2="483.03" stroke="#fff" stroke-width="0.35" />
<path d="M459.5,489.55 C460.17,489.51 462.67,489.58 463.5,489.3 C464.33,489.02 463.92,488.35 464.5,487.88 C465.08,487.4 466.3,486.74 466.99,486.48 C467.68,486.21 468.1,486.3 468.65,486.3 C469.2,486.3 469.62,486.21 470.31,486.48 C471,486.74 472.42,487.4 472.8,487.88 C473.18,488.35 472.73,489.02 472.6,489.3 C472.47,489.58 472.1,489.51 472,489.55 L472,490.05 C472.1,490.09 472.47,490.02 472.6,490.3 C472.73,490.58 473.18,491.25 472.8,491.73 C472.42,492.2 471,492.86 470.31,493.12 C469.62,493.39 469.2,493.3 468.65,493.3 C468.1,493.3 467.68,493.39 466.99,493.12 C466.3,492.86 465.08,492.2 464.5,491.73 C463.92,491.25 464.33,490.58 463.5,490.3 C462.67,490.02 460.17,490.09 459.5,490.05 Z" fill="#b84450" stroke="#772c34" stroke-width="0.55" stroke-linejoin="round"/>
<line x1="467.2" y1="487.88" x2="467.2" y2="491.73" stroke="#fff" stroke-width="0.35" />
<line x1="470.1" y1="487.88" x2="470.1" y2="491.73" stroke="#fff" stroke-width="0.35" />
<path d="M458.2,498.15 C458.27,498.11 458.52,498.18 458.6,497.9 C458.68,497.62 458.14,496.95 458.7,496.47 C459.26,496 461.04,495.34 461.94,495.07 C462.84,494.81 463.38,494.9 464.1,494.9 C464.82,494.9 465.36,494.81 466.26,495.07 C467.16,495.34 468.94,496 469.5,496.47 C470.06,496.95 469.54,497.62 469.62,497.9 C469.71,498.18 469.94,498.11 470,498.15 L470,498.65 C469.94,498.69 469.71,498.62 469.62,498.9 C469.54,499.18 470.06,499.85 469.5,500.32 C468.94,500.8 467.16,501.46 466.26,501.72 C465.36,501.99 464.82,501.9 464.1,501.9 C463.38,501.9 462.84,501.99 461.94,501.72 C461.04,501.46 459.26,500.8 458.7,500.32 C458.14,499.85 458.68,499.18 458.6,498.9 C458.52,498.62 458.27,498.69 458.2,498.65 Z" fill="#de8a3c" stroke="#905927" stroke-width="0.55" stroke-linejoin="round"/>
<line x1="462.21" y1="496.47" x2="462.21" y2="500.32" stroke="#fff" stroke-width="0.35" />
<line x1="465.99" y1="496.47" x2="465.99" y2="500.32" stroke="#fff" stroke-width="0.35" />
<path d="M443.5,572.1 C443.75,571.5 443.93,569 445,568.5 C446.07,568 448.39,568.73 449.92,569.1 C451.45,569.47 452.91,570.22 454.2,570.7 C455.49,571.18 455.75,571.74 457.68,572 C459.61,572.26 464.45,572.21 465.8,572.25 L465.8,572.75 C464.45,572.79 459.61,572.74 457.68,573 C455.75,573.26 455.49,573.82 454.2,574.3 C452.91,574.78 451.45,575.53 449.92,575.9 C448.39,576.27 446.07,577 445,576.5 C443.93,576 443.75,573.5 443.5,572.9 Z" fill="#b83040" stroke="#771f29" stroke-width="0.55" stroke-linejoin="round"/>
<rect x="445.3" y="570.1" width="4.81" height="4.8" fill="none" stroke="#fff" stroke-width="0.4"/>
<path d="M442.6,581.2 C442.85,580.52 443.35,577.67 444.1,577.1 C444.85,576.53 446.1,577.36 447.1,577.77 C448.1,578.19 448.94,579.02 450.1,579.58 C451.26,580.13 451.86,580.8 454.06,581.1 C456.26,581.4 461.76,581.31 463.3,581.35 L463.3,581.85 C461.76,581.89 456.26,581.8 454.06,582.1 C451.86,582.4 451.26,583.07 450.1,583.62 C448.94,584.18 448.1,585.01 447.1,585.43 C446.1,585.84 444.85,586.67 444.1,586.1 C443.35,585.53 442.85,582.68 442.6,582 Z" fill="#e0943c" stroke="#916027" stroke-width="0.55" stroke-linejoin="round"/>
<rect x="444.4" y="578.9" width="3.38" height="5.4" fill="none" stroke="#fff" stroke-width="0.4"/>
<path d="M446,590.45 C447.32,590.41 452.27,590.53 453.92,590.2 C455.57,589.88 455.2,589.05 455.9,588.5 C456.6,587.95 457.5,587.2 458.12,586.9 C458.74,586.6 459.11,586.7 459.6,586.7 C460.09,586.7 460.46,586.6 461.08,586.9 C461.7,587.2 462.69,587.95 463.3,588.5 C463.91,589.05 463.78,589.88 464.75,590.2 C465.72,590.53 468.38,590.41 469.1,590.45 L469.1,590.95 C468.38,590.99 465.72,590.88 464.75,591.2 C463.78,591.53 463.91,592.35 463.3,592.9 C462.69,593.45 461.7,594.2 461.08,594.5 C460.46,594.8 460.09,594.7 459.6,594.7 C459.11,594.7 458.74,594.8 458.12,594.5 C457.5,594.2 456.6,593.45 455.9,592.9 C455.2,592.35 455.57,591.53 453.92,591.2 C452.27,590.88 447.32,590.99 446,590.95 Z" fill="#2e2c70" stroke="#1d1c48" stroke-width="0.55" stroke-linejoin="round"/>
<line x1="458.31" y1="588.5" x2="458.31" y2="592.9" stroke="#fff" stroke-width="0.35" />
<line x1="460.9" y1="588.5" x2="460.9" y2="592.9" stroke="#fff" stroke-width="0.35" />
<path d="M442.6,599.85 C444.48,599.81 451.53,599.93 453.88,599.6 C456.23,599.27 455.86,598.45 456.7,597.9 C457.54,597.35 458.3,596.6 458.92,596.3 C459.54,596 459.91,596.1 460.4,596.1 C460.89,596.1 461.26,596 461.88,596.3 C462.5,596.6 463.49,597.35 464.1,597.9 C464.71,598.45 464.58,599.27 465.55,599.6 C466.52,599.93 469.17,599.81 469.9,599.85 L469.9,600.35 C469.17,600.39 466.52,600.27 465.55,600.6 C464.58,600.93 464.71,601.75 464.1,602.3 C463.49,602.85 462.5,603.6 461.88,603.9 C461.26,604.2 460.89,604.1 460.4,604.1 C459.91,604.1 459.54,604.2 458.92,603.9 C458.3,603.6 457.54,602.85 456.7,602.3 C455.86,601.75 456.23,600.93 453.88,600.6 C451.53,600.27 444.48,600.39 442.6,600.35 Z" fill="#6a2a8e" stroke="#441b5c" stroke-width="0.55" stroke-linejoin="round"/>
<line x1="459.1" y1="597.9" x2="459.1" y2="602.3" stroke="#fff" stroke-width="0.35" />
<line x1="461.69" y1="597.9" x2="461.69" y2="602.3" stroke="#fff" stroke-width="0.35" />
<path d="M448.4,609.15 C449.51,609.11 453.66,609.23 455.04,608.9 C456.42,608.57 456.05,607.75 456.7,607.2 C457.35,606.65 458.3,605.9 458.92,605.6 C459.54,605.3 459.91,605.4 460.4,605.4 C460.89,605.4 461.26,605.3 461.88,605.6 C462.5,605.9 463.38,606.65 464.1,607.2 C464.82,607.75 464.79,608.57 466.18,608.9 C467.56,609.23 471.36,609.11 472.4,609.15 L472.4,609.65 C471.36,609.69 467.56,609.57 466.18,609.9 C464.79,610.23 464.82,611.05 464.1,611.6 C463.38,612.15 462.5,612.9 461.88,613.2 C461.26,613.5 460.89,613.4 460.4,613.4 C459.91,613.4 459.54,613.5 458.92,613.2 C458.3,612.9 457.35,612.15 456.7,611.6 C456.05,611.05 456.42,610.23 455.04,609.9 C453.66,609.57 449.51,609.69 448.4,609.65 Z" fill="#6a2a8e" stroke="#441b5c" stroke-width="0.55" stroke-linejoin="round"/>
<line x1="459.1" y1="607.2" x2="459.1" y2="611.6" stroke="#fff" stroke-width="0.35" />
<line x1="461.69" y1="607.2" x2="461.69" y2="611.6" stroke="#fff" stroke-width="0.35" />
<path d="M446.8,618.55 C447.89,618.51 451.99,618.62 453.36,618.3 C454.73,617.97 454.27,617.15 455,616.6 C455.73,616.05 456.97,615.3 457.73,615 C458.49,614.7 458.94,614.8 459.55,614.8 C460.16,614.8 460.61,614.7 461.37,615 C462.13,615.3 463.3,616.05 464.1,616.6 C464.9,617.15 464.79,617.97 466.18,618.3 C467.56,618.62 471.36,618.51 472.4,618.55 L472.4,619.05 C471.36,619.09 467.56,618.97 466.18,619.3 C464.79,619.62 464.9,620.45 464.1,621 C463.3,621.55 462.13,622.3 461.37,622.6 C460.61,622.9 460.16,622.8 459.55,622.8 C458.94,622.8 458.49,622.9 457.73,622.6 C456.97,622.3 455.73,621.55 455,621 C454.27,620.45 454.73,619.62 453.36,619.3 C451.99,618.97 447.89,619.09 446.8,619.05 Z" fill="#a6acdc" stroke="#6b6f8f" stroke-width="0.55" stroke-linejoin="round"/>
<line x1="457.96" y1="616.6" x2="457.96" y2="621" stroke="#fff" stroke-width="0.35" />
<line x1="461.14" y1="616.6" x2="461.14" y2="621" stroke="#fff" stroke-width="0.35" />
<path d="M441.8,628.3 C442.05,627.73 442.47,625.37 443.3,624.9 C444.13,624.43 445.65,625.12 446.78,625.47 C447.91,625.82 449.05,626.53 450.1,626.99 C451.15,627.45 451.42,627.96 453.07,628.2 C454.72,628.44 458.85,628.41 460,628.45 L460,628.95 C458.85,628.99 454.72,628.96 453.07,629.2 C451.42,629.44 451.15,629.96 450.1,630.41 C449.05,630.87 447.91,631.58 446.78,631.93 C445.65,632.28 444.13,632.97 443.3,632.5 C442.47,632.03 442.05,629.67 441.8,629.1 Z" fill="#b83040" stroke="#771f29" stroke-width="0.55" stroke-linejoin="round"/>
<rect x="443.6" y="626.42" width="3.74" height="4.56" fill="none" stroke="#fff" stroke-width="0.4"/>
<path d="M441.8,637.4 C442.05,636.72 442.64,633.87 443.3,633.3 C443.96,632.73 444.91,633.56 445.76,633.97 C446.61,634.39 447.54,635.22 448.4,635.77 C449.25,636.33 449.51,637 450.89,637.3 C452.27,637.6 455.73,637.51 456.7,637.55 L456.7,638.05 C455.73,638.09 452.27,638 450.89,638.3 C449.51,638.6 449.25,639.27 448.4,639.82 C447.54,640.38 446.61,641.21 445.76,641.62 C444.91,642.04 443.96,642.87 443.3,642.3 C442.64,641.73 442.05,638.88 441.8,638.2 Z" fill="#e0943c" stroke="#916027" stroke-width="0.55" stroke-linejoin="round"/>
<rect x="443.6" y="635.1" width="2.97" height="5.4" fill="none" stroke="#fff" stroke-width="0.4"/>
<path d="M441.8,646.75 C443.35,646.71 449.15,646.81 451.08,646.5 C453.01,646.19 452.72,645.43 453.4,644.91 C454.08,644.39 454.66,643.67 455.14,643.39 C455.62,643.11 455.91,643.2 456.3,643.2 C456.69,643.2 456.98,643.11 457.46,643.39 C457.94,643.67 458.6,644.39 459.2,644.91 C459.8,645.43 459.82,646.19 461.05,646.5 C462.28,646.81 465.68,646.71 466.6,646.75 L466.6,647.25 C465.68,647.29 462.28,647.19 461.05,647.5 C459.82,647.81 459.8,648.57 459.2,649.09 C458.6,649.61 457.94,650.33 457.46,650.61 C456.98,650.89 456.69,650.8 456.3,650.8 C455.91,650.8 455.62,650.89 455.14,650.61 C454.66,650.33 454.08,649.61 453.4,649.09 C452.72,648.57 453.01,647.81 451.08,647.5 C449.15,647.19 443.35,647.29 441.8,647.25 Z" fill="#2e2c70" stroke="#1d1c48" stroke-width="0.55" stroke-linejoin="round"/>
<line x1="455.28" y1="644.91" x2="455.28" y2="649.09" stroke="#fff" stroke-width="0.35" />
<line x1="457.31" y1="644.91" x2="457.31" y2="649.09" stroke="#fff" stroke-width="0.35" />
<path d="M441.8,656.15 C443.45,656.11 449.65,656.21 451.72,655.9 C453.79,655.59 453.46,654.83 454.2,654.31 C454.94,653.79 455.63,653.07 456.18,652.79 C456.73,652.5 457.06,652.6 457.5,652.6 C457.94,652.6 458.27,652.5 458.82,652.79 C459.37,653.07 460.33,653.79 460.8,654.31 C461.27,654.83 461.07,655.59 461.62,655.9 C462.18,656.21 463.69,656.11 464.1,656.15 L464.1,656.65 C463.69,656.69 462.18,656.59 461.62,656.9 C461.07,657.21 461.27,657.97 460.8,658.49 C460.33,659.01 459.37,659.73 458.82,660.01 C458.27,660.29 457.94,660.2 457.5,660.2 C457.06,660.2 456.73,660.29 456.18,660.01 C455.63,659.73 454.94,659.01 454.2,658.49 C453.46,657.97 453.79,657.21 451.72,656.9 C449.65,656.59 443.45,656.69 441.8,656.65 Z" fill="#6a2a8e" stroke="#441b5c" stroke-width="0.55" stroke-linejoin="round"/>
<line x1="456.34" y1="654.31" x2="456.34" y2="658.49" stroke="#fff" stroke-width="0.35" />
<line x1="458.66" y1="654.31" x2="458.66" y2="658.49" stroke="#fff" stroke-width="0.35" />
<line x1="442.6" y1="665.2" x2="490" y2="665.2" stroke="#6a2a8e" stroke-width="1.0" />
<rect x="459.2" y="661.7" width="8.3" height="7" fill="#fff" stroke="#6a2a8e" stroke-width="0.7"/>
<line x1="463.35" y1="661.7" x2="463.35" y2="668.7" stroke="#6a2a8e" stroke-width="0.6" />
<line x1="459.2" y1="663.98" x2="467.5" y2="663.98" stroke="#6a2a8e" stroke-width="0.4" />
<line x1="459.2" y1="666.43" x2="467.5" y2="666.43" stroke="#6a2a8e" stroke-width="0.4" />
<line x1="441.8" y1="674.3" x2="490" y2="674.3" stroke="#9098d0" stroke-width="1.0" />
<rect x="457.5" y="670.8" width="7.5" height="7" fill="#fff" stroke="#9098d0" stroke-width="0.7"/>
<line x1="461.25" y1="670.8" x2="461.25" y2="677.8" stroke="#9098d0" stroke-width="0.6" />
<line x1="457.5" y1="673.07" x2="465" y2="673.07" stroke="#9098d0" stroke-width="0.4" />
<line x1="457.5" y1="675.52" x2="465" y2="675.52" stroke="#9098d0" stroke-width="0.4" /></svg>
</body></html>
